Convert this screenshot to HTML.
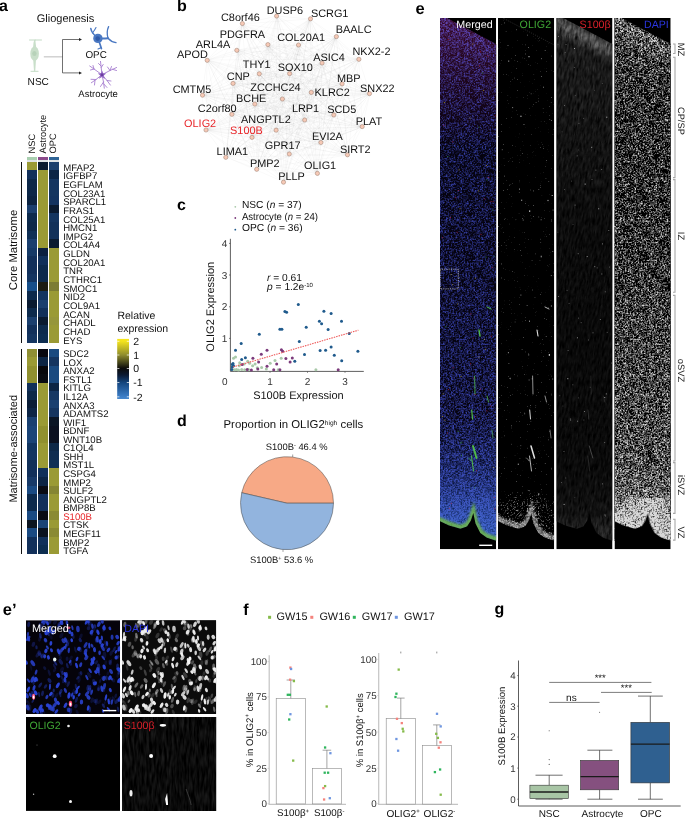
<!DOCTYPE html>
<html><head><meta charset="utf-8"><title>Figure</title>
<style>
html,body{margin:0;padding:0;background:#fff;}
body{width:685px;height:818px;overflow:hidden;}
svg{display:block;font-family:"Liberation Sans",Arial,sans-serif;text-rendering:geometricPrecision;}
</style></head><body>
<svg width="685" height="818" viewBox="0 0 685 818">
<rect width="685" height="818" fill="#fff"/>

<text x="-1" y="11.2" font-size="16" font-weight="bold" fill="#000">a</text>
<text x="177" y="10.6" font-size="16" font-weight="bold" fill="#000">b</text>
<text x="177" y="209.6" font-size="16" font-weight="bold" fill="#000">c</text>
<text x="177" y="425.5" font-size="16" font-weight="bold" fill="#000">d</text>
<text x="415.6" y="13.5" font-size="16.5" font-weight="bold" fill="#000">e</text>
<text x="2.8" y="614.5" font-size="16.5" font-weight="bold" fill="#000">e’</text>
<text x="243.3" y="614.6" font-size="16" font-weight="bold" fill="#000">f</text>
<text x="494.6" y="614.4" font-size="16" font-weight="bold" fill="#000">g</text>
<g id="schem">
<text x="36.80" y="22.34" font-size="11" text-anchor="start" fill="#111">Gliogenesis</text>
<g fill="none" stroke="#c3dbc5" stroke-width="1" stroke-linecap="round"><path d="M29.5 40 H41.5 M35 40 C33.5 43 34.6 45 34.6 47 M34.6 60 C34.6 64 34.6 68 34.6 71 M31 71.3 H38.1"/></g>
<ellipse cx="34.6" cy="53.7" rx="4.3" ry="7.2" fill="#c9dfca"/>
<ellipse cx="34.4" cy="53.5" rx="2.2" ry="2.6" fill="#b7d2b9"/>
<path d="M34.1 40 L33 47.5 L36.2 47.5 L35.3 40Z M33.2 59.5 L34 71 L35.2 71 L36 59.5Z" fill="#c9dfca"/>
<path d="M43.8 56.8 H62.5" stroke="#cfcfcf" stroke-width="1.4"/>
<path d="M80 39.5 H62.5 V72.9 H80" fill="none" stroke="#333" stroke-width="0.7"/>
<path d="M82 39.5 l-3 -1.5 v3z M82 72.9 l-3 -1.5 v3z" fill="#222"/>
<g stroke="#4a78c2" fill="none" stroke-linecap="round" stroke-linejoin="round"><path d="M97.9 38.4 C94 35 91.5 33 90.8 28.5" stroke-width="1.6"/><path d="M92.5 33 C94 31 95 29.5 96 27.5" stroke-width="1.1"/><path d="M97.9 38.4 C102 38.6 105 38.6 108 38.2" stroke-width="2"/><path d="M108 38.2 C106.8 34 107 30 108.6 26.6" stroke-width="1.3"/><path d="M108 38.2 C110.5 41 113 42.2 116 42.6" stroke-width="1.4"/><path d="M97.9 38.4 C99.5 43 100.5 45.5 101.4 48.6" stroke-width="1.7"/><path d="M101.2 47.5 C100 48.2 99 48.6 98 49" stroke-width="1.1"/></g>
<circle cx="97.9" cy="38.4" r="4.7" fill="#4a78c2"/>
<circle cx="97.7" cy="38.6" r="2.3" fill="#2f5aa8"/>
<text x="85.40" y="57.74" font-size="9.9" text-anchor="start" fill="#111">OPC</text>
<g stroke="#a77fd0" fill="none" stroke-linecap="round" stroke-width="0.9"><path d="M102 74.7 L100.5 61.4 M101 66 L98.5 63.5 M101.2 67.5 L103.2 64.5"/><path d="M102 74.7 L110 70.5 L116.6 67.5 M110 70.5 L111.5 66.5 M112.5 69.3 L116.5 70.5 M110 70.5 L107.5 67"/><path d="M102 74.7 L94 69 L89.7 66 M94 69 L93 65.5 M94 69 L90.5 70"/><path d="M102 74.7 L96 79.5 L91.3 82.8 M96 79.5 L91 79.3 M95 80.3 L94.5 85"/><path d="M102 74.7 L103.5 82 L104.3 88.2 M103.5 82 L100.5 86.5 M103.8 84 L107 87.5"/><path d="M102 74.7 L107 80.5 L110.4 85.1 M107 80.5 L111 81"/></g>
<path d="M102 70.5 L103.3 73.3 L106.2 73.6 L103.8 75.6 L105 79 L102 76.9 L98.8 78.8 L100.2 75.6 L97.8 73.4 L100.8 73.3Z" fill="#9a6fc9"/>
<circle cx="102" cy="74.8" r="1.5" fill="#6b3fa0"/>
<text x="78.30" y="97.44" font-size="9.6" text-anchor="start" fill="#111" textLength="39.6" lengthAdjust="spacingAndGlyphs">Astrocyte</text>
<text x="27.60" y="85.42" font-size="10.1" text-anchor="start" fill="#111">NSC</text>
</g>
<g id="heat" shape-rendering="crispEdges">
<rect x="26.9" y="157.1" width="10.2" height="2.9" fill="#a9cfb0"/>
<rect x="26.9" y="160" width="10.2" height="1.7" fill="#dfe3e6"/>
<rect x="37.9" y="157.1" width="10.1" height="2.9" fill="#8b4a8b"/>
<rect x="37.9" y="160" width="10.1" height="1.7" fill="#dfe3e6"/>
<rect x="48.8" y="157.1" width="10.2" height="2.9" fill="#2f6496"/>
<rect x="48.8" y="160" width="10.2" height="1.7" fill="#dfe3e6"/>
<rect x="26.9" y="161.70" width="10.2" height="8.66" fill="#9a9a35"/>
<rect x="37.9" y="161.70" width="10.1" height="8.66" fill="#0a1a30"/>
<rect x="48.8" y="161.70" width="10.2" height="8.66" fill="#1b3f6e"/>
<rect x="26.9" y="170.31" width="10.2" height="8.66" fill="#12305a"/>
<rect x="37.9" y="170.31" width="10.1" height="8.66" fill="#9a9a35"/>
<rect x="48.8" y="170.31" width="10.2" height="8.66" fill="#0c2545"/>
<rect x="26.9" y="178.93" width="10.2" height="8.66" fill="#0d2848"/>
<rect x="37.9" y="178.93" width="10.1" height="8.66" fill="#9a9a35"/>
<rect x="48.8" y="178.93" width="10.2" height="8.66" fill="#143560"/>
<rect x="26.9" y="187.54" width="10.2" height="8.66" fill="#0d2747"/>
<rect x="37.9" y="187.54" width="10.1" height="8.66" fill="#9a9a35"/>
<rect x="48.8" y="187.54" width="10.2" height="8.66" fill="#143560"/>
<rect x="26.9" y="196.16" width="10.2" height="8.66" fill="#0c2340"/>
<rect x="37.9" y="196.16" width="10.1" height="8.66" fill="#9a9a35"/>
<rect x="48.8" y="196.16" width="10.2" height="8.66" fill="#133360"/>
<rect x="26.9" y="204.77" width="10.2" height="8.66" fill="#1b3f6e"/>
<rect x="37.9" y="204.77" width="10.1" height="8.66" fill="#9a9a35"/>
<rect x="48.8" y="204.77" width="10.2" height="8.66" fill="#0a1a30"/>
<rect x="26.9" y="213.39" width="10.2" height="8.66" fill="#0d2a4c"/>
<rect x="37.9" y="213.39" width="10.1" height="8.66" fill="#9a9a35"/>
<rect x="48.8" y="213.39" width="10.2" height="8.66" fill="#143560"/>
<rect x="26.9" y="222.00" width="10.2" height="8.66" fill="#0d2848"/>
<rect x="37.9" y="222.00" width="10.1" height="8.66" fill="#9a9a35"/>
<rect x="48.8" y="222.00" width="10.2" height="8.66" fill="#12315a"/>
<rect x="26.9" y="230.61" width="10.2" height="8.66" fill="#103055"/>
<rect x="37.9" y="230.61" width="10.1" height="8.66" fill="#9a9a35"/>
<rect x="48.8" y="230.61" width="10.2" height="8.66" fill="#12315a"/>
<rect x="26.9" y="239.23" width="10.2" height="8.66" fill="#1b3f6e"/>
<rect x="37.9" y="239.23" width="10.1" height="8.66" fill="#9a9a35"/>
<rect x="48.8" y="239.23" width="10.2" height="8.66" fill="#0a1a30"/>
<rect x="26.9" y="247.84" width="10.2" height="8.66" fill="#163a66"/>
<rect x="37.9" y="247.84" width="10.1" height="8.66" fill="#0c2040"/>
<rect x="48.8" y="247.84" width="10.2" height="8.66" fill="#9a9a35"/>
<rect x="26.9" y="256.46" width="10.2" height="8.66" fill="#12305a"/>
<rect x="37.9" y="256.46" width="10.1" height="8.66" fill="#11305a"/>
<rect x="48.8" y="256.46" width="10.2" height="8.66" fill="#9a9a35"/>
<rect x="26.9" y="265.07" width="10.2" height="8.66" fill="#12305a"/>
<rect x="37.9" y="265.07" width="10.1" height="8.66" fill="#0d2a4c"/>
<rect x="48.8" y="265.07" width="10.2" height="8.66" fill="#9a9a35"/>
<rect x="26.9" y="273.69" width="10.2" height="8.66" fill="#143560"/>
<rect x="37.9" y="273.69" width="10.1" height="8.66" fill="#0d2a4c"/>
<rect x="48.8" y="273.69" width="10.2" height="8.66" fill="#9a9a35"/>
<rect x="26.9" y="282.30" width="10.2" height="8.66" fill="#174f8a"/>
<rect x="37.9" y="282.30" width="10.1" height="8.66" fill="#1c1c12"/>
<rect x="48.8" y="282.30" width="10.2" height="8.66" fill="#7c7c34"/>
<rect x="26.9" y="290.91" width="10.2" height="8.66" fill="#0d2a4c"/>
<rect x="37.9" y="290.91" width="10.1" height="8.66" fill="#143560"/>
<rect x="48.8" y="290.91" width="10.2" height="8.66" fill="#9a9a35"/>
<rect x="26.9" y="299.53" width="10.2" height="8.66" fill="#0a1a30"/>
<rect x="37.9" y="299.53" width="10.1" height="8.66" fill="#1b3f6e"/>
<rect x="48.8" y="299.53" width="10.2" height="8.66" fill="#9a9a35"/>
<rect x="26.9" y="308.14" width="10.2" height="8.66" fill="#0d2a4c"/>
<rect x="37.9" y="308.14" width="10.1" height="8.66" fill="#12305a"/>
<rect x="48.8" y="308.14" width="10.2" height="8.66" fill="#9a9a35"/>
<rect x="26.9" y="316.76" width="10.2" height="8.66" fill="#1b3f6e"/>
<rect x="37.9" y="316.76" width="10.1" height="8.66" fill="#0a1a30"/>
<rect x="48.8" y="316.76" width="10.2" height="8.66" fill="#96963a"/>
<rect x="26.9" y="325.37" width="10.2" height="8.66" fill="#12305a"/>
<rect x="37.9" y="325.37" width="10.1" height="8.66" fill="#0d2a4c"/>
<rect x="48.8" y="325.37" width="10.2" height="8.66" fill="#9a9a35"/>
<rect x="26.9" y="333.99" width="10.2" height="8.66" fill="#143560"/>
<rect x="37.9" y="333.99" width="10.1" height="8.66" fill="#0d2d50"/>
<rect x="48.8" y="333.99" width="10.2" height="8.66" fill="#9a9a35"/>
<rect x="26.9" y="348.50" width="10.2" height="8.61" fill="#8f8f34"/>
<rect x="37.9" y="348.50" width="10.1" height="8.61" fill="#080810"/>
<rect x="48.8" y="348.50" width="10.2" height="8.61" fill="#1a4a80"/>
<rect x="26.9" y="357.06" width="10.2" height="8.61" fill="#9a9a35"/>
<rect x="37.9" y="357.06" width="10.1" height="8.61" fill="#0c2545"/>
<rect x="48.8" y="357.06" width="10.2" height="8.61" fill="#153560"/>
<rect x="26.9" y="365.62" width="10.2" height="8.61" fill="#90902f"/>
<rect x="37.9" y="365.62" width="10.1" height="8.61" fill="#08080c"/>
<rect x="48.8" y="365.62" width="10.2" height="8.61" fill="#1a4a80"/>
<rect x="26.9" y="374.19" width="10.2" height="8.61" fill="#90902f"/>
<rect x="37.9" y="374.19" width="10.1" height="8.61" fill="#0a0c12"/>
<rect x="48.8" y="374.19" width="10.2" height="8.61" fill="#1a4a80"/>
<rect x="26.9" y="382.75" width="10.2" height="8.61" fill="#12305a"/>
<rect x="37.9" y="382.75" width="10.1" height="8.61" fill="#9a9a35"/>
<rect x="48.8" y="382.75" width="10.2" height="8.61" fill="#0c2545"/>
<rect x="26.9" y="391.31" width="10.2" height="8.61" fill="#0d2848"/>
<rect x="37.9" y="391.31" width="10.1" height="8.61" fill="#9a9a35"/>
<rect x="48.8" y="391.31" width="10.2" height="8.61" fill="#173863"/>
<rect x="26.9" y="399.88" width="10.2" height="8.61" fill="#0b1d36"/>
<rect x="37.9" y="399.88" width="10.1" height="8.61" fill="#9a9a35"/>
<rect x="48.8" y="399.88" width="10.2" height="8.61" fill="#1a4070"/>
<rect x="26.9" y="408.44" width="10.2" height="8.61" fill="#0d2545"/>
<rect x="37.9" y="408.44" width="10.1" height="8.61" fill="#9a9a35"/>
<rect x="48.8" y="408.44" width="10.2" height="8.61" fill="#153560"/>
<rect x="26.9" y="417.00" width="10.2" height="8.61" fill="#1a4070"/>
<rect x="37.9" y="417.00" width="10.1" height="8.61" fill="#9a9a35"/>
<rect x="48.8" y="417.00" width="10.2" height="8.61" fill="#0a1525"/>
<rect x="26.9" y="425.56" width="10.2" height="8.61" fill="#1b4477"/>
<rect x="37.9" y="425.56" width="10.1" height="8.61" fill="#90902f"/>
<rect x="48.8" y="425.56" width="10.2" height="8.61" fill="#0a1020"/>
<rect x="26.9" y="434.12" width="10.2" height="8.61" fill="#1b4477"/>
<rect x="37.9" y="434.12" width="10.1" height="8.61" fill="#90902f"/>
<rect x="48.8" y="434.12" width="10.2" height="8.61" fill="#0a1020"/>
<rect x="26.9" y="442.69" width="10.2" height="8.61" fill="#123560"/>
<rect x="37.9" y="442.69" width="10.1" height="8.61" fill="#9a9a35"/>
<rect x="48.8" y="442.69" width="10.2" height="8.61" fill="#0d2848"/>
<rect x="26.9" y="451.25" width="10.2" height="8.61" fill="#143560"/>
<rect x="37.9" y="451.25" width="10.1" height="8.61" fill="#9a9a35"/>
<rect x="48.8" y="451.25" width="10.2" height="8.61" fill="#0f2c50"/>
<rect x="26.9" y="459.81" width="10.2" height="8.61" fill="#123058"/>
<rect x="37.9" y="459.81" width="10.1" height="8.61" fill="#9a9a35"/>
<rect x="48.8" y="459.81" width="10.2" height="8.61" fill="#103055"/>
<rect x="26.9" y="468.38" width="10.2" height="8.61" fill="#12305a"/>
<rect x="37.9" y="468.38" width="10.1" height="8.61" fill="#10305a"/>
<rect x="48.8" y="468.38" width="10.2" height="8.61" fill="#9a9a35"/>
<rect x="26.9" y="476.94" width="10.2" height="8.61" fill="#183a68"/>
<rect x="37.9" y="476.94" width="10.1" height="8.61" fill="#0c2545"/>
<rect x="48.8" y="476.94" width="10.2" height="8.61" fill="#9a9a35"/>
<rect x="26.9" y="485.50" width="10.2" height="8.61" fill="#1a4a82"/>
<rect x="37.9" y="485.50" width="10.1" height="8.61" fill="#0a0c14"/>
<rect x="48.8" y="485.50" width="10.2" height="8.61" fill="#858533"/>
<rect x="26.9" y="494.06" width="10.2" height="8.61" fill="#0d2a4c"/>
<rect x="37.9" y="494.06" width="10.1" height="8.61" fill="#12305a"/>
<rect x="48.8" y="494.06" width="10.2" height="8.61" fill="#9a9a35"/>
<rect x="26.9" y="502.62" width="10.2" height="8.61" fill="#0d2a4c"/>
<rect x="37.9" y="502.62" width="10.1" height="8.61" fill="#12305a"/>
<rect x="48.8" y="502.62" width="10.2" height="8.61" fill="#9a9a35"/>
<rect x="26.9" y="511.19" width="10.2" height="8.61" fill="#1a4a82"/>
<rect x="37.9" y="511.19" width="10.1" height="8.61" fill="#0a0c14"/>
<rect x="48.8" y="511.19" width="10.2" height="8.61" fill="#8a8a33"/>
<rect x="26.9" y="519.75" width="10.2" height="8.61" fill="#0c1520"/>
<rect x="37.9" y="519.75" width="10.1" height="8.61" fill="#1b4477"/>
<rect x="48.8" y="519.75" width="10.2" height="8.61" fill="#9a9a35"/>
<rect x="26.9" y="528.31" width="10.2" height="8.61" fill="#1a4a82"/>
<rect x="37.9" y="528.31" width="10.1" height="8.61" fill="#0a1220"/>
<rect x="48.8" y="528.31" width="10.2" height="8.61" fill="#8a8a33"/>
<rect x="26.9" y="536.88" width="10.2" height="8.61" fill="#12305a"/>
<rect x="37.9" y="536.88" width="10.1" height="8.61" fill="#11305a"/>
<rect x="48.8" y="536.88" width="10.2" height="8.61" fill="#9a9a35"/>
<rect x="26.9" y="545.44" width="10.2" height="8.61" fill="#12305a"/>
<rect x="37.9" y="545.44" width="10.1" height="8.61" fill="#0d2d50"/>
<rect x="48.8" y="545.44" width="10.2" height="8.61" fill="#9a9a35"/>
<rect x="21.3" y="161.9" width="1" height="180.7" fill="#111"/>
<rect x="21.3" y="348.5" width="1" height="205.5" fill="#111"/>
</g>
<text x="63.20" y="170.64" font-size="9.6" text-anchor="start" fill="#111">MFAP2</text>
<text x="63.20" y="179.28" font-size="9.6" text-anchor="start" fill="#111">IGFBP7</text>
<text x="63.20" y="187.93" font-size="9.6" text-anchor="start" fill="#111">EGFLAM</text>
<text x="63.20" y="196.57" font-size="9.6" text-anchor="start" fill="#111">COL23A1</text>
<text x="63.20" y="205.22" font-size="9.6" text-anchor="start" fill="#111">SPARCL1</text>
<text x="63.20" y="213.86" font-size="9.6" text-anchor="start" fill="#111">FRAS1</text>
<text x="63.20" y="222.51" font-size="9.6" text-anchor="start" fill="#111">COL25A1</text>
<text x="63.20" y="231.15" font-size="9.6" text-anchor="start" fill="#111">HMCN1</text>
<text x="63.20" y="239.80" font-size="9.6" text-anchor="start" fill="#111">IMPG2</text>
<text x="63.20" y="248.44" font-size="9.6" text-anchor="start" fill="#111">COL4A4</text>
<text x="63.20" y="257.09" font-size="9.6" text-anchor="start" fill="#111">GLDN</text>
<text x="63.20" y="265.73" font-size="9.6" text-anchor="start" fill="#111">COL20A1</text>
<text x="63.20" y="274.38" font-size="9.6" text-anchor="start" fill="#111">TNR</text>
<text x="63.20" y="283.02" font-size="9.6" text-anchor="start" fill="#111">CTHRC1</text>
<text x="63.20" y="291.67" font-size="9.6" text-anchor="start" fill="#111">SMOC1</text>
<text x="63.20" y="300.31" font-size="9.6" text-anchor="start" fill="#111">NID2</text>
<text x="63.20" y="308.96" font-size="9.6" text-anchor="start" fill="#111">COL9A1</text>
<text x="63.20" y="317.60" font-size="9.6" text-anchor="start" fill="#111">ACAN</text>
<text x="63.20" y="326.25" font-size="9.6" text-anchor="start" fill="#111">CHADL</text>
<text x="63.20" y="334.89" font-size="9.6" text-anchor="start" fill="#111">CHAD</text>
<text x="63.20" y="343.54" font-size="9.6" text-anchor="start" fill="#111">EYS</text>
<text x="63.20" y="357.14" font-size="9.6" text-anchor="start" fill="#111">SDC2</text>
<text x="63.20" y="365.70" font-size="9.6" text-anchor="start" fill="#111">LOX</text>
<text x="63.20" y="374.27" font-size="9.6" text-anchor="start" fill="#111">ANXA2</text>
<text x="63.20" y="382.83" font-size="9.6" text-anchor="start" fill="#111">FSTL1</text>
<text x="63.20" y="391.40" font-size="9.6" text-anchor="start" fill="#111">KITLG</text>
<text x="63.20" y="399.96" font-size="9.6" text-anchor="start" fill="#111">IL12A</text>
<text x="63.20" y="408.53" font-size="9.6" text-anchor="start" fill="#111">ANXA3</text>
<text x="63.20" y="417.09" font-size="9.6" text-anchor="start" fill="#111">ADAMTS2</text>
<text x="63.20" y="425.66" font-size="9.6" text-anchor="start" fill="#111">WIF1</text>
<text x="63.20" y="434.22" font-size="9.6" text-anchor="start" fill="#111">BDNF</text>
<text x="63.20" y="442.79" font-size="9.6" text-anchor="start" fill="#111">WNT10B</text>
<text x="63.20" y="451.35" font-size="9.6" text-anchor="start" fill="#111">C1QL4</text>
<text x="63.20" y="459.92" font-size="9.6" text-anchor="start" fill="#111">SHH</text>
<text x="63.20" y="468.48" font-size="9.6" text-anchor="start" fill="#111">MST1L</text>
<text x="63.20" y="477.05" font-size="9.6" text-anchor="start" fill="#111">CSPG4</text>
<text x="63.20" y="485.62" font-size="9.6" text-anchor="start" fill="#111">MMP2</text>
<text x="63.20" y="494.18" font-size="9.6" text-anchor="start" fill="#111">SULF2</text>
<text x="63.20" y="502.75" font-size="9.6" text-anchor="start" fill="#111">ANGPTL2</text>
<text x="63.20" y="511.31" font-size="9.6" text-anchor="start" fill="#111">BMP8B</text>
<text x="63.20" y="519.88" font-size="9.6" text-anchor="start" fill="#e8262a">S100B</text>
<text x="63.20" y="528.44" font-size="9.6" text-anchor="start" fill="#111">CTSK</text>
<text x="63.20" y="537.01" font-size="9.6" text-anchor="start" fill="#111">MEGF11</text>
<text x="63.20" y="545.57" font-size="9.6" text-anchor="start" fill="#111">BMP2</text>
<text x="63.20" y="554.14" font-size="9.6" text-anchor="start" fill="#111">TGFA</text>
<text x="31.60" y="156.83" font-size="9.3" text-anchor="start" fill="#111" transform="rotate(-90 31.60 153.50)">NSC</text>
<text x="42.50" y="156.83" font-size="9.3" text-anchor="start" fill="#111" transform="rotate(-90 42.50 153.50)">Astrocyte</text>
<text x="52.30" y="156.83" font-size="9.3" text-anchor="start" fill="#111" transform="rotate(-90 52.30 153.50)">OPC</text>
<text x="13.20" y="254.05" font-size="11.3" text-anchor="middle" fill="#111" transform="rotate(-90 13.20 250.00)">Core Matrisome</text>
<text x="13.20" y="452.74" font-size="11" text-anchor="middle" fill="#111" transform="rotate(-90 13.20 448.80)">Matrisome-associated</text>
<defs><linearGradient id="cb" x1="0" y1="0" x2="0" y2="1"><stop offset="0" stop-color="#f7e71c"/><stop offset="0.04" stop-color="#f3e31e"/><stop offset="0.27" stop-color="#8d8b2d"/><stop offset="0.49" stop-color="#0c0c0a"/><stop offset="0.6" stop-color="#0b1a33"/><stop offset="0.73" stop-color="#14467f"/><stop offset="0.96" stop-color="#3c7dc6"/><stop offset="1" stop-color="#4787cc"/></linearGradient></defs>
<rect x="117.2" y="338.9" width="11.8" height="60.1" fill="url(#cb)"/>
<path d="M117.2 341.3 h2.2 M126.8 341.3 h2.2" stroke="#fff" stroke-width="0.7"/>
<text x="133.20" y="345.06" font-size="10.5" text-anchor="start" fill="#111">2</text>
<path d="M117.2 355.0 h2.2 M126.8 355.0 h2.2" stroke="#fff" stroke-width="0.7"/>
<text x="133.20" y="358.76" font-size="10.5" text-anchor="start" fill="#111">1</text>
<path d="M117.2 368.5 h2.2 M126.8 368.5 h2.2" stroke="#fff" stroke-width="0.7"/>
<text x="133.20" y="372.26" font-size="10.5" text-anchor="start" fill="#111">0</text>
<path d="M117.2 382.5 h2.2 M126.8 382.5 h2.2" stroke="#fff" stroke-width="0.7"/>
<text x="133.20" y="386.26" font-size="10.5" text-anchor="start" fill="#111">-1</text>
<path d="M117.2 396.8 h2.2 M126.8 396.8 h2.2" stroke="#fff" stroke-width="0.7"/>
<text x="133.20" y="400.56" font-size="10.5" text-anchor="start" fill="#111">-2</text>
<text x="117.40" y="319.46" font-size="10.5" text-anchor="start" fill="#111">Relative</text>
<text x="117.40" y="331.96" font-size="10.5" text-anchor="start" fill="#111">expression</text>
<g id="net">
<path d="M242 24L277 16M242 24L310 19M242 24L336 37M242 24L268 45M242 24L298 45M242 24L237 50M242 24L207 60M242 24L322 63M242 24L259 74M242 24L233 83M242 24L370 94M242 24L202 95M242 24L282 99M242 24L311 92M242 24L232 114M242 24L305 120M242 24L334 115M242 24L362 127M242 24L206 130M242 24L276 130M242 24L252 137M242 24L321 142M242 24L226 157M242 24L289 154M242 24L317 173M277 16L310 19M277 16L268 45M277 16L207 60M277 16L359 59M277 16L322 63M277 16L290 74M277 16L233 83M277 16L342 84M277 16L370 94M277 16L202 95M277 16L282 99M277 16L311 92M277 16L255 104M277 16L305 120M277 16L276 130M277 16L252 137M277 16L289 154M277 16L257 169M277 16L317 173M310 19L336 37M310 19L268 45M310 19L298 45M310 19L359 59M310 19L259 74M310 19L290 74M310 19L233 83M310 19L342 84M310 19L202 95M310 19L282 99M310 19L311 92M310 19L255 104M310 19L232 114M310 19L362 127M310 19L276 130M310 19L252 137M310 19L321 142M310 19L348 155M310 19L226 157M310 19L289 154M310 19L257 169M310 19L317 173M310 19L284 182M336 37L298 45M336 37L359 59M336 37L322 63M336 37L259 74M336 37L290 74M336 37L233 83M336 37L342 84M336 37L370 94M336 37L282 99M336 37L311 92M336 37L255 104M336 37L232 114M336 37L305 120M336 37L362 127M336 37L206 130M336 37L276 130M336 37L252 137M336 37L321 142M336 37L348 155M336 37L226 157M336 37L289 154M336 37L257 169M336 37L317 173M336 37L284 182M268 45L298 45M268 45L237 50M268 45L207 60M268 45L359 59M268 45L322 63M268 45L259 74M268 45L290 74M268 45L342 84M268 45L370 94M268 45L202 95M268 45L282 99M268 45L311 92M268 45L255 104M268 45L232 114M268 45L305 120M268 45L334 115M268 45L362 127M268 45L206 130M268 45L276 130M268 45L252 137M268 45L321 142M268 45L348 155M268 45L226 157M268 45L257 169M268 45L317 173M268 45L284 182M298 45L237 50M298 45L207 60M298 45L359 59M298 45L322 63M298 45L290 74M298 45L342 84M298 45L370 94M298 45L202 95M298 45L311 92M298 45L255 104M298 45L232 114M298 45L305 120M298 45L334 115M298 45L276 130M298 45L252 137M298 45L348 155M298 45L289 154M298 45L257 169M298 45L317 173M298 45L284 182M237 50L207 60M237 50L359 59M237 50L322 63M237 50L259 74M237 50L290 74M237 50L342 84M237 50L370 94M237 50L255 104M237 50L334 115M237 50L362 127M237 50L276 130M237 50L252 137M237 50L321 142M237 50L348 155M237 50L226 157M237 50L289 154M237 50L257 169M237 50L317 173M207 60L359 59M207 60L259 74M207 60L370 94M207 60L202 95M207 60L282 99M207 60L311 92M207 60L255 104M207 60L232 114M207 60L305 120M207 60L334 115M207 60L206 130M207 60L276 130M207 60L252 137M207 60L348 155M207 60L226 157M207 60L289 154M207 60L257 169M207 60L317 173M359 59L322 63M359 59L259 74M359 59L370 94M359 59L202 95M359 59L311 92M359 59L255 104M359 59L232 114M359 59L305 120M359 59L334 115M359 59L362 127M359 59L206 130M359 59L276 130M359 59L252 137M359 59L321 142M359 59L348 155M359 59L226 157M359 59L317 173M359 59L284 182M322 63L259 74M322 63L290 74M322 63L233 83M322 63L342 84M322 63L370 94M322 63L202 95M322 63L282 99M322 63L311 92M322 63L255 104M322 63L232 114M322 63L305 120M322 63L334 115M322 63L362 127M322 63L206 130M322 63L276 130M322 63L252 137M322 63L321 142M322 63L348 155M322 63L289 154M322 63L257 169M322 63L317 173M322 63L284 182M259 74L290 74M259 74L233 83M259 74L342 84M259 74L370 94M259 74L202 95M259 74L282 99M259 74L311 92M259 74L255 104M259 74L232 114M259 74L305 120M259 74L206 130M259 74L252 137M259 74L321 142M259 74L348 155M259 74L226 157M259 74L257 169M259 74L284 182M290 74L233 83M290 74L342 84M290 74L370 94M290 74L202 95M290 74L282 99M290 74L311 92M290 74L255 104M290 74L232 114M290 74L305 120M290 74L334 115M290 74L362 127M290 74L276 130M290 74L252 137M290 74L348 155M290 74L289 154M290 74L284 182M233 83L342 84M233 83L370 94M233 83L202 95M233 83L282 99M233 83L311 92M233 83L255 104M233 83L232 114M233 83L334 115M233 83L362 127M233 83L206 130M233 83L252 137M233 83L321 142M233 83L348 155M233 83L226 157M233 83L289 154M233 83L257 169M233 83L317 173M233 83L284 182M342 84L370 94M342 84L202 95M342 84L282 99M342 84L311 92M342 84L232 114M342 84L305 120M342 84L334 115M342 84L362 127M342 84L206 130M342 84L276 130M342 84L252 137M342 84L321 142M342 84L348 155M342 84L289 154M342 84L257 169M342 84L317 173M370 94L202 95M370 94L282 99M370 94L311 92M370 94L255 104M370 94L232 114M370 94L305 120M370 94L334 115M370 94L362 127M370 94L206 130M370 94L276 130M370 94L321 142M370 94L348 155M370 94L226 157M370 94L257 169M370 94L317 173M370 94L284 182M202 95L282 99M202 95L311 92M202 95L255 104M202 95L232 114M202 95L305 120M202 95L334 115M202 95L362 127M202 95L206 130M202 95L252 137M202 95L321 142M202 95L348 155M202 95L257 169M202 95L317 173M202 95L284 182M282 99L255 104M282 99L232 114M282 99L334 115M282 99L362 127M282 99L206 130M282 99L276 130M282 99L252 137M282 99L226 157M282 99L289 154M282 99L257 169M282 99L317 173M282 99L284 182M311 92L305 120M311 92L362 127M311 92L206 130M311 92L276 130M311 92L252 137M311 92L321 142M311 92L226 157M311 92L289 154M311 92L257 169M311 92L317 173M311 92L284 182M255 104L232 114M255 104L305 120M255 104L334 115M255 104L362 127M255 104L206 130M255 104L252 137M255 104L321 142M255 104L348 155M255 104L226 157M255 104L289 154M255 104L257 169M232 114L305 120M232 114L362 127M232 114L206 130M232 114L276 130M232 114L252 137M232 114L321 142M232 114L348 155M232 114L289 154M232 114L257 169M232 114L284 182M305 120L334 115M305 120L362 127M305 120L206 130M305 120L276 130M305 120L252 137M305 120L321 142M305 120L348 155M305 120L226 157M305 120L289 154M305 120L257 169M305 120L317 173M334 115L362 127M334 115L206 130M334 115L252 137M334 115L321 142M334 115L348 155M334 115L226 157M334 115L289 154M334 115L257 169M334 115L317 173M334 115L284 182M362 127L206 130M362 127L276 130M362 127L252 137M362 127L321 142M362 127L348 155M362 127L226 157M362 127L289 154M362 127L257 169M362 127L317 173M206 130L276 130M206 130L252 137M206 130L321 142M206 130L348 155M206 130L226 157M206 130L289 154M206 130L257 169M206 130L317 173M206 130L284 182M276 130L252 137M276 130L348 155M276 130L226 157M276 130L289 154M276 130L257 169M276 130L317 173M276 130L284 182M252 137L321 142M252 137L348 155M252 137L226 157M252 137L289 154M252 137L317 173M252 137L284 182M321 142L348 155M321 142L226 157M321 142L289 154M321 142L257 169M321 142L317 173M321 142L284 182M348 155L226 157M348 155L289 154M348 155L257 169M226 157L257 169M226 157L317 173M226 157L284 182M289 154L257 169M289 154L284 182M257 169L317 173M317 173L284 182" stroke="#000" stroke-opacity="0.07" stroke-width="0.35" fill="none"/>
<circle cx="242.4" cy="23.5" r="2.1" fill="#f6c9b6" stroke="#a08274" stroke-width="0.55"/>
<circle cx="276.6" cy="16" r="2.1" fill="#f6c9b6" stroke="#a08274" stroke-width="0.55"/>
<circle cx="310.5" cy="18.8" r="2.1" fill="#f6c9b6" stroke="#a08274" stroke-width="0.55"/>
<circle cx="336.4" cy="36.6" r="2.1" fill="#f6c9b6" stroke="#a08274" stroke-width="0.55"/>
<circle cx="267.9" cy="44.6" r="2.1" fill="#f6c9b6" stroke="#a08274" stroke-width="0.55"/>
<circle cx="298.5" cy="45" r="2.1" fill="#f6c9b6" stroke="#a08274" stroke-width="0.55"/>
<circle cx="236.8" cy="50.3" r="2.1" fill="#f6c9b6" stroke="#a08274" stroke-width="0.55"/>
<circle cx="207.2" cy="60.3" r="2.1" fill="#f6c9b6" stroke="#a08274" stroke-width="0.55"/>
<circle cx="358.9" cy="59.3" r="2.1" fill="#f6c9b6" stroke="#a08274" stroke-width="0.55"/>
<circle cx="322.1" cy="63" r="2.1" fill="#f6c9b6" stroke="#a08274" stroke-width="0.55"/>
<circle cx="259.3" cy="73.8" r="2.1" fill="#f6c9b6" stroke="#a08274" stroke-width="0.55"/>
<circle cx="289.6" cy="73.6" r="2.1" fill="#f6c9b6" stroke="#a08274" stroke-width="0.55"/>
<circle cx="233" cy="83.4" r="2.1" fill="#f6c9b6" stroke="#a08274" stroke-width="0.55"/>
<circle cx="342.1" cy="83.8" r="2.1" fill="#f6c9b6" stroke="#a08274" stroke-width="0.55"/>
<circle cx="369.5" cy="93.6" r="2.1" fill="#f6c9b6" stroke="#a08274" stroke-width="0.55"/>
<circle cx="202.5" cy="95.2" r="2.1" fill="#f6c9b6" stroke="#a08274" stroke-width="0.55"/>
<circle cx="282.4" cy="99" r="2.1" fill="#f6c9b6" stroke="#a08274" stroke-width="0.55"/>
<circle cx="311.3" cy="92.4" r="2.1" fill="#f6c9b6" stroke="#a08274" stroke-width="0.55"/>
<circle cx="254.8" cy="104.1" r="2.1" fill="#f6c9b6" stroke="#a08274" stroke-width="0.55"/>
<circle cx="231.9" cy="114.3" r="2.1" fill="#f6c9b6" stroke="#a08274" stroke-width="0.55"/>
<circle cx="304.7" cy="120" r="2.1" fill="#f6c9b6" stroke="#a08274" stroke-width="0.55"/>
<circle cx="333.8" cy="114.9" r="2.1" fill="#f6c9b6" stroke="#a08274" stroke-width="0.55"/>
<circle cx="362.2" cy="126.6" r="2.1" fill="#f6c9b6" stroke="#a08274" stroke-width="0.55"/>
<circle cx="206" cy="130" r="2.1" fill="#f6c9b6" stroke="#a08274" stroke-width="0.55"/>
<circle cx="276.1" cy="130.2" r="2.1" fill="#f6c9b6" stroke="#a08274" stroke-width="0.55"/>
<circle cx="252" cy="137.4" r="2.1" fill="#f6c9b6" stroke="#a08274" stroke-width="0.55"/>
<circle cx="320.9" cy="142.5" r="2.1" fill="#f6c9b6" stroke="#a08274" stroke-width="0.55"/>
<circle cx="347.5" cy="154.8" r="2.1" fill="#f6c9b6" stroke="#a08274" stroke-width="0.55"/>
<circle cx="225.8" cy="157.3" r="2.1" fill="#f6c9b6" stroke="#a08274" stroke-width="0.55"/>
<circle cx="289.3" cy="154" r="2.1" fill="#f6c9b6" stroke="#a08274" stroke-width="0.55"/>
<circle cx="256.7" cy="169.3" r="2.1" fill="#f6c9b6" stroke="#a08274" stroke-width="0.55"/>
<circle cx="317.4" cy="173.4" r="2.1" fill="#f6c9b6" stroke="#a08274" stroke-width="0.55"/>
<circle cx="283.5" cy="182.2" r="2.1" fill="#f6c9b6" stroke="#a08274" stroke-width="0.55"/>
<text x="221.00" y="21.30" font-size="10.9" text-anchor="start" fill="#111">C8orf46</text>
<text x="266.70" y="13.70" font-size="10.9" text-anchor="start" fill="#111">DUSP6</text>
<text x="310.90" y="17.20" font-size="10.9" text-anchor="start" fill="#111">SCRG1</text>
<text x="335.80" y="32.50" font-size="10.9" text-anchor="start" fill="#111">BAALC</text>
<text x="219.70" y="37.60" font-size="10.9" text-anchor="start" fill="#111">PDGFRA</text>
<text x="277.20" y="41.30" font-size="10.9" text-anchor="start" fill="#111">COL20A1</text>
<text x="195.80" y="47.90" font-size="10.9" text-anchor="start" fill="#111">ARL4A</text>
<text x="177.00" y="58.10" font-size="10.9" text-anchor="start" fill="#111">APOD</text>
<text x="352.40" y="55.00" font-size="10.9" text-anchor="start" fill="#111">NKX2-2</text>
<text x="313.30" y="61.10" font-size="10.9" text-anchor="start" fill="#111">ASIC4</text>
<text x="242.80" y="68.30" font-size="10.9" text-anchor="start" fill="#111">THY1</text>
<text x="277.80" y="71.30" font-size="10.9" text-anchor="start" fill="#111">SOX10</text>
<text x="226.80" y="79.90" font-size="10.9" text-anchor="start" fill="#111">CNP</text>
<text x="337.00" y="81.90" font-size="10.9" text-anchor="start" fill="#111">MBP</text>
<text x="360.00" y="91.80" font-size="10.9" text-anchor="start" fill="#111">SNX22</text>
<text x="172.70" y="93.20" font-size="10.9" text-anchor="start" fill="#111">CMTM5</text>
<text x="250.30" y="90.80" font-size="10.9" text-anchor="start" fill="#111">ZCCHC24</text>
<text x="314.60" y="96.30" font-size="10.9" text-anchor="start" fill="#111">KLRC2</text>
<text x="236.00" y="101.90" font-size="10.9" text-anchor="start" fill="#111">BCHE</text>
<text x="197.80" y="111.50" font-size="10.9" text-anchor="start" fill="#111">C2orf80</text>
<text x="291.90" y="112.30" font-size="10.9" text-anchor="start" fill="#111">LRP1</text>
<text x="327.20" y="112.70" font-size="10.9" text-anchor="start" fill="#111">SCD5</text>
<text x="355.80" y="124.60" font-size="10.9" text-anchor="start" fill="#111">PLAT</text>
<text x="184.10" y="127.40" font-size="10.9" text-anchor="start" fill="#e8262a">OLIG2</text>
<text x="241.10" y="122.70" font-size="10.9" text-anchor="start" fill="#111">ANGPTL2</text>
<text x="230.10" y="133.90" font-size="10.9" text-anchor="start" fill="#e8262a">S100B</text>
<text x="311.90" y="140.30" font-size="10.9" text-anchor="start" fill="#111">EVI2A</text>
<text x="339.90" y="152.60" font-size="10.9" text-anchor="start" fill="#111">SIRT2</text>
<text x="216.60" y="155.40" font-size="10.9" text-anchor="start" fill="#111">LIMA1</text>
<text x="264.80" y="148.90" font-size="10.9" text-anchor="start" fill="#111">GPR17</text>
<text x="249.90" y="167.30" font-size="10.9" text-anchor="start" fill="#111">PMP2</text>
<text x="304.10" y="168.90" font-size="10.9" text-anchor="start" fill="#111">OLIG1</text>
<text x="278.20" y="179.80" font-size="10.9" text-anchor="start" fill="#111">PLLP</text>
</g>
<g id="scatter">
<circle cx="235.3" cy="206.8" r="0.9" fill="#a9c9a9"/>
<text x="241.90" y="208.35" font-size="10.2" text-anchor="start" fill="#111" textLength="59.8" lengthAdjust="spacingAndGlyphs">NSC (<tspan font-style="italic">n</tspan> = 37)</text>
<circle cx="235.3" cy="218.0" r="0.9" fill="#7b3a7b"/>
<text x="241.90" y="219.85" font-size="10.2" text-anchor="start" fill="#111" textLength="76.1" lengthAdjust="spacingAndGlyphs">Astrocyte (<tspan font-style="italic">n</tspan> = 24)</text>
<circle cx="235.3" cy="229.7" r="0.9" fill="#1f5a8c"/>
<text x="241.90" y="231.05" font-size="10.2" text-anchor="start" fill="#111" textLength="60.8" lengthAdjust="spacingAndGlyphs">OPC (<tspan font-style="italic">n</tspan> = 36)</text>
<path d="M230.4 238.8 V371.4 H363.8" fill="none" stroke="#4d4d4d" stroke-width="0.9"/>
<path d="M229 243.4 h1.4" stroke="#4d4d4d" stroke-width="0.7"/>
<text x="227.30" y="246.98" font-size="10" text-anchor="end" fill="#333">4</text>
<path d="M229 275 h1.4" stroke="#4d4d4d" stroke-width="0.7"/>
<text x="227.30" y="278.58" font-size="10" text-anchor="end" fill="#333">3</text>
<path d="M229 306.8 h1.4" stroke="#4d4d4d" stroke-width="0.7"/>
<text x="227.30" y="310.38" font-size="10" text-anchor="end" fill="#333">2</text>
<path d="M229 338.4 h1.4" stroke="#4d4d4d" stroke-width="0.7"/>
<text x="227.30" y="341.98" font-size="10" text-anchor="end" fill="#333">1</text>
<path d="M270 371.4 v1.4" stroke="#4d4d4d" stroke-width="0.7"/>
<text x="270.00" y="385.08" font-size="10" text-anchor="middle" fill="#333">1</text>
<path d="M307.5 371.4 v1.4" stroke="#4d4d4d" stroke-width="0.7"/>
<text x="307.50" y="385.08" font-size="10" text-anchor="middle" fill="#333">2</text>
<path d="M345 371.4 v1.4" stroke="#4d4d4d" stroke-width="0.7"/>
<text x="345.00" y="385.08" font-size="10" text-anchor="middle" fill="#333">3</text>
<text x="224.70" y="385.08" font-size="10" text-anchor="middle" fill="#333">0</text>
<circle cx="233.5" cy="358.3" r="1.5" fill="#a9c9a9"/>
<circle cx="235.5" cy="357" r="1.5" fill="#a9c9a9"/>
<circle cx="247.7" cy="361.2" r="1.5" fill="#a9c9a9"/>
<circle cx="249.6" cy="363.2" r="1.5" fill="#a9c9a9"/>
<circle cx="244.2" cy="364" r="1.5" fill="#a9c9a9"/>
<circle cx="255.1" cy="364" r="1.5" fill="#a9c9a9"/>
<circle cx="275" cy="360.5" r="1.5" fill="#a9c9a9"/>
<circle cx="281.2" cy="358.3" r="1.5" fill="#a9c9a9"/>
<circle cx="270.2" cy="363.2" r="1.5" fill="#a9c9a9"/>
<circle cx="261.6" cy="367.4" r="1.5" fill="#a9c9a9"/>
<circle cx="257.3" cy="367.7" r="1.5" fill="#a9c9a9"/>
<circle cx="266.3" cy="368.9" r="1.5" fill="#a9c9a9"/>
<circle cx="278.2" cy="369.7" r="1.5" fill="#a9c9a9"/>
<circle cx="315.9" cy="369.7" r="1.5" fill="#a9c9a9"/>
<circle cx="236.5" cy="369.4" r="1.5" fill="#a9c9a9"/>
<circle cx="234.5" cy="369.8" r="1.5" fill="#a9c9a9"/>
<circle cx="241.7" cy="369.4" r="1.5" fill="#a9c9a9"/>
<circle cx="244.7" cy="369.7" r="1.5" fill="#a9c9a9"/>
<circle cx="239.2" cy="365.7" r="1.5" fill="#a9c9a9"/>
<circle cx="239.7" cy="362.7" r="1.5" fill="#a9c9a9"/>
<circle cx="252.6" cy="365.7" r="1.5" fill="#a9c9a9"/>
<circle cx="238.5" cy="369.9" r="1.5" fill="#a9c9a9"/>
<circle cx="248.5" cy="369.6" r="1.5" fill="#a9c9a9"/>
<circle cx="267" cy="350.3" r="1.5" fill="#7b3a7b"/>
<circle cx="261.3" cy="354.3" r="1.5" fill="#7b3a7b"/>
<circle cx="281.4" cy="349.8" r="1.5" fill="#7b3a7b"/>
<circle cx="282.7" cy="351.3" r="1.5" fill="#7b3a7b"/>
<circle cx="252.9" cy="358.3" r="1.5" fill="#7b3a7b"/>
<circle cx="258.6" cy="362" r="1.5" fill="#7b3a7b"/>
<circle cx="285.9" cy="358.5" r="1.5" fill="#7b3a7b"/>
<circle cx="292.3" cy="358" r="1.5" fill="#7b3a7b"/>
<circle cx="290.1" cy="362" r="1.5" fill="#7b3a7b"/>
<circle cx="276.7" cy="364" r="1.5" fill="#7b3a7b"/>
<circle cx="267" cy="366.2" r="1.5" fill="#7b3a7b"/>
<circle cx="273.7" cy="369.7" r="1.5" fill="#7b3a7b"/>
<circle cx="279.9" cy="369.7" r="1.5" fill="#7b3a7b"/>
<circle cx="257.8" cy="368.9" r="1.5" fill="#7b3a7b"/>
<circle cx="251.4" cy="369.9" r="1.5" fill="#7b3a7b"/>
<circle cx="247.2" cy="369.4" r="1.5" fill="#7b3a7b"/>
<circle cx="338.2" cy="369.7" r="1.5" fill="#7b3a7b"/>
<circle cx="242.2" cy="364.5" r="1.5" fill="#7b3a7b"/>
<circle cx="298.3" cy="304.6" r="1.5" fill="#1f5a8c"/>
<circle cx="284.9" cy="311.6" r="1.5" fill="#1f5a8c"/>
<circle cx="286.6" cy="312.3" r="1.5" fill="#1f5a8c"/>
<circle cx="323.9" cy="311.3" r="1.5" fill="#1f5a8c"/>
<circle cx="331.1" cy="313.6" r="1.5" fill="#1f5a8c"/>
<circle cx="319.4" cy="321.3" r="1.5" fill="#1f5a8c"/>
<circle cx="321.6" cy="323.8" r="1.5" fill="#1f5a8c"/>
<circle cx="341.5" cy="321.3" r="1.5" fill="#1f5a8c"/>
<circle cx="306.2" cy="327.2" r="1.5" fill="#1f5a8c"/>
<circle cx="328.1" cy="329.5" r="1.5" fill="#1f5a8c"/>
<circle cx="279.9" cy="329.2" r="1.5" fill="#1f5a8c"/>
<circle cx="281.9" cy="329.2" r="1.5" fill="#1f5a8c"/>
<circle cx="259.3" cy="334.2" r="1.5" fill="#1f5a8c"/>
<circle cx="349.2" cy="333.4" r="1.5" fill="#1f5a8c"/>
<circle cx="299.3" cy="341.6" r="1.5" fill="#1f5a8c"/>
<circle cx="241.2" cy="343.4" r="1.5" fill="#1f5a8c"/>
<circle cx="235.5" cy="350.3" r="1.5" fill="#1f5a8c"/>
<circle cx="320.1" cy="350.6" r="1.5" fill="#1f5a8c"/>
<circle cx="325.6" cy="350.3" r="1.5" fill="#1f5a8c"/>
<circle cx="331.1" cy="347.1" r="1.5" fill="#1f5a8c"/>
<circle cx="357.9" cy="351.3" r="1.5" fill="#1f5a8c"/>
<circle cx="334.3" cy="355.3" r="1.5" fill="#1f5a8c"/>
<circle cx="304.5" cy="354.5" r="1.5" fill="#1f5a8c"/>
<circle cx="341.7" cy="360.7" r="1.5" fill="#1f5a8c"/>
<circle cx="294.8" cy="361.2" r="1.5" fill="#1f5a8c"/>
<circle cx="241.7" cy="359.5" r="1.5" fill="#1f5a8c"/>
<circle cx="245.4" cy="357.8" r="1.5" fill="#1f5a8c"/>
<circle cx="232.3" cy="364.5" r="1.5" fill="#1f5a8c"/>
<circle cx="233.5" cy="365.7" r="1.5" fill="#1f5a8c"/>
<circle cx="231.8" cy="369.4" r="1.5" fill="#1f5a8c"/>
<circle cx="232.3" cy="367" r="1.5" fill="#1f5a8c"/>
<circle cx="233" cy="363.5" r="1.5" fill="#1f5a8c"/>
<path d="M233 367 L358.4 330.2" stroke="#ee5a5a" stroke-width="1.1" stroke-dasharray="1.5 1" fill="none"/>
<text x="267.10" y="280.55" font-size="10.2" text-anchor="start" fill="#111"><tspan font-style="italic">r</tspan> = 0.61</text>
<text x="267.10" y="289.85" font-size="10.2" text-anchor="start" fill="#111"><tspan font-style="italic">p</tspan> = 1.2e<tspan font-size="6" dy="-3.2">-10</tspan></text>
<text x="210.50" y="310.64" font-size="11" text-anchor="middle" fill="#111" transform="rotate(-90 210.50 306.70)">OLIG2 Expression</text>
<text x="298.40" y="398.54" font-size="11" text-anchor="middle" fill="#111">S100B Expression</text>
</g>
<g id="pie">
<text x="223.50" y="427.88" font-size="11.4" text-anchor="start" fill="#111">Proportion in OLIG2<tspan font-size="6.6" dy="-3.3">high</tspan><tspan dy="3.3"> cells</tspan></text>
<path d="M287 503.2 L333.5 503.2 A46.5 46.5 0 0 0 241.69 492.74Z" fill="#f7a986" stroke="#444" stroke-width="0.5"/>
<path d="M287 503.2 L241.69 492.74 A46.5 46.5 0 1 0 333.5 503.2Z" fill="#92b4de" stroke="#444" stroke-width="0.5"/>
<path d="M292.7 457 v-2.5 M283 549.7 v2.2" stroke="#444" stroke-width="0.5"/>
<text x="265.80" y="450.37" font-size="9.4" text-anchor="start" fill="#111">S100B<tspan font-size="5.5" dy="-3">-</tspan><tspan dy="3"> 46.4 %</tspan></text>
<text x="250.00" y="563.07" font-size="9.4" text-anchor="start" fill="#111">S100B<tspan font-size="5.5" dy="-3">+</tspan><tspan dy="3"> 53.6 %</tspan></text>
</g>
<defs>
<clipPath id="tis"><path d="M0 0 L7 0 L56.2 26 L56.2 522.8 L46.9 519.7 L40.3 515 L35.5 505.5 L33.3 495 L30.8 502.7 L27 508.4 L20.4 510.8 L9 507.4 L0 503.2Z"/></clipPath>
<clipPath id="pan"><rect x="0" y="0" width="56.2" height="531.3"/></clipPath>
<filter id="spk" filterUnits="userSpaceOnUse" x="0" y="0" width="56.2" height="531.3" color-interpolation-filters="sRGB"><feTurbulence type="fractalNoise" baseFrequency="0.62" numOctaves="2" seed="4"/><feColorMatrix type="matrix" values="1 0 0 0 0  1 0 0 0 0  1 0 0 0 0  0 0 0 0 1" result="n"/><feTurbulence type="fractalNoise" baseFrequency="0.2" numOctaves="2" seed="8"/><feColorMatrix type="matrix" values="1 0 0 0 0  1 0 0 0 0  1 0 0 0 0  0 0 0 0 1" result="l"/><feComposite in="n" in2="l" operator="arithmetic" k1="0" k2="1" k3="0.35" k4="-0.175" result="n1"/><feComposite in="n1" in2="SourceGraphic" operator="arithmetic" k1="0" k2="1" k3="1" k4="-0.5" result="t"/><feComponentTransfer><feFuncR type="linear" slope="2.2" intercept="-0.75"/><feFuncG type="linear" slope="2.2" intercept="-0.75"/><feFuncB type="linear" slope="2.2" intercept="-0.75"/></feComponentTransfer><feComponentTransfer><feFuncR type="linear" slope="0.85"/><feFuncG type="linear" slope="0.85"/><feFuncB type="linear" slope="0.85"/></feComponentTransfer></filter>
<filter id="spkB" filterUnits="userSpaceOnUse" x="0" y="0" width="56.2" height="531.3" color-interpolation-filters="sRGB"><feTurbulence type="fractalNoise" baseFrequency="0.62" numOctaves="2" seed="4"/><feColorMatrix type="matrix" values="1 0 0 0 0  1 0 0 0 0  1 0 0 0 0  0 0 0 0 1" result="n"/><feTurbulence type="fractalNoise" baseFrequency="0.2" numOctaves="2" seed="8"/><feColorMatrix type="matrix" values="1 0 0 0 0  1 0 0 0 0  1 0 0 0 0  0 0 0 0 1" result="l"/><feComposite in="n" in2="l" operator="arithmetic" k1="0" k2="1" k3="0.35" k4="-0.175" result="n1"/><feComposite in="n1" in2="SourceGraphic" operator="arithmetic" k1="0" k2="1" k3="1" k4="-0.5" result="t"/><feComponentTransfer><feFuncR type="linear" slope="2.2" intercept="-0.75"/><feFuncG type="linear" slope="2.2" intercept="-0.75"/><feFuncB type="linear" slope="2.2" intercept="-0.75"/></feComponentTransfer><feComponentTransfer><feFuncR type="linear" slope="0.85"/><feFuncG type="linear" slope="0.85"/><feFuncB type="linear" slope="0.85"/></feComponentTransfer>
 <feColorMatrix type="matrix" values="0.22 0 0 0 0.02  0.28 0 0 0 0.01  0.7 0 0 0 0.06  0 0 0 0 1"/>
</filter>
<filter id="haze" filterUnits="userSpaceOnUse" x="0" y="0" width="130" height="531.3" color-interpolation-filters="sRGB">
 <feTurbulence type="fractalNoise" baseFrequency="0.55 0.13" numOctaves="3" seed="9" result="n"/>
 <feColorMatrix in="n" type="matrix" values="1 0 0 0 0  1 0 0 0 0  1 0 0 0 0  0 0 0 0 1" result="n1"/>
 <feComposite in="n1" in2="SourceGraphic" operator="arithmetic" k1="2.4" k2="0" k3="0" k4="-0.045"/>
</filter>
<filter id="bl1" x="-50%" y="-50%" width="200%" height="200%"><feGaussianBlur stdDeviation="1.2"/></filter>
<filter id="bl3" x="-50%" y="-50%" width="200%" height="200%"><feGaussianBlur stdDeviation="3"/></filter>
<filter id="bl5" x="-50%" y="-50%" width="200%" height="200%"><feGaussianBlur stdDeviation="5"/></filter>
<linearGradient id="dDapi" gradientUnits="userSpaceOnUse" x1="0" y1="0" x2="0" y2="531.3">
 <stop offset="0" stop-color="#7c7c7c"/><stop offset="0.08" stop-color="#797979"/><stop offset="0.14" stop-color="#717171"/>
 <stop offset="0.3" stop-color="#717171"/><stop offset="0.45" stop-color="#747474"/><stop offset="0.55" stop-color="#787878"/>
 <stop offset="0.75" stop-color="#7d7d7d"/><stop offset="0.84" stop-color="#848484"/><stop offset="0.9" stop-color="#8e8e8e"/>
 <stop offset="0.95" stop-color="#989898"/><stop offset="1" stop-color="#989898"/></linearGradient>
<linearGradient id="dMer" gradientUnits="userSpaceOnUse" x1="0" y1="0" x2="0" y2="531.3">
 <stop offset="0" stop-color="#7e7e7e"/><stop offset="0.08" stop-color="#7b7b7b"/><stop offset="0.14" stop-color="#737373"/>
 <stop offset="0.3" stop-color="#737373"/><stop offset="0.45" stop-color="#757575"/><stop offset="0.55" stop-color="#797979"/>
 <stop offset="0.75" stop-color="#808080"/><stop offset="0.84" stop-color="#8e8e8e"/><stop offset="0.9" stop-color="#a0a0a0"/>
 <stop offset="0.95" stop-color="#b0b0b0"/><stop offset="1" stop-color="#b0b0b0"/></linearGradient>
<linearGradient id="bluebot" gradientUnits="userSpaceOnUse" x1="0" y1="400" x2="0" y2="525">
 <stop offset="0" stop-color="#1848c0" stop-opacity="0"/><stop offset="0.5" stop-color="#1a50c8" stop-opacity="0.22"/><stop offset="1" stop-color="#2064d0" stop-opacity="0.6"/></linearGradient>
<linearGradient id="dS100" gradientUnits="userSpaceOnUse" x1="0" y1="0" x2="0" y2="531.3">
 <stop offset="0" stop-color="#262626"/><stop offset="0.1" stop-color="#1e1e1e"/><stop offset="0.25" stop-color="#181818"/>
 <stop offset="0.4" stop-color="#131313"/><stop offset="0.6" stop-color="#111111"/><stop offset="0.85" stop-color="#121212"/><stop offset="0.93" stop-color="#181818"/>
 <stop offset="0.965" stop-color="#242424"/><stop offset="1" stop-color="#202020"/></linearGradient>
<linearGradient id="redtop" gradientUnits="userSpaceOnUse" x1="0" y1="0" x2="0" y2="130">
 <stop offset="0" stop-color="#801040" stop-opacity="0.42"/><stop offset="0.35" stop-color="#701040" stop-opacity="0.28"/><stop offset="1" stop-color="#600030" stop-opacity="0"/></linearGradient>
</defs>
<g transform="translate(440 18)" clip-path="url(#pan)">
<rect width="56.2" height="531.3" fill="#000"/>
<g clip-path="url(#tis)">
<g filter="url(#spkB)"><rect width="56.2" height="531.3" fill="url(#dMer)"/>
<path d="M-3 -5 L7 0 L56.2 26 L60 28" transform="translate(-4 8)" stroke="#8c8c8c" stroke-width="16" fill="none" filter="url(#bl3)" opacity="0.8"/>
<ellipse cx="25.5" cy="173.1" rx="4.8" ry="2.4" fill="#585858" filter="url(#bl1)"/><ellipse cx="28.4" cy="179.2" rx="2.6" ry="2.5" fill="#585858" filter="url(#bl1)"/><ellipse cx="34.8" cy="224.5" rx="2.3" ry="2.1" fill="#585858" filter="url(#bl1)"/><ellipse cx="6.7" cy="228.1" rx="4.1" ry="1.6" fill="#585858" filter="url(#bl1)"/><ellipse cx="53.1" cy="262.2" rx="4.0" ry="2.7" fill="#585858" filter="url(#bl1)"/><ellipse cx="10.2" cy="53.3" rx="3.6" ry="1.6" fill="#585858" filter="url(#bl1)"/><ellipse cx="11.9" cy="103.2" rx="2.1" ry="2.4" fill="#585858" filter="url(#bl1)"/><ellipse cx="24.9" cy="235.3" rx="3.6" ry="2.8" fill="#585858" filter="url(#bl1)"/><ellipse cx="28.0" cy="195.7" rx="3.4" ry="2.1" fill="#585858" filter="url(#bl1)"/><ellipse cx="53.9" cy="269.1" rx="4.5" ry="2.9" fill="#585858" filter="url(#bl1)"/><ellipse cx="18.4" cy="100.5" rx="2.9" ry="1.6" fill="#585858" filter="url(#bl1)"/><ellipse cx="41.8" cy="138.1" rx="4.5" ry="2.3" fill="#585858" filter="url(#bl1)"/><ellipse cx="51.8" cy="236.4" rx="2.0" ry="1.9" fill="#585858" filter="url(#bl1)"/><ellipse cx="49.3" cy="153.4" rx="4.9" ry="2.3" fill="#585858" filter="url(#bl1)"/><ellipse cx="5.8" cy="188.5" rx="4.3" ry="2.0" fill="#585858" filter="url(#bl1)"/><ellipse cx="6.5" cy="123.2" rx="4.9" ry="3.0" fill="#585858" filter="url(#bl1)"/><ellipse cx="8.1" cy="104.2" rx="2.3" ry="1.6" fill="#585858" filter="url(#bl1)"/><ellipse cx="43.4" cy="89.1" rx="3.7" ry="2.4" fill="#585858" filter="url(#bl1)"/><ellipse cx="11.9" cy="211.0" rx="2.4" ry="2.8" fill="#585858" filter="url(#bl1)"/><ellipse cx="8.1" cy="142.6" rx="2.6" ry="2.0" fill="#585858" filter="url(#bl1)"/><ellipse cx="52.5" cy="226.8" rx="2.9" ry="3.3" fill="#585858" filter="url(#bl1)"/><ellipse cx="13.0" cy="136.7" rx="4.6" ry="2.8" fill="#585858" filter="url(#bl1)"/><ellipse cx="7.2" cy="267.6" rx="2.6" ry="2.0" fill="#585858" filter="url(#bl1)"/><ellipse cx="42.2" cy="122.4" rx="2.9" ry="1.6" fill="#585858" filter="url(#bl1)"/><ellipse cx="6.7" cy="178.2" rx="2.7" ry="2.7" fill="#585858" filter="url(#bl1)"/><ellipse cx="21.3" cy="149.7" rx="4.9" ry="2.5" fill="#585858" filter="url(#bl1)"/><ellipse cx="31.9" cy="240.6" rx="2.5" ry="1.8" fill="#585858" filter="url(#bl1)"/><ellipse cx="49.2" cy="229.9" rx="2.7" ry="1.9" fill="#585858" filter="url(#bl1)"/><ellipse cx="40.5" cy="256.9" rx="2.6" ry="3.4" fill="#585858" filter="url(#bl1)"/><ellipse cx="47.9" cy="182.8" rx="3.3" ry="1.7" fill="#585858" filter="url(#bl1)"/><ellipse cx="4.0" cy="261.8" rx="2.7" ry="2.9" fill="#585858" filter="url(#bl1)"/><ellipse cx="15.4" cy="231.2" rx="3.8" ry="2.1" fill="#585858" filter="url(#bl1)"/><ellipse cx="11.1" cy="208.5" rx="2.2" ry="2.0" fill="#585858" filter="url(#bl1)"/><ellipse cx="31.1" cy="237.5" rx="3.8" ry="2.1" fill="#585858" filter="url(#bl1)"/><ellipse cx="49.7" cy="94.9" rx="2.0" ry="2.0" fill="#585858" filter="url(#bl1)"/><ellipse cx="25.2" cy="63.3" rx="2.5" ry="2.2" fill="#585858" filter="url(#bl1)"/><ellipse cx="31.8" cy="78.9" rx="3.1" ry="3.3" fill="#585858" filter="url(#bl1)"/><ellipse cx="53.0" cy="194.5" rx="4.1" ry="2.7" fill="#585858" filter="url(#bl1)"/>
<path d="M-2 502.5 L9 507.4 L20.4 510.8 L27 508.4 L30.8 502.7 L33.3 495 L35.5 505.5 L40.3 515 L46.9 519.7 L58 523.2" fill="none" stroke="#b0b0b0" stroke-width="40" filter="url(#bl5)" opacity="0.9"/>
</g>
<rect width="56.2" height="130" fill="url(#redtop)" style="mix-blend-mode:screen"/>
<rect y="400" width="56.2" height="131" fill="url(#bluebot)" style="mix-blend-mode:screen"/>
<path d="M-2 502.5 L9 507.4 L20.4 510.8 L27 508.4 L30.8 502.7 L33.3 495 L35.5 505.5 L40.3 515 L46.9 519.7 L58 523.2" transform="translate(0 -1.5)" fill="none" stroke="#74c040" stroke-width="5" stroke-opacity="0.8" filter="url(#bl1)"/>
<path d="M34.6 358 L35 376" stroke="#58cc48" stroke-opacity="0.9" stroke-width="0.8" stroke-linecap="round"/>
<path d="M31.7 392 L32.5 401" stroke="#58cc48" stroke-opacity="0.9" stroke-width="1.2" stroke-linecap="round"/>
<path d="M33 428 L36.5 440" stroke="#58cc48" stroke-opacity="0.9" stroke-width="1.9" stroke-linecap="round"/>
<path d="M31.5 438 L33.5 453" stroke="#58cc48" stroke-opacity="0.9" stroke-width="1.0" stroke-linecap="round"/>
<path d="M47 378 L48.5 384" stroke="#58cc48" stroke-opacity="0.9" stroke-width="0.8" stroke-linecap="round"/>
<path d="M47 289 L51 291" stroke="#58cc48" stroke-opacity="0.9" stroke-width="1.0" stroke-linecap="round"/>
<path d="M39 312 L40 318" stroke="#58cc48" stroke-opacity="0.9" stroke-width="1.4" stroke-linecap="round"/>
<path d="M28.5 440 L31.5 443" stroke="#58cc48" stroke-opacity="0.9" stroke-width="0.7" stroke-linecap="round"/>
<path d="M52 412 L53 420" stroke="#58cc48" stroke-opacity="0.9" stroke-width="0.6" stroke-linecap="round"/>
<rect x="34.6" y="376.1" width="0.9" height="0.9" fill="#d02030" opacity="0.8"/>
<rect x="46.4" y="392.5" width="0.9" height="0.9" fill="#d02030" opacity="0.8"/>
<rect x="36.0" y="452.4" width="0.9" height="0.9" fill="#d02030" opacity="0.8"/>
<rect x="21.1" y="436.9" width="0.9" height="0.9" fill="#40b040" opacity="0.8"/>
<rect x="30.4" y="295.5" width="0.9" height="0.9" fill="#d02030" opacity="0.8"/>
<rect x="40.5" y="215.9" width="0.9" height="0.9" fill="#d02030" opacity="0.8"/>
<rect x="50.5" y="387.5" width="0.9" height="0.9" fill="#d02030" opacity="0.8"/>
<rect x="42.1" y="54.5" width="0.9" height="0.9" fill="#40b040" opacity="0.8"/>
<rect x="7.8" y="20.9" width="0.9" height="0.9" fill="#d02030" opacity="0.8"/>
<rect x="12.3" y="123.4" width="0.9" height="0.9" fill="#d02030" opacity="0.8"/>
<rect x="48.1" y="158.9" width="0.9" height="0.9" fill="#d02030" opacity="0.8"/>
<rect x="30.1" y="345.4" width="0.9" height="0.9" fill="#d02030" opacity="0.8"/>
<rect x="10.8" y="484.9" width="0.9" height="0.9" fill="#d02030" opacity="0.8"/>
<rect x="53.2" y="449.0" width="0.9" height="0.9" fill="#c8b020" opacity="0.8"/>
<rect x="2.2" y="219.2" width="0.9" height="0.9" fill="#d02030" opacity="0.8"/>
<rect x="15.2" y="179.3" width="0.9" height="0.9" fill="#d02030" opacity="0.8"/>
<rect x="33.2" y="359.7" width="0.9" height="0.9" fill="#d02030" opacity="0.8"/>
<rect x="17.7" y="412.9" width="0.9" height="0.9" fill="#40b040" opacity="0.8"/>
<rect x="38.6" y="108.7" width="0.9" height="0.9" fill="#40b040" opacity="0.8"/>
<rect x="39.1" y="47.4" width="0.9" height="0.9" fill="#d02030" opacity="0.8"/>
<rect x="52.3" y="191.7" width="0.9" height="0.9" fill="#40b040" opacity="0.8"/>
<rect x="2.0" y="398.1" width="0.9" height="0.9" fill="#c8b020" opacity="0.8"/>
<rect x="21.3" y="423.8" width="0.9" height="0.9" fill="#40b040" opacity="0.8"/>
<rect x="3.5" y="106.8" width="0.9" height="0.9" fill="#d02030" opacity="0.8"/>
<rect x="7.4" y="138.1" width="0.9" height="0.9" fill="#40b040" opacity="0.8"/>
<rect x="19.6" y="190.3" width="0.9" height="0.9" fill="#c8b020" opacity="0.8"/>
<rect x="42.9" y="71.9" width="0.9" height="0.9" fill="#c8b020" opacity="0.8"/>
<rect x="47.4" y="37.6" width="0.9" height="0.9" fill="#d02030" opacity="0.8"/>
<rect x="12.3" y="266.2" width="0.9" height="0.9" fill="#c8b020" opacity="0.8"/>
<rect x="50.6" y="183.2" width="0.9" height="0.9" fill="#d02030" opacity="0.8"/>
<rect x="17.9" y="172.1" width="0.9" height="0.9" fill="#d02030" opacity="0.8"/>
<rect x="44.1" y="320.9" width="0.9" height="0.9" fill="#c8b020" opacity="0.8"/>
<rect x="54.8" y="97.5" width="0.9" height="0.9" fill="#d02030" opacity="0.8"/>
<rect x="5.4" y="308.3" width="0.9" height="0.9" fill="#40b040" opacity="0.8"/>
<rect x="2.7" y="375.5" width="0.9" height="0.9" fill="#c8b020" opacity="0.8"/>
<rect x="45.6" y="238.7" width="0.9" height="0.9" fill="#40b040" opacity="0.8"/>
<rect x="8.9" y="489.9" width="0.9" height="0.9" fill="#d02030" opacity="0.8"/>
<rect x="44.3" y="180.4" width="0.9" height="0.9" fill="#d02030" opacity="0.8"/>
<rect x="8.1" y="371.2" width="0.9" height="0.9" fill="#d02030" opacity="0.8"/>
<rect x="35.0" y="398.2" width="0.9" height="0.9" fill="#d02030" opacity="0.8"/>
<rect x="10.1" y="199.0" width="0.9" height="0.9" fill="#d02030" opacity="0.8"/>
<rect x="46.6" y="161.5" width="0.9" height="0.9" fill="#40b040" opacity="0.8"/>
<rect x="50.8" y="317.8" width="0.9" height="0.9" fill="#d02030" opacity="0.8"/>
<rect x="53.7" y="237.7" width="0.9" height="0.9" fill="#40b040" opacity="0.8"/>
<rect x="38.2" y="172.5" width="0.9" height="0.9" fill="#c8b020" opacity="0.8"/>
<rect x="16.7" y="213.8" width="0.9" height="0.9" fill="#d02030" opacity="0.8"/>
<rect x="7.1" y="414.6" width="0.9" height="0.9" fill="#d02030" opacity="0.8"/>
<rect x="34.9" y="259.7" width="0.9" height="0.9" fill="#c8b020" opacity="0.8"/>
<rect x="10.7" y="256.1" width="0.9" height="0.9" fill="#c8b020" opacity="0.8"/>
<rect x="4.4" y="401.7" width="0.9" height="0.9" fill="#c8b020" opacity="0.8"/>
<rect x="38.5" y="338.7" width="0.9" height="0.9" fill="#c8b020" opacity="0.8"/>
<rect x="20.6" y="358.1" width="0.9" height="0.9" fill="#c8b020" opacity="0.8"/>
<rect x="46.1" y="147.1" width="0.9" height="0.9" fill="#c8b020" opacity="0.8"/>
<rect x="52.7" y="183.2" width="0.9" height="0.9" fill="#d02030" opacity="0.8"/>
<rect x="32.4" y="25.6" width="0.9" height="0.9" fill="#c8b020" opacity="0.8"/>
<rect x="18.6" y="151.4" width="0.9" height="0.9" fill="#c8b020" opacity="0.8"/>
<rect x="45.1" y="330.8" width="0.9" height="0.9" fill="#c8b020" opacity="0.8"/>
<rect x="19.8" y="329.2" width="0.9" height="0.9" fill="#40b040" opacity="0.8"/>
<rect x="19.9" y="424.6" width="0.9" height="0.9" fill="#40b040" opacity="0.8"/>
<rect x="53.7" y="479.1" width="0.9" height="0.9" fill="#d02030" opacity="0.8"/>
<rect x="29.6" y="99.8" width="0.9" height="0.9" fill="#c8b020" opacity="0.8"/>
<rect x="51.6" y="249.1" width="0.9" height="0.9" fill="#d02030" opacity="0.8"/>
<rect x="39.9" y="370.6" width="0.9" height="0.9" fill="#d02030" opacity="0.8"/>
<rect x="34.3" y="469.4" width="0.9" height="0.9" fill="#40b040" opacity="0.8"/>
<rect x="17.3" y="285.5" width="0.9" height="0.9" fill="#c8b020" opacity="0.8"/>
<rect x="39.9" y="33.3" width="0.9" height="0.9" fill="#d02030" opacity="0.8"/>
<rect x="32.7" y="319.6" width="0.9" height="0.9" fill="#d02030" opacity="0.8"/>
<rect x="12.8" y="349.3" width="0.9" height="0.9" fill="#d02030" opacity="0.8"/>
<rect x="54.3" y="490.3" width="0.9" height="0.9" fill="#d02030" opacity="0.8"/>
<rect x="3.9" y="84.1" width="0.9" height="0.9" fill="#c8b020" opacity="0.8"/>
</g>
<rect x="0.3" y="251.2" width="18" height="19.7" fill="none" stroke="#fff" stroke-opacity="0.85" stroke-width="0.7" stroke-dasharray="1 0.8"/>
<rect x="39.2" y="526.6" width="13" height="1.4" fill="#fff"/>
<text x="52.60" y="9.83" font-size="10.7" text-anchor="end" fill="#fff">Merged</text>
</g>
<g transform="translate(498 18)" clip-path="url(#pan)">
<rect width="56.2" height="531.3" fill="#000"/>
<g clip-path="url(#tis)">
<g filter="url(#spk)"><rect width="56.2" height="531.3" fill="#1c1c1c"/><rect y="478" width="56.2" height="80" fill="#545454" opacity="0.9" filter="url(#bl5)"/><path d="M-2 502.5 L9 507.4 L20.4 510.8 L27 508.4 L30.8 502.7 L33.3 495 L35.5 505.5 L40.3 515 L46.9 519.7 L58 523.2" transform="translate(0 -2)" fill="none" stroke="#8c8c8c" stroke-width="7" filter="url(#bl1)"/></g><path d="M-2 502.5 L9 507.4 L20.4 510.8 L27 508.4 L30.8 502.7 L33.3 495 L35.5 505.5 L40.3 515 L46.9 519.7 L58 523.2" transform="translate(0 -2.5)" fill="none" stroke="#9a9a9a" stroke-opacity="0.6" stroke-width="5" filter="url(#bl1)"/>
<path d="M34.6 358 L35 376" stroke="#e0e0e0" stroke-width="0.64" stroke-linecap="round"/>
<path d="M31.7 392 L32.5 401" stroke="#e0e0e0" stroke-width="0.96" stroke-linecap="round"/>
<path d="M33 428 L36.5 440" stroke="#e0e0e0" stroke-width="1.52" stroke-linecap="round"/>
<path d="M31.5 438 L33.5 453" stroke="#e0e0e0" stroke-width="0.80" stroke-linecap="round"/>
<path d="M47 378 L48.5 384" stroke="#e0e0e0" stroke-width="0.64" stroke-linecap="round"/>
<path d="M47 289 L51 291" stroke="#e0e0e0" stroke-width="0.80" stroke-linecap="round"/>
<path d="M39 312 L40 318" stroke="#e0e0e0" stroke-width="1.12" stroke-linecap="round"/>
<path d="M28.5 440 L31.5 443" stroke="#e0e0e0" stroke-width="0.56" stroke-linecap="round"/>
<path d="M52 412 L53 420" stroke="#e0e0e0" stroke-width="0.48" stroke-linecap="round"/>
<rect x="9.9" y="334.2" width="1.0" height="1.0" fill="#fff" opacity="0.64"/>
<rect x="54.4" y="233.1" width="0.8" height="0.8" fill="#fff" opacity="0.65"/>
<rect x="43.6" y="16.6" width="1.1" height="1.1" fill="#fff" opacity="0.39"/>
<rect x="50.8" y="336.1" width="1.1" height="1.6500000000000001" fill="#fff" opacity="0.95"/>
<rect x="42.6" y="201.2" width="1.1" height="1.1" fill="#fff" opacity="0.37"/>
<rect x="30.2" y="336.1" width="1.0" height="1.5" fill="#fff" opacity="0.36"/>
<rect x="45.1" y="68.7" width="0.7" height="1.0499999999999998" fill="#fff" opacity="0.62"/>
<rect x="40.3" y="198.6" width="0.8" height="0.8" fill="#fff" opacity="0.46"/>
<rect x="26.4" y="395.5" width="0.7" height="0.7" fill="#fff" opacity="0.82"/>
<rect x="37.4" y="387.4" width="0.7" height="0.7" fill="#fff" opacity="0.42"/>
<rect x="31.2" y="192.4" width="1.0" height="1.5" fill="#fff" opacity="0.90"/>
<rect x="23.1" y="181.7" width="1.1" height="1.1" fill="#fff" opacity="0.65"/>
<rect x="54.7" y="191.7" width="0.7" height="0.7" fill="#fff" opacity="0.85"/>
<rect x="39.8" y="476.6" width="1.1" height="1.1" fill="#fff" opacity="0.35"/>
<rect x="30.7" y="361.6" width="0.8" height="0.8" fill="#fff" opacity="0.69"/>
<rect x="31.1" y="302.6" width="0.8" height="1.2000000000000002" fill="#fff" opacity="0.75"/>
<rect x="19.8" y="445.7" width="1.0" height="1.0" fill="#fff" opacity="0.81"/>
<rect x="14.3" y="89.3" width="0.8" height="0.8" fill="#fff" opacity="0.82"/>
<rect x="9.6" y="27.2" width="0.8" height="0.8" fill="#fff" opacity="0.59"/>
<rect x="52.9" y="287.5" width="1.0" height="1.0" fill="#fff" opacity="0.64"/>
<rect x="37.0" y="450.1" width="0.8" height="0.8" fill="#fff" opacity="0.45"/>
<rect x="24.7" y="201.5" width="1.1" height="1.1" fill="#fff" opacity="0.38"/>
<rect x="3.8" y="131.2" width="1.0" height="1.0" fill="#fff" opacity="0.37"/>
<rect x="10.2" y="42.6" width="1.0" height="1.0" fill="#fff" opacity="0.74"/>
<rect x="54.1" y="360.5" width="1.1" height="1.1" fill="#fff" opacity="0.38"/>
<rect x="52.8" y="257.0" width="1.1" height="1.1" fill="#fff" opacity="0.37"/>
<rect x="49.6" y="181.9" width="0.8" height="1.2000000000000002" fill="#fff" opacity="0.88"/>
<rect x="42.7" y="237.7" width="1.1" height="1.6500000000000001" fill="#fff" opacity="0.53"/>
<rect x="32.8" y="75.5" width="0.7" height="0.7" fill="#fff" opacity="0.58"/>
<rect x="52.5" y="21.0" width="1.0" height="1.5" fill="#fff" opacity="0.74"/>
<rect x="23.7" y="331.1" width="0.8" height="0.8" fill="#fff" opacity="0.43"/>
<rect x="22.4" y="97.7" width="1.1" height="1.1" fill="#fff" opacity="0.82"/>
<rect x="47.8" y="318.0" width="0.8" height="0.8" fill="#fff" opacity="0.53"/>
<rect x="22.4" y="427.3" width="0.8" height="0.8" fill="#fff" opacity="0.46"/>
<rect x="11.9" y="359.8" width="0.7" height="1.0499999999999998" fill="#fff" opacity="0.71"/>
<rect x="48.2" y="373.9" width="0.7" height="0.7" fill="#fff" opacity="0.58"/>
<rect x="22.5" y="276.5" width="0.8" height="1.2000000000000002" fill="#fff" opacity="0.50"/>
<rect x="33.7" y="360.5" width="0.8" height="0.8" fill="#fff" opacity="0.58"/>
<rect x="40.2" y="475.5" width="1.1" height="1.1" fill="#fff" opacity="0.92"/>
<rect x="30.5" y="38.2" width="1.0" height="1.0" fill="#fff" opacity="0.93"/>
<rect x="16.7" y="303.6" width="0.8" height="0.8" fill="#fff" opacity="0.39"/>
<rect x="53.7" y="177.0" width="1.0" height="1.0" fill="#fff" opacity="0.74"/>
</g>
<path d="M6 0.6 L56.2 27" stroke="#666" stroke-width="0.5" stroke-dasharray="0.8 1.4"/>
<text x="53.10" y="9.83" font-size="10.7" text-anchor="end" fill="#3fa535">OLIG2</text>
</g>
<g transform="translate(556.3 18)" clip-path="url(#pan)">
<rect width="56.2" height="531.3" fill="#000"/>
<g clip-path="url(#tis)">
<g transform="skewX(-7)"><g filter="url(#haze)"><rect width="130" height="531.3" fill="url(#dS100)"/><path d="M-3 -6 L64 28" transform="translate(-3 6)" stroke="#484848" stroke-width="13" fill="none" filter="url(#bl3)"/></g></g>
<rect x="31.8" y="321.6" width="0.8" height="0.8" fill="#fff" opacity="0.47"/>
<rect x="48.5" y="273.3" width="1.0" height="1.0" fill="#fff" opacity="0.33"/>
<rect x="36.2" y="314.3" width="1.0" height="1.0" fill="#fff" opacity="0.39"/>
<rect x="38.1" y="248.3" width="0.8" height="0.8" fill="#fff" opacity="0.67"/>
<rect x="35.3" y="161.1" width="0.8" height="0.8" fill="#fff" opacity="0.48"/>
<rect x="49.5" y="375.4" width="1.0" height="1.0" fill="#fff" opacity="0.55"/>
<rect x="45.0" y="151.0" width="0.8" height="0.8" fill="#fff" opacity="0.50"/>
<rect x="37.8" y="71.9" width="0.7" height="0.7" fill="#fff" opacity="0.39"/>
<rect x="48.9" y="497.7" width="0.7" height="0.7" fill="#fff" opacity="0.59"/>
<rect x="7.7" y="171.0" width="0.7" height="0.7" fill="#fff" opacity="0.48"/>
<rect x="18.3" y="186.6" width="1.0" height="1.0" fill="#fff" opacity="0.39"/>
<rect x="22.3" y="104.9" width="0.7" height="0.7" fill="#fff" opacity="0.65"/>
<rect x="20.7" y="319.3" width="1.0" height="1.0" fill="#fff" opacity="0.50"/>
<rect x="7.7" y="87.2" width="0.7" height="0.7" fill="#fff" opacity="0.61"/>
<rect x="1.2" y="213.8" width="0.8" height="0.8" fill="#fff" opacity="0.34"/>
<rect x="11.4" y="332.1" width="0.8" height="0.8" fill="#fff" opacity="0.52"/>
<rect x="43.6" y="301.0" width="0.8" height="0.8" fill="#fff" opacity="0.60"/>
<rect x="17.6" y="49.1" width="0.8" height="0.8" fill="#fff" opacity="0.42"/>
<rect x="41.9" y="190.3" width="1.0" height="1.0" fill="#fff" opacity="0.64"/>
<rect x="1.8" y="278.0" width="0.8" height="0.8" fill="#fff" opacity="0.58"/>
<rect x="48.1" y="424.2" width="0.7" height="0.7" fill="#fff" opacity="0.66"/>
<rect x="40.4" y="249.4" width="1.0" height="1.0" fill="#fff" opacity="0.29"/>
<rect x="33.5" y="368.8" width="0.8" height="0.8" fill="#fff" opacity="0.38"/>
<rect x="52.1" y="212.1" width="0.8" height="0.8" fill="#fff" opacity="0.64"/>
<rect x="52.9" y="248.7" width="0.7" height="0.7" fill="#fff" opacity="0.59"/>
<rect x="18.2" y="479.2" width="0.7" height="0.7" fill="#fff" opacity="0.30"/>
<rect x="11.0" y="360.2" width="1.0" height="1.0" fill="#fff" opacity="0.68"/>
<rect x="50.0" y="98.7" width="1.0" height="1.0" fill="#fff" opacity="0.68"/>
<rect x="45.9" y="225.5" width="0.8" height="0.8" fill="#fff" opacity="0.67"/>
<rect x="47.9" y="379.0" width="1.0" height="1.0" fill="#fff" opacity="0.55"/>
<rect x="2.9" y="377.2" width="1.0" height="1.0" fill="#fff" opacity="0.26"/>
<rect x="27.0" y="401.5" width="1.0" height="1.0" fill="#fff" opacity="0.29"/>
<rect x="7.3" y="433.2" width="0.7" height="0.7" fill="#fff" opacity="0.68"/>
<rect x="4.9" y="464.3" width="0.7" height="0.7" fill="#fff" opacity="0.51"/>
<rect x="54.8" y="344.7" width="0.7" height="0.7" fill="#fff" opacity="0.64"/>
<rect x="9.4" y="26.2" width="0.7" height="0.7" fill="#fff" opacity="0.62"/>
<rect x="8.5" y="34.2" width="0.7" height="0.7" fill="#fff" opacity="0.51"/>
<rect x="12.3" y="284.9" width="1.0" height="1.0" fill="#fff" opacity="0.30"/>
<rect x="20.8" y="402.7" width="1.0" height="1.0" fill="#fff" opacity="0.47"/>
<rect x="17.7" y="30.0" width="1.0" height="1.0" fill="#fff" opacity="0.63"/>
<rect x="1.9" y="18.1" width="0.8" height="0.8" fill="#fff" opacity="0.53"/>
<rect x="18.6" y="77.2" width="0.8" height="0.8" fill="#fff" opacity="0.29"/>
<rect x="21.9" y="379.5" width="0.8" height="0.8" fill="#fff" opacity="0.34"/>
<rect x="5.4" y="113.5" width="0.7" height="0.7" fill="#fff" opacity="0.37"/>
<rect x="10.4" y="271.9" width="0.7" height="0.7" fill="#fff" opacity="0.61"/>
<rect x="30.4" y="238.1" width="1.0" height="1.0" fill="#fff" opacity="0.58"/>
<rect x="1.4" y="26.4" width="0.7" height="0.7" fill="#fff" opacity="0.40"/>
<rect x="20.5" y="137.5" width="0.8" height="0.8" fill="#fff" opacity="0.53"/>
<rect x="45.0" y="255.5" width="1.0" height="1.0" fill="#fff" opacity="0.42"/>
<rect x="16.2" y="366.5" width="0.7" height="0.7" fill="#fff" opacity="0.59"/>
<rect x="16.4" y="206.0" width="0.7" height="0.7" fill="#fff" opacity="0.41"/>
<rect x="7.3" y="485.9" width="1.0" height="1.0" fill="#fff" opacity="0.68"/>
<rect x="21.7" y="131.6" width="0.8" height="0.8" fill="#fff" opacity="0.27"/>
<rect x="13.8" y="400.4" width="1.0" height="1.0" fill="#fff" opacity="0.32"/>
<rect x="50.5" y="313.9" width="0.7" height="0.7" fill="#fff" opacity="0.63"/>
<rect x="27.9" y="393.0" width="0.8" height="0.8" fill="#fff" opacity="0.64"/>
<rect x="39.2" y="151.7" width="0.8" height="0.8" fill="#fff" opacity="0.66"/>
<rect x="34.9" y="128.8" width="1.0" height="1.0" fill="#fff" opacity="0.57"/>
<rect x="21.4" y="235.2" width="1.0" height="1.0" fill="#fff" opacity="0.43"/>
<rect x="6.3" y="387.7" width="0.7" height="0.7" fill="#fff" opacity="0.38"/>
<rect x="45.6" y="65.2" width="0.7" height="0.7" fill="#fff" opacity="0.42"/>
<rect x="26.7" y="100.0" width="0.8" height="0.8" fill="#fff" opacity="0.31"/>
<rect x="13.8" y="401.6" width="1.0" height="1.0" fill="#fff" opacity="0.44"/>
<rect x="8.9" y="459.5" width="1.0" height="1.0" fill="#fff" opacity="0.29"/>
<rect x="48.2" y="496.5" width="1.0" height="1.0" fill="#fff" opacity="0.49"/>
<rect x="21.7" y="299.7" width="0.8" height="0.8" fill="#fff" opacity="0.47"/>
<rect x="28.4" y="165.6" width="1.0" height="1.0" fill="#fff" opacity="0.69"/>
<rect x="24.4" y="304.2" width="1.0" height="1.0" fill="#fff" opacity="0.36"/>
<rect x="14.7" y="162.7" width="0.8" height="0.8" fill="#fff" opacity="0.39"/>
<rect x="45.7" y="465.5" width="0.8" height="0.8" fill="#fff" opacity="0.61"/>
<path d="M34.6 358 L35 376" stroke="#aaa" stroke-opacity="0.4" stroke-width="0.40" stroke-linecap="round"/>
<path d="M31.7 392 L32.5 401" stroke="#aaa" stroke-opacity="0.4" stroke-width="0.60" stroke-linecap="round"/>
<path d="M33 428 L36.5 440" stroke="#aaa" stroke-opacity="0.4" stroke-width="0.95" stroke-linecap="round"/>
<path d="M31.5 438 L33.5 453" stroke="#aaa" stroke-opacity="0.4" stroke-width="0.50" stroke-linecap="round"/>
<path d="M47 378 L48.5 384" stroke="#aaa" stroke-opacity="0.4" stroke-width="0.40" stroke-linecap="round"/>
</g>
<text x="54.40" y="9.83" font-size="10.7" text-anchor="end" fill="#d8202a">S100β</text>
</g>
<g transform="translate(614.5 18)" clip-path="url(#pan)">
<rect width="56.2" height="531.3" fill="#000"/>
<g clip-path="url(#tis)">
<g filter="url(#spk)"><rect width="56.2" height="531.3" fill="url(#dDapi)"/>
<path d="M-3 -5 L7 0 L56.2 26 L60 28" transform="translate(-4 8)" stroke="#929292" stroke-width="16" fill="none" filter="url(#bl3)" opacity="0.8"/>
<ellipse cx="25.5" cy="173.1" rx="4.8" ry="2.4" fill="#545454" filter="url(#bl1)"/><ellipse cx="28.4" cy="179.2" rx="2.6" ry="2.5" fill="#545454" filter="url(#bl1)"/><ellipse cx="34.8" cy="224.5" rx="2.3" ry="2.1" fill="#545454" filter="url(#bl1)"/><ellipse cx="6.7" cy="228.1" rx="4.1" ry="1.6" fill="#545454" filter="url(#bl1)"/><ellipse cx="53.1" cy="262.2" rx="4.0" ry="2.7" fill="#545454" filter="url(#bl1)"/><ellipse cx="10.2" cy="53.3" rx="3.6" ry="1.6" fill="#545454" filter="url(#bl1)"/><ellipse cx="11.9" cy="103.2" rx="2.1" ry="2.4" fill="#545454" filter="url(#bl1)"/><ellipse cx="24.9" cy="235.3" rx="3.6" ry="2.8" fill="#545454" filter="url(#bl1)"/><ellipse cx="28.0" cy="195.7" rx="3.4" ry="2.1" fill="#545454" filter="url(#bl1)"/><ellipse cx="53.9" cy="269.1" rx="4.5" ry="2.9" fill="#545454" filter="url(#bl1)"/><ellipse cx="18.4" cy="100.5" rx="2.9" ry="1.6" fill="#545454" filter="url(#bl1)"/><ellipse cx="41.8" cy="138.1" rx="4.5" ry="2.3" fill="#545454" filter="url(#bl1)"/><ellipse cx="51.8" cy="236.4" rx="2.0" ry="1.9" fill="#545454" filter="url(#bl1)"/><ellipse cx="49.3" cy="153.4" rx="4.9" ry="2.3" fill="#545454" filter="url(#bl1)"/><ellipse cx="5.8" cy="188.5" rx="4.3" ry="2.0" fill="#545454" filter="url(#bl1)"/><ellipse cx="6.5" cy="123.2" rx="4.9" ry="3.0" fill="#545454" filter="url(#bl1)"/><ellipse cx="8.1" cy="104.2" rx="2.3" ry="1.6" fill="#545454" filter="url(#bl1)"/><ellipse cx="43.4" cy="89.1" rx="3.7" ry="2.4" fill="#545454" filter="url(#bl1)"/><ellipse cx="11.9" cy="211.0" rx="2.4" ry="2.8" fill="#545454" filter="url(#bl1)"/><ellipse cx="8.1" cy="142.6" rx="2.6" ry="2.0" fill="#545454" filter="url(#bl1)"/><ellipse cx="52.5" cy="226.8" rx="2.9" ry="3.3" fill="#545454" filter="url(#bl1)"/><ellipse cx="13.0" cy="136.7" rx="4.6" ry="2.8" fill="#545454" filter="url(#bl1)"/><ellipse cx="7.2" cy="267.6" rx="2.6" ry="2.0" fill="#545454" filter="url(#bl1)"/><ellipse cx="42.2" cy="122.4" rx="2.9" ry="1.6" fill="#545454" filter="url(#bl1)"/><ellipse cx="6.7" cy="178.2" rx="2.7" ry="2.7" fill="#545454" filter="url(#bl1)"/><ellipse cx="21.3" cy="149.7" rx="4.9" ry="2.5" fill="#545454" filter="url(#bl1)"/><ellipse cx="31.9" cy="240.6" rx="2.5" ry="1.8" fill="#545454" filter="url(#bl1)"/><ellipse cx="49.2" cy="229.9" rx="2.7" ry="1.9" fill="#545454" filter="url(#bl1)"/><ellipse cx="40.5" cy="256.9" rx="2.6" ry="3.4" fill="#545454" filter="url(#bl1)"/><ellipse cx="47.9" cy="182.8" rx="3.3" ry="1.7" fill="#545454" filter="url(#bl1)"/><ellipse cx="4.0" cy="261.8" rx="2.7" ry="2.9" fill="#545454" filter="url(#bl1)"/><ellipse cx="15.4" cy="231.2" rx="3.8" ry="2.1" fill="#545454" filter="url(#bl1)"/><ellipse cx="11.1" cy="208.5" rx="2.2" ry="2.0" fill="#545454" filter="url(#bl1)"/><ellipse cx="31.1" cy="237.5" rx="3.8" ry="2.1" fill="#545454" filter="url(#bl1)"/><ellipse cx="49.7" cy="94.9" rx="2.0" ry="2.0" fill="#545454" filter="url(#bl1)"/><ellipse cx="25.2" cy="63.3" rx="2.5" ry="2.2" fill="#545454" filter="url(#bl1)"/><ellipse cx="31.8" cy="78.9" rx="3.1" ry="3.3" fill="#545454" filter="url(#bl1)"/><ellipse cx="53.0" cy="194.5" rx="4.1" ry="2.7" fill="#545454" filter="url(#bl1)"/>
<path d="M-2 502.5 L9 507.4 L20.4 510.8 L27 508.4 L30.8 502.7 L33.3 495 L35.5 505.5 L40.3 515 L46.9 519.7 L58 523.2" fill="none" stroke="#b8b8b8" stroke-width="44" filter="url(#bl5)" opacity="0.9"/><path d="M-2 502.5 L9 507.4 L20.4 510.8 L27 508.4 L30.8 502.7 L33.3 495 L35.5 505.5 L40.3 515 L46.9 519.7 L58 523.2" fill="none" stroke="#c8c8c8" stroke-width="22" filter="url(#bl3)" opacity="0.8"/>
<path d="M33 428 L36.5 440 L32 452" stroke="#444" stroke-width="2" fill="none" filter="url(#bl1)"/>
</g>
</g>
<text x="54.30" y="9.79" font-size="10.6" text-anchor="end" fill="#2a35e0">DAPI</text>
</g>
<g fill="none" stroke="#a8a8a8" stroke-width="1.1">
<path d="M673 44 H675 V53.5 H673"/>
<path d="M673 57.3 H675 V177.6 H673"/>
<path d="M673 179.6 H675 V292.3 H673"/>
<path d="M673 295.4 H675 V461 H673"/>
<path d="M673 462.6 H675 V513.4 H673"/>
<path d="M673 519.3 H675 V540.1 H673"/>
</g>
<text x="681.20" y="52.93" font-size="9.3" text-anchor="middle" fill="#222" transform="rotate(90 681.20 49.60)">MZ</text>
<text x="681.20" y="124.23" font-size="9.3" text-anchor="middle" fill="#222" transform="rotate(90 681.20 120.90)">CP/SP</text>
<text x="681.20" y="239.33" font-size="9.3" text-anchor="middle" fill="#222" transform="rotate(90 681.20 236.00)">IZ</text>
<text x="681.20" y="373.83" font-size="9.3" text-anchor="middle" fill="#222" transform="rotate(90 681.20 370.50)">oSVZ</text>
<text x="681.20" y="488.33" font-size="9.3" text-anchor="middle" fill="#222" transform="rotate(90 681.20 485.00)">iSVZ</text>
<text x="681.20" y="535.83" font-size="9.3" text-anchor="middle" fill="#222" transform="rotate(90 681.20 532.50)">VZ</text>
<defs><clipPath id="ep"><rect x="0" y="0" width="94.1" height="93.9"/></clipPath><filter id="bl05" x="-50%" y="-50%" width="200%" height="200%"><feGaussianBlur stdDeviation="0.5"/></filter><filter id="hz2" filterUnits="userSpaceOnUse" x="0" y="0" width="94.1" height="93.9" color-interpolation-filters="sRGB"><feTurbulence type="fractalNoise" baseFrequency="0.4 0.08" numOctaves="2" seed="2"/><feColorMatrix type="matrix" values="0.2 0 0 0 -0.06  0.2 0 0 0 -0.06  0.2 0 0 0 -0.06  0 0 0 0 1"/></filter></defs>
<g transform="translate(26 620.2)" clip-path="url(#ep)"><rect width="94.1" height="93.9" fill="#05030a"/>
<g filter="url(#bl05)"><ellipse cx="60.1" cy="2.4" rx="1.2" ry="2.2" transform="rotate(19 60.1 2.4)" fill="#2a44d6" opacity="0.92"/><ellipse cx="83.9" cy="8.2" rx="1.3" ry="1.9" transform="rotate(-23 83.9 8.2)" fill="#2a44d6" opacity="0.88"/><ellipse cx="2.5" cy="18.7" rx="1.5" ry="2.7" transform="rotate(-22 2.5 18.7)" fill="#2a44d6" opacity="0.90"/><ellipse cx="76.1" cy="0.6" rx="1.6" ry="2.9" transform="rotate(-13 76.1 0.6)" fill="#2a44d6" opacity="0.79"/><ellipse cx="90.0" cy="31.6" rx="1.1" ry="2.0" transform="rotate(28 90.0 31.6)" fill="#2a44d6" opacity="0.90"/><ellipse cx="75.9" cy="68.6" rx="1.4" ry="3.3" transform="rotate(-10 75.9 68.6)" fill="#2a44d6" opacity="0.89"/><ellipse cx="78.0" cy="58.1" rx="1.7" ry="2.7" transform="rotate(16 78.0 58.1)" fill="#2a44d6" opacity="0.76"/><ellipse cx="21.4" cy="27.2" rx="1.1" ry="2.2" transform="rotate(-32 21.4 27.2)" fill="#2a44d6" opacity="0.82"/><ellipse cx="59.8" cy="34.3" rx="1.3" ry="2.2" transform="rotate(-19 59.8 34.3)" fill="#2a44d6" opacity="0.98"/><ellipse cx="60.9" cy="57.3" rx="1.1" ry="2.9" transform="rotate(-27 60.9 57.3)" fill="#2a44d6" opacity="0.84"/><ellipse cx="93.0" cy="60.2" rx="1.4" ry="2.9" transform="rotate(27 93.0 60.2)" fill="#2a44d6" opacity="0.94"/><ellipse cx="21.5" cy="3.0" rx="1.3" ry="2.3" transform="rotate(-23 21.5 3.0)" fill="#2a44d6" opacity="0.99"/><ellipse cx="82.4" cy="29.6" rx="1.5" ry="2.5" transform="rotate(33 82.4 29.6)" fill="#2a44d6" opacity="0.86"/><ellipse cx="24.9" cy="23.2" rx="1.4" ry="2.3" transform="rotate(7 24.9 23.2)" fill="#2a44d6" opacity="0.97"/><ellipse cx="37.5" cy="20.6" rx="1.8" ry="2.6" transform="rotate(-33 37.5 20.6)" fill="#2a44d6" opacity="0.76"/><ellipse cx="10.3" cy="59.0" rx="1.6" ry="2.5" transform="rotate(-35 10.3 59.0)" fill="#2a44d6" opacity="0.85"/><ellipse cx="93.6" cy="49.7" rx="1.8" ry="3.1" transform="rotate(-39 93.6 49.7)" fill="#2a44d6" opacity="0.93"/><ellipse cx="64.1" cy="50.5" rx="1.2" ry="2.8" transform="rotate(-31 64.1 50.5)" fill="#2a44d6" opacity="0.86"/><ellipse cx="42.7" cy="89.7" rx="1.7" ry="2.3" transform="rotate(0 42.7 89.7)" fill="#2a44d6" opacity="0.79"/><ellipse cx="85.8" cy="81.8" rx="1.2" ry="2.8" transform="rotate(9 85.8 81.8)" fill="#2a44d6" opacity="0.79"/><ellipse cx="71.7" cy="50.7" rx="1.6" ry="2.6" transform="rotate(-40 71.7 50.7)" fill="#2a44d6" opacity="0.83"/><ellipse cx="1.8" cy="87.3" rx="1.7" ry="3.1" transform="rotate(-15 1.8 87.3)" fill="#2a44d6" opacity="0.76"/><ellipse cx="82.5" cy="89.0" rx="1.1" ry="2.6" transform="rotate(-34 82.5 89.0)" fill="#2a44d6" opacity="0.94"/><ellipse cx="72.0" cy="12.1" rx="1.4" ry="2.7" transform="rotate(-19 72.0 12.1)" fill="#2a44d6" opacity="0.97"/><ellipse cx="39.8" cy="19.9" rx="1.4" ry="2.9" transform="rotate(-24 39.8 19.9)" fill="#2a44d6" opacity="0.83"/><ellipse cx="93.5" cy="61.1" rx="1.4" ry="2.6" transform="rotate(-30 93.5 61.1)" fill="#2a44d6" opacity="0.81"/><ellipse cx="31.8" cy="55.3" rx="1.2" ry="2.2" transform="rotate(-34 31.8 55.3)" fill="#2a44d6" opacity="0.91"/><ellipse cx="21.5" cy="85.1" rx="1.7" ry="2.0" transform="rotate(-21 21.5 85.1)" fill="#2a44d6" opacity="0.92"/><ellipse cx="20.1" cy="12.4" rx="1.7" ry="2.7" transform="rotate(-2 20.1 12.4)" fill="#2a44d6" opacity="0.95"/><ellipse cx="75.9" cy="17.9" rx="1.1" ry="2.5" transform="rotate(-6 75.9 17.9)" fill="#2a44d6" opacity="0.87"/><ellipse cx="68.5" cy="63.3" rx="1.8" ry="2.0" transform="rotate(-8 68.5 63.3)" fill="#2a44d6" opacity="0.83"/><ellipse cx="81.0" cy="23.4" rx="1.2" ry="2.5" transform="rotate(-6 81.0 23.4)" fill="#2a44d6" opacity="0.82"/><ellipse cx="23.5" cy="86.8" rx="1.4" ry="3.1" transform="rotate(4 23.5 86.8)" fill="#2a44d6" opacity="0.76"/><ellipse cx="93.9" cy="78.6" rx="1.8" ry="3.2" transform="rotate(28 93.9 78.6)" fill="#2a44d6" opacity="0.79"/><ellipse cx="45.7" cy="20.1" rx="1.3" ry="2.0" transform="rotate(-10 45.7 20.1)" fill="#2a44d6" opacity="1.00"/><ellipse cx="24.9" cy="73.7" rx="1.4" ry="2.5" transform="rotate(37 24.9 73.7)" fill="#2a44d6" opacity="1.00"/><ellipse cx="52.2" cy="67.5" rx="1.1" ry="2.3" transform="rotate(37 52.2 67.5)" fill="#2a44d6" opacity="0.89"/><ellipse cx="51.0" cy="70.3" rx="1.0" ry="2.7" transform="rotate(0 51.0 70.3)" fill="#2a44d6" opacity="0.96"/><ellipse cx="14.8" cy="90.3" rx="1.1" ry="2.2" transform="rotate(8 14.8 90.3)" fill="#2a44d6" opacity="0.92"/><ellipse cx="22.1" cy="11.3" rx="1.7" ry="2.2" transform="rotate(8 22.1 11.3)" fill="#2a44d6" opacity="0.90"/><ellipse cx="39.4" cy="54.9" rx="1.4" ry="3.2" transform="rotate(-24 39.4 54.9)" fill="#2a44d6" opacity="0.93"/><ellipse cx="22.4" cy="37.2" rx="1.5" ry="2.3" transform="rotate(-15 22.4 37.2)" fill="#2a44d6" opacity="0.94"/><ellipse cx="6.8" cy="43.1" rx="1.8" ry="3.3" transform="rotate(-34 6.8 43.1)" fill="#2a44d6" opacity="0.80"/><ellipse cx="24.9" cy="87.7" rx="1.7" ry="3.1" transform="rotate(-10 24.9 87.7)" fill="#2a44d6" opacity="0.79"/><ellipse cx="78.4" cy="66.1" rx="1.5" ry="3.3" transform="rotate(12 78.4 66.1)" fill="#2a44d6" opacity="0.75"/><ellipse cx="76.8" cy="28.1" rx="1.5" ry="3.2" transform="rotate(-29 76.8 28.1)" fill="#2a44d6" opacity="0.78"/><ellipse cx="10.1" cy="52.0" rx="1.2" ry="2.7" transform="rotate(17 10.1 52.0)" fill="#2a44d6" opacity="0.80"/><ellipse cx="59.6" cy="24.8" rx="1.4" ry="3.2" transform="rotate(28 59.6 24.8)" fill="#2a44d6" opacity="0.77"/><ellipse cx="39.8" cy="26.0" rx="1.0" ry="3.0" transform="rotate(11 39.8 26.0)" fill="#2a44d6" opacity="0.82"/><ellipse cx="69.7" cy="51.9" rx="1.3" ry="1.9" transform="rotate(-34 69.7 51.9)" fill="#2a44d6" opacity="0.97"/><ellipse cx="85.0" cy="51.3" rx="1.7" ry="2.7" transform="rotate(-28 85.0 51.3)" fill="#2a44d6" opacity="0.78"/><ellipse cx="29.0" cy="84.5" rx="1.6" ry="3.1" transform="rotate(32 29.0 84.5)" fill="#2a44d6" opacity="0.80"/><ellipse cx="23.5" cy="9.7" rx="1.6" ry="3.1" transform="rotate(-7 23.5 9.7)" fill="#2a44d6" opacity="0.91"/><ellipse cx="14.5" cy="87.4" rx="1.7" ry="3.3" transform="rotate(25 14.5 87.4)" fill="#2a44d6" opacity="0.97"/><ellipse cx="2.3" cy="69.2" rx="1.3" ry="3.2" transform="rotate(24 2.3 69.2)" fill="#2a44d6" opacity="0.97"/><ellipse cx="76.2" cy="25.1" rx="1.6" ry="2.1" transform="rotate(30 76.2 25.1)" fill="#2a44d6" opacity="0.96"/><ellipse cx="20.9" cy="76.8" rx="1.4" ry="2.3" transform="rotate(24 20.9 76.8)" fill="#2a44d6" opacity="0.81"/><ellipse cx="2.2" cy="18.2" rx="1.3" ry="3.1" transform="rotate(37 2.2 18.2)" fill="#2a44d6" opacity="0.82"/><ellipse cx="60.3" cy="37.6" rx="1.8" ry="2.7" transform="rotate(35 60.3 37.6)" fill="#2a44d6" opacity="0.78"/><ellipse cx="91.2" cy="16.8" rx="1.8" ry="2.3" transform="rotate(-31 91.2 16.8)" fill="#2a44d6" opacity="0.86"/><ellipse cx="68.5" cy="29.5" rx="1.5" ry="2.6" transform="rotate(-9 68.5 29.5)" fill="#2a44d6" opacity="0.89"/><ellipse cx="23.9" cy="66.6" rx="1.0" ry="3.2" transform="rotate(3 23.9 66.6)" fill="#2a44d6" opacity="0.93"/><ellipse cx="69.7" cy="63.0" rx="1.3" ry="2.0" transform="rotate(13 69.7 63.0)" fill="#2a44d6" opacity="0.83"/><ellipse cx="29.5" cy="79.7" rx="1.6" ry="2.3" transform="rotate(-15 29.5 79.7)" fill="#2a44d6" opacity="0.85"/><ellipse cx="37.8" cy="27.8" rx="1.1" ry="2.5" transform="rotate(35 37.8 27.8)" fill="#2a44d6" opacity="0.92"/><ellipse cx="84.9" cy="57.9" rx="1.2" ry="2.7" transform="rotate(-40 84.9 57.9)" fill="#2a44d6" opacity="0.82"/><ellipse cx="40.4" cy="54.5" rx="1.5" ry="2.6" transform="rotate(-5 40.4 54.5)" fill="#2a44d6" opacity="0.80"/><ellipse cx="44.5" cy="84.7" rx="1.6" ry="2.1" transform="rotate(-33 44.5 84.7)" fill="#2a44d6" opacity="0.88"/><ellipse cx="59.5" cy="31.5" rx="1.7" ry="3.0" transform="rotate(14 59.5 31.5)" fill="#2a44d6" opacity="0.81"/><ellipse cx="18.7" cy="2.3" rx="1.2" ry="2.6" transform="rotate(28 18.7 2.3)" fill="#2a44d6" opacity="0.77"/><ellipse cx="39.0" cy="59.2" rx="1.2" ry="2.9" transform="rotate(-0 39.0 59.2)" fill="#2a44d6" opacity="0.81"/><ellipse cx="61.7" cy="0.5" rx="1.6" ry="3.0" transform="rotate(-31 61.7 0.5)" fill="#2a44d6" opacity="0.86"/><ellipse cx="16.5" cy="90.0" rx="1.4" ry="2.0" transform="rotate(-20 16.5 90.0)" fill="#2a44d6" opacity="0.96"/><ellipse cx="42.9" cy="75.3" rx="1.5" ry="3.3" transform="rotate(8 42.9 75.3)" fill="#2a44d6" opacity="0.99"/><ellipse cx="83.8" cy="57.6" rx="1.6" ry="2.6" transform="rotate(26 83.8 57.6)" fill="#2a44d6" opacity="0.89"/><ellipse cx="84.3" cy="69.9" rx="1.4" ry="2.3" transform="rotate(-20 84.3 69.9)" fill="#2a44d6" opacity="0.91"/><ellipse cx="72.0" cy="49.0" rx="1.5" ry="2.3" transform="rotate(-34 72.0 49.0)" fill="#2a44d6" opacity="0.82"/><ellipse cx="25.5" cy="30.1" rx="1.4" ry="2.1" transform="rotate(-21 25.5 30.1)" fill="#2a44d6" opacity="0.92"/><ellipse cx="66.4" cy="6.0" rx="1.3" ry="2.7" transform="rotate(-7 66.4 6.0)" fill="#2a44d6" opacity="0.80"/><ellipse cx="39.5" cy="85.1" rx="1.5" ry="2.9" transform="rotate(29 39.5 85.1)" fill="#2a44d6" opacity="0.94"/><ellipse cx="35.8" cy="0.6" rx="1.3" ry="3.0" transform="rotate(28 35.8 0.6)" fill="#2a44d6" opacity="0.99"/><ellipse cx="39.4" cy="70.3" rx="1.4" ry="2.7" transform="rotate(-22 39.4 70.3)" fill="#2a44d6" opacity="0.80"/><ellipse cx="41.0" cy="2.7" rx="1.3" ry="2.9" transform="rotate(-8 41.0 2.7)" fill="#2a44d6" opacity="0.79"/><ellipse cx="43.9" cy="12.0" rx="1.5" ry="1.9" transform="rotate(-8 43.9 12.0)" fill="#2a44d6" opacity="0.89"/><ellipse cx="2.5" cy="60.4" rx="1.1" ry="2.5" transform="rotate(-36 2.5 60.4)" fill="#2a44d6" opacity="0.84"/><ellipse cx="19.9" cy="30.7" rx="1.6" ry="2.4" transform="rotate(20 19.9 30.7)" fill="#2a44d6" opacity="0.96"/><ellipse cx="23.7" cy="7.7" rx="1.0" ry="2.7" transform="rotate(40 23.7 7.7)" fill="#2a44d6" opacity="0.84"/><ellipse cx="61.1" cy="73.4" rx="1.5" ry="3.0" transform="rotate(36 61.1 73.4)" fill="#2a44d6" opacity="0.80"/><ellipse cx="1.9" cy="14.3" rx="1.1" ry="2.8" transform="rotate(5 1.9 14.3)" fill="#2a44d6" opacity="0.80"/><ellipse cx="65.7" cy="72.1" rx="1.1" ry="2.8" transform="rotate(20 65.7 72.1)" fill="#2a44d6" opacity="0.78"/><ellipse cx="77.0" cy="90.7" rx="1.1" ry="1.9" transform="rotate(-15 77.0 90.7)" fill="#2a44d6" opacity="0.92"/><ellipse cx="90.1" cy="37.3" rx="1.6" ry="2.0" transform="rotate(15 90.1 37.3)" fill="#2a44d6" opacity="0.91"/><ellipse cx="9.6" cy="72.6" rx="1.7" ry="2.7" transform="rotate(-30 9.6 72.6)" fill="#2a44d6" opacity="1.00"/><ellipse cx="73.6" cy="32.6" rx="1.3" ry="2.4" transform="rotate(0 73.6 32.6)" fill="#2a44d6" opacity="0.84"/><ellipse cx="79.9" cy="77.3" rx="1.1" ry="3.2" transform="rotate(11 79.9 77.3)" fill="#2a44d6" opacity="0.96"/><ellipse cx="66.5" cy="40.9" rx="1.6" ry="3.3" transform="rotate(-18 66.5 40.9)" fill="#2a44d6" opacity="0.95"/><ellipse cx="50.6" cy="45.4" rx="1.3" ry="2.9" transform="rotate(-19 50.6 45.4)" fill="#2a44d6" opacity="0.96"/><ellipse cx="78.1" cy="8.1" rx="1.7" ry="2.2" transform="rotate(-3 78.1 8.1)" fill="#2a44d6" opacity="0.90"/><ellipse cx="35.6" cy="2.7" rx="1.7" ry="2.2" transform="rotate(-23 35.6 2.7)" fill="#2a44d6" opacity="0.95"/><ellipse cx="32.0" cy="82.8" rx="1.6" ry="2.3" transform="rotate(-39 32.0 82.8)" fill="#2a44d6" opacity="0.99"/><ellipse cx="8.0" cy="67.7" rx="1.4" ry="3.0" transform="rotate(15 8.0 67.7)" fill="#2a44d6" opacity="0.91"/><ellipse cx="46.1" cy="74.5" rx="1.1" ry="2.2" transform="rotate(15 46.1 74.5)" fill="#2a44d6" opacity="0.83"/><ellipse cx="54.7" cy="44.5" rx="1.4" ry="2.5" transform="rotate(20 54.7 44.5)" fill="#2a44d6" opacity="0.83"/><ellipse cx="66.1" cy="25.5" rx="1.2" ry="2.1" transform="rotate(-25 66.1 25.5)" fill="#2a44d6" opacity="0.78"/><ellipse cx="50.4" cy="71.6" rx="1.1" ry="2.2" transform="rotate(-1 50.4 71.6)" fill="#2a44d6" opacity="0.93"/><ellipse cx="91.8" cy="49.3" rx="1.2" ry="2.0" transform="rotate(-24 91.8 49.3)" fill="#2a44d6" opacity="0.81"/><ellipse cx="16.9" cy="1.3" rx="1.4" ry="2.3" transform="rotate(38 16.9 1.3)" fill="#2a44d6" opacity="0.89"/><ellipse cx="65.6" cy="11.9" rx="1.7" ry="2.6" transform="rotate(30 65.6 11.9)" fill="#2a44d6" opacity="0.89"/><ellipse cx="44.1" cy="41.4" rx="1.1" ry="2.0" transform="rotate(35 44.1 41.4)" fill="#2a44d6" opacity="0.87"/><ellipse cx="77.3" cy="37.7" rx="1.1" ry="2.8" transform="rotate(-36 77.3 37.7)" fill="#2a44d6" opacity="0.79"/><ellipse cx="52.9" cy="28.6" rx="1.8" ry="2.1" transform="rotate(21 52.9 28.6)" fill="#2a44d6" opacity="0.90"/><ellipse cx="74.3" cy="21.2" rx="1.4" ry="2.5" transform="rotate(-5 74.3 21.2)" fill="#2a44d6" opacity="0.97"/><ellipse cx="93.1" cy="28.7" rx="1.5" ry="2.8" transform="rotate(19 93.1 28.7)" fill="#2a44d6" opacity="0.99"/><ellipse cx="19.5" cy="19.8" rx="1.5" ry="2.1" transform="rotate(-26 19.5 19.8)" fill="#2a44d6" opacity="0.77"/><ellipse cx="0.3" cy="42.3" rx="1.5" ry="2.3" transform="rotate(-21 0.3 42.3)" fill="#2a44d6" opacity="0.93"/><ellipse cx="66.1" cy="42.7" rx="1.5" ry="3.2" transform="rotate(23 66.1 42.7)" fill="#2a44d6" opacity="0.91"/><ellipse cx="62.2" cy="87.8" rx="1.3" ry="2.7" transform="rotate(12 62.2 87.8)" fill="#2a44d6" opacity="0.98"/><ellipse cx="77.7" cy="6.7" rx="1.1" ry="2.3" transform="rotate(20 77.7 6.7)" fill="#2a44d6" opacity="0.89"/><ellipse cx="27.1" cy="11.7" rx="1.6" ry="2.9" transform="rotate(35 27.1 11.7)" fill="#2a44d6" opacity="0.88"/><ellipse cx="46.4" cy="7.6" rx="1.0" ry="2.5" transform="rotate(-14 46.4 7.6)" fill="#2a44d6" opacity="0.81"/><ellipse cx="8.6" cy="90.4" rx="1.7" ry="2.7" transform="rotate(36 8.6 90.4)" fill="#2a44d6" opacity="1.00"/><ellipse cx="63.2" cy="25.3" rx="1.0" ry="3.0" transform="rotate(-2 63.2 25.3)" fill="#2a44d6" opacity="0.91"/><ellipse cx="86.1" cy="17.1" rx="1.5" ry="2.8" transform="rotate(-1 86.1 17.1)" fill="#2a44d6" opacity="0.77"/><ellipse cx="32.7" cy="31.3" rx="1.5" ry="3.1" transform="rotate(-14 32.7 31.3)" fill="#2a44d6" opacity="0.92"/><ellipse cx="27.1" cy="88.8" rx="1.7" ry="2.7" transform="rotate(-4 27.1 88.8)" fill="#2a44d6" opacity="0.83"/><ellipse cx="30.4" cy="91.2" rx="1.3" ry="2.6" transform="rotate(39 30.4 91.2)" fill="#2a44d6" opacity="0.91"/><ellipse cx="51.0" cy="38.8" rx="1.2" ry="2.4" transform="rotate(21 51.0 38.8)" fill="#2a44d6" opacity="0.91"/><ellipse cx="71.4" cy="19.1" rx="1.4" ry="3.2" transform="rotate(-5 71.4 19.1)" fill="#2a44d6" opacity="0.92"/><ellipse cx="11.4" cy="91.5" rx="1.5" ry="2.2" transform="rotate(-27 11.4 91.5)" fill="#2a44d6" opacity="0.89"/><ellipse cx="51.9" cy="8.8" rx="1.8" ry="3.2" transform="rotate(-3 51.9 8.8)" fill="#2a44d6" opacity="0.78"/><ellipse cx="78.2" cy="46.8" rx="1.6" ry="2.6" transform="rotate(-18 78.2 46.8)" fill="#2a44d6" opacity="0.96"/><ellipse cx="92.1" cy="22.9" rx="1.4" ry="2.4" transform="rotate(34 92.1 22.9)" fill="#2a44d6" opacity="0.88"/><ellipse cx="82.7" cy="81.2" rx="1.2" ry="3.0" transform="rotate(-7 82.7 81.2)" fill="#2a44d6" opacity="0.98"/><ellipse cx="47.7" cy="77.1" rx="1.2" ry="2.3" transform="rotate(7 47.7 77.1)" fill="#2a44d6" opacity="1.00"/><ellipse cx="46.0" cy="14.0" rx="1.4" ry="2.4" transform="rotate(4 46.0 14.0)" fill="#2a44d6" opacity="0.89"/><ellipse cx="42.8" cy="30.2" rx="1.2" ry="2.9" transform="rotate(6 42.8 30.2)" fill="#2a44d6" opacity="0.81"/><ellipse cx="72.9" cy="4.1" rx="1.6" ry="2.9" transform="rotate(25 72.9 4.1)" fill="#2a44d6" opacity="0.85"/><ellipse cx="62.4" cy="77.2" rx="1.8" ry="2.6" transform="rotate(-37 62.4 77.2)" fill="#2a44d6" opacity="0.88"/><ellipse cx="55.5" cy="81.8" rx="1.7" ry="2.5" transform="rotate(2 55.5 81.8)" fill="#2a44d6" opacity="0.86"/><ellipse cx="67.9" cy="38.5" rx="1.5" ry="2.1" transform="rotate(-2 67.9 38.5)" fill="#2a44d6" opacity="0.99"/><ellipse cx="31.8" cy="65.1" rx="1.5" ry="3.1" transform="rotate(28 31.8 65.1)" fill="#2a44d6" opacity="0.96"/><ellipse cx="35.7" cy="29.8" rx="1.6" ry="3.0" transform="rotate(30 35.7 29.8)" fill="#2a44d6" opacity="0.76"/><ellipse cx="6.4" cy="59.3" rx="1.7" ry="3.3" transform="rotate(20 6.4 59.3)" fill="#2a44d6" opacity="0.86"/><ellipse cx="9.3" cy="59.6" rx="1.7" ry="2.5" transform="rotate(16 9.3 59.6)" fill="#2a44d6" opacity="0.98"/><ellipse cx="4.3" cy="74.8" rx="1.2" ry="2.4" transform="rotate(-28 4.3 74.8)" fill="#2a44d6" opacity="0.88"/><ellipse cx="53.2" cy="74.5" rx="1.1" ry="2.0" transform="rotate(30 53.2 74.5)" fill="#2a44d6" opacity="0.90"/><ellipse cx="22.6" cy="85.8" rx="1.1" ry="2.5" transform="rotate(-20 22.6 85.8)" fill="#2a44d6" opacity="0.81"/><ellipse cx="0.9" cy="75.6" rx="1.7" ry="2.8" transform="rotate(-27 0.9 75.6)" fill="#2a44d6" opacity="0.86"/><ellipse cx="32.5" cy="55.2" rx="1.5" ry="2.5" transform="rotate(-20 32.5 55.2)" fill="#2a44d6" opacity="0.96"/><ellipse cx="18.7" cy="36.2" rx="1.4" ry="2.2" transform="rotate(6 18.7 36.2)" fill="#2a44d6" opacity="0.89"/><ellipse cx="93.3" cy="27.8" rx="1.8" ry="2.8" transform="rotate(-18 93.3 27.8)" fill="#2a44d6" opacity="0.31"/><ellipse cx="64.5" cy="70.0" rx="1.0" ry="2.7" transform="rotate(-0 64.5 70.0)" fill="#2a44d6" opacity="0.42"/><ellipse cx="26.9" cy="75.1" rx="1.5" ry="2.4" transform="rotate(11 26.9 75.1)" fill="#2a44d6" opacity="0.32"/><ellipse cx="63.7" cy="67.8" rx="1.5" ry="3.1" transform="rotate(10 63.7 67.8)" fill="#2a44d6" opacity="0.42"/><ellipse cx="60.8" cy="29.0" rx="1.4" ry="2.7" transform="rotate(19 60.8 29.0)" fill="#2a44d6" opacity="0.15"/><ellipse cx="27.7" cy="70.3" rx="1.1" ry="2.1" transform="rotate(3 27.7 70.3)" fill="#2a44d6" opacity="0.44"/><ellipse cx="49.9" cy="85.9" rx="1.7" ry="2.3" transform="rotate(26 49.9 85.9)" fill="#2a44d6" opacity="0.28"/><ellipse cx="75.8" cy="70.2" rx="1.3" ry="2.1" transform="rotate(37 75.8 70.2)" fill="#2a44d6" opacity="0.17"/><ellipse cx="90.9" cy="80.9" rx="1.6" ry="3.3" transform="rotate(37 90.9 80.9)" fill="#2a44d6" opacity="0.39"/><ellipse cx="34.4" cy="74.3" rx="1.0" ry="2.7" transform="rotate(-4 34.4 74.3)" fill="#2a44d6" opacity="0.34"/><ellipse cx="63.2" cy="54.9" rx="1.7" ry="3.2" transform="rotate(-31 63.2 54.9)" fill="#2a44d6" opacity="0.20"/><ellipse cx="2.4" cy="83.1" rx="1.4" ry="3.2" transform="rotate(-22 2.4 83.1)" fill="#2a44d6" opacity="0.14"/><ellipse cx="77.4" cy="85.5" rx="1.2" ry="2.5" transform="rotate(-29 77.4 85.5)" fill="#2a44d6" opacity="0.43"/><ellipse cx="28.6" cy="46.3" rx="1.1" ry="3.1" transform="rotate(-29 28.6 46.3)" fill="#2a44d6" opacity="0.27"/><ellipse cx="63.0" cy="69.9" rx="1.8" ry="2.5" transform="rotate(19 63.0 69.9)" fill="#2a44d6" opacity="0.17"/><ellipse cx="39.0" cy="9.3" rx="1.4" ry="2.5" transform="rotate(36 39.0 9.3)" fill="#2a44d6" opacity="0.13"/><ellipse cx="34.8" cy="41.7" rx="1.8" ry="3.1" transform="rotate(-32 34.8 41.7)" fill="#2a44d6" opacity="0.35"/><ellipse cx="51.2" cy="91.9" rx="1.3" ry="2.5" transform="rotate(-25 51.2 91.9)" fill="#2a44d6" opacity="0.16"/><ellipse cx="79.7" cy="42.7" rx="1.5" ry="2.8" transform="rotate(8 79.7 42.7)" fill="#2a44d6" opacity="0.13"/><ellipse cx="74.0" cy="22.9" rx="1.1" ry="2.7" transform="rotate(-35 74.0 22.9)" fill="#2a44d6" opacity="0.37"/><ellipse cx="19.5" cy="20.3" rx="1.7" ry="2.4" transform="rotate(-28 19.5 20.3)" fill="#2a44d6" opacity="0.42"/><ellipse cx="0.3" cy="80.7" rx="1.1" ry="2.1" transform="rotate(-20 0.3 80.7)" fill="#2a44d6" opacity="0.18"/><ellipse cx="62.1" cy="2.4" rx="1.0" ry="3.0" transform="rotate(-21 62.1 2.4)" fill="#2a44d6" opacity="0.23"/><ellipse cx="16.4" cy="4.9" rx="1.6" ry="2.6" transform="rotate(20 16.4 4.9)" fill="#2a44d6" opacity="0.28"/><ellipse cx="73.1" cy="48.2" rx="1.1" ry="2.6" transform="rotate(36 73.1 48.2)" fill="#2a44d6" opacity="0.13"/><ellipse cx="73.6" cy="81.5" rx="1.4" ry="2.5" transform="rotate(37 73.6 81.5)" fill="#2a44d6" opacity="0.14"/><ellipse cx="45.0" cy="37.8" rx="1.5" ry="2.6" transform="rotate(33 45.0 37.8)" fill="#2a44d6" opacity="0.14"/><ellipse cx="7.6" cy="57.2" rx="1.1" ry="2.3" transform="rotate(11 7.6 57.2)" fill="#2a44d6" opacity="0.30"/><ellipse cx="30.6" cy="93.5" rx="1.4" ry="2.5" transform="rotate(8 30.6 93.5)" fill="#2a44d6" opacity="0.15"/><ellipse cx="66.0" cy="80.2" rx="1.5" ry="3.0" transform="rotate(18 66.0 80.2)" fill="#2a44d6" opacity="0.19"/><ellipse cx="42.4" cy="21.5" rx="1.3" ry="2.5" transform="rotate(-7 42.4 21.5)" fill="#2a44d6" opacity="0.15"/><ellipse cx="40.1" cy="62.5" rx="1.3" ry="2.1" transform="rotate(34 40.1 62.5)" fill="#2a44d6" opacity="0.14"/><ellipse cx="78.2" cy="8.8" rx="1.1" ry="2.9" transform="rotate(25 78.2 8.8)" fill="#2a44d6" opacity="0.30"/><ellipse cx="55.1" cy="52.8" rx="1.3" ry="2.1" transform="rotate(-12 55.1 52.8)" fill="#2a44d6" opacity="0.34"/><ellipse cx="70.5" cy="81.6" rx="1.6" ry="3.3" transform="rotate(8 70.5 81.6)" fill="#2a44d6" opacity="0.24"/><ellipse cx="54.3" cy="20.0" rx="1.5" ry="2.2" transform="rotate(-31 54.3 20.0)" fill="#2a44d6" opacity="0.40"/><ellipse cx="34.6" cy="71.7" rx="1.5" ry="3.0" transform="rotate(28 34.6 71.7)" fill="#2a44d6" opacity="0.44"/><ellipse cx="76.9" cy="57.7" rx="1.5" ry="1.9" transform="rotate(34 76.9 57.7)" fill="#2a44d6" opacity="0.39"/><ellipse cx="25.1" cy="17.0" rx="1.6" ry="2.3" transform="rotate(-13 25.1 17.0)" fill="#2a44d6" opacity="0.12"/><ellipse cx="81.8" cy="53.2" rx="1.3" ry="2.1" transform="rotate(11 81.8 53.2)" fill="#2a44d6" opacity="0.13"/><ellipse cx="70.1" cy="20.2" rx="1.3" ry="2.4" transform="rotate(-10 70.1 20.2)" fill="#2a44d6" opacity="0.36"/><ellipse cx="73.0" cy="53.4" rx="1.1" ry="2.0" transform="rotate(-27 73.0 53.4)" fill="#2a44d6" opacity="0.32"/><ellipse cx="63.4" cy="25.6" rx="1.5" ry="2.6" transform="rotate(-5 63.4 25.6)" fill="#2a44d6" opacity="0.21"/><ellipse cx="71.0" cy="10.7" rx="1.3" ry="2.3" transform="rotate(14 71.0 10.7)" fill="#2a44d6" opacity="0.28"/><ellipse cx="62.7" cy="4.3" rx="1.3" ry="2.7" transform="rotate(-39 62.7 4.3)" fill="#2a44d6" opacity="0.22"/><ellipse cx="19.9" cy="12.9" rx="1.2" ry="2.4" transform="rotate(-39 19.9 12.9)" fill="#2a44d6" opacity="0.37"/><ellipse cx="16.5" cy="35.7" rx="1.6" ry="2.6" transform="rotate(27 16.5 35.7)" fill="#2a44d6" opacity="0.39"/><ellipse cx="6.8" cy="81.0" rx="1.0" ry="1.9" transform="rotate(34 6.8 81.0)" fill="#2a44d6" opacity="0.40"/><ellipse cx="54.1" cy="53.9" rx="1.6" ry="2.5" transform="rotate(-31 54.1 53.9)" fill="#2a44d6" opacity="0.13"/><ellipse cx="30.5" cy="75.3" rx="1.5" ry="3.1" transform="rotate(34 30.5 75.3)" fill="#2a44d6" opacity="0.15"/><ellipse cx="79.4" cy="22.9" rx="1.5" ry="2.6" transform="rotate(-8 79.4 22.9)" fill="#2a44d6" opacity="0.22"/><ellipse cx="31.9" cy="31.3" rx="1.1" ry="2.6" transform="rotate(-31 31.9 31.3)" fill="#2a44d6" opacity="0.29"/><ellipse cx="85.2" cy="32.8" rx="1.6" ry="3.0" transform="rotate(25 85.2 32.8)" fill="#2a44d6" opacity="0.20"/><ellipse cx="13.8" cy="18.5" rx="1.5" ry="3.0" transform="rotate(12 13.8 18.5)" fill="#2a44d6" opacity="0.18"/><ellipse cx="72.6" cy="46.4" rx="1.6" ry="3.0" transform="rotate(-4 72.6 46.4)" fill="#2a44d6" opacity="0.42"/><ellipse cx="53.1" cy="59.7" rx="1.5" ry="3.1" transform="rotate(10 53.1 59.7)" fill="#2a44d6" opacity="0.17"/><ellipse cx="6.4" cy="41.6" rx="1.2" ry="2.3" transform="rotate(-36 6.4 41.6)" fill="#2a44d6" opacity="0.29"/><ellipse cx="29.2" cy="42.5" rx="1.0" ry="3.1" transform="rotate(-34 29.2 42.5)" fill="#2a44d6" opacity="0.41"/><ellipse cx="80.4" cy="57.8" rx="1.4" ry="2.5" transform="rotate(4 80.4 57.8)" fill="#2a44d6" opacity="0.38"/><ellipse cx="84.2" cy="42.3" rx="1.6" ry="2.8" transform="rotate(-14 84.2 42.3)" fill="#2a44d6" opacity="0.28"/><ellipse cx="14.2" cy="5.8" rx="1.1" ry="3.2" transform="rotate(-13 14.2 5.8)" fill="#2a44d6" opacity="0.36"/><ellipse cx="47.4" cy="16.2" rx="1.2" ry="2.5" transform="rotate(-5 47.4 16.2)" fill="#2a44d6" opacity="0.29"/><ellipse cx="14.9" cy="35.0" rx="1.2" ry="2.5" transform="rotate(-13 14.9 35.0)" fill="#2a44d6" opacity="0.32"/><ellipse cx="74.2" cy="60.8" rx="1.1" ry="2.0" transform="rotate(14 74.2 60.8)" fill="#2a44d6" opacity="0.21"/><ellipse cx="68.0" cy="61.7" rx="1.7" ry="3.1" transform="rotate(-13 68.0 61.7)" fill="#2a44d6" opacity="0.31"/><ellipse cx="13.3" cy="32.9" rx="1.8" ry="2.9" transform="rotate(-9 13.3 32.9)" fill="#2a44d6" opacity="0.32"/><ellipse cx="88.2" cy="29.1" rx="1.3" ry="3.0" transform="rotate(25 88.2 29.1)" fill="#2a44d6" opacity="0.34"/><ellipse cx="77.9" cy="69.4" rx="1.5" ry="2.6" transform="rotate(12 77.9 69.4)" fill="#2a44d6" opacity="0.26"/><ellipse cx="34.0" cy="34.1" rx="1.1" ry="2.2" transform="rotate(36 34.0 34.1)" fill="#2a44d6" opacity="0.28"/><ellipse cx="21.3" cy="12.9" rx="1.1" ry="3.1" transform="rotate(-32 21.3 12.9)" fill="#2a44d6" opacity="0.37"/><ellipse cx="78.5" cy="83.1" rx="1.0" ry="2.4" transform="rotate(21 78.5 83.1)" fill="#2a44d6" opacity="0.16"/><ellipse cx="35.4" cy="15.3" rx="1.7" ry="3.0" transform="rotate(25 35.4 15.3)" fill="#2a44d6" opacity="0.17"/><ellipse cx="41.1" cy="38.6" rx="1.5" ry="2.2" transform="rotate(-4 41.1 38.6)" fill="#2a44d6" opacity="0.21"/><ellipse cx="70.4" cy="42.2" rx="1.4" ry="2.3" transform="rotate(25 70.4 42.2)" fill="#2a44d6" opacity="0.27"/><ellipse cx="78.5" cy="34.6" rx="1.8" ry="3.3" transform="rotate(-3 78.5 34.6)" fill="#2a44d6" opacity="0.21"/><ellipse cx="35.9" cy="49.6" rx="1.8" ry="3.0" transform="rotate(24 35.9 49.6)" fill="#2a44d6" opacity="0.17"/><ellipse cx="23.5" cy="60.3" rx="1.7" ry="2.7" transform="rotate(-32 23.5 60.3)" fill="#2a44d6" opacity="0.40"/><ellipse cx="80.0" cy="26.8" rx="1.6" ry="2.3" transform="rotate(32 80.0 26.8)" fill="#2a44d6" opacity="0.17"/><ellipse cx="41.1" cy="89.0" rx="1.2" ry="2.5" transform="rotate(-12 41.1 89.0)" fill="#2a44d6" opacity="0.13"/><ellipse cx="5.0" cy="47.2" rx="1.2" ry="3.3" transform="rotate(-10 5.0 47.2)" fill="#2a44d6" opacity="0.13"/><ellipse cx="87.5" cy="78.9" rx="1.5" ry="3.0" transform="rotate(-29 87.5 78.9)" fill="#2a44d6" opacity="0.21"/><ellipse cx="78.0" cy="65.4" rx="1.1" ry="2.9" transform="rotate(-4 78.0 65.4)" fill="#2a44d6" opacity="0.12"/><ellipse cx="7.4" cy="24.1" rx="1.7" ry="2.7" transform="rotate(18 7.4 24.1)" fill="#2a44d6" opacity="0.29"/><ellipse cx="10.5" cy="27.1" rx="1.2" ry="2.0" transform="rotate(-6 10.5 27.1)" fill="#2a44d6" opacity="0.38"/><ellipse cx="43.0" cy="10.4" rx="1.7" ry="2.7" transform="rotate(-39 43.0 10.4)" fill="#2a44d6" opacity="0.29"/><ellipse cx="22.7" cy="13.5" rx="1.3" ry="2.8" transform="rotate(-21 22.7 13.5)" fill="#2a44d6" opacity="0.26"/><ellipse cx="62.5" cy="8.0" rx="1.8" ry="2.0" transform="rotate(2 62.5 8.0)" fill="#2a44d6" opacity="0.29"/><ellipse cx="92.9" cy="52.1" rx="1.3" ry="2.6" transform="rotate(11 92.9 52.1)" fill="#2a44d6" opacity="0.44"/><ellipse cx="23.8" cy="1.5" rx="1.6" ry="2.4" transform="rotate(19 23.8 1.5)" fill="#2a44d6" opacity="0.33"/><ellipse cx="72.5" cy="69.1" rx="1.3" ry="2.0" transform="rotate(4 72.5 69.1)" fill="#2a44d6" opacity="0.39"/><ellipse cx="16.5" cy="73.2" rx="1.4" ry="2.9" transform="rotate(11 16.5 73.2)" fill="#2a44d6" opacity="0.39"/><ellipse cx="5.9" cy="73.0" rx="1.4" ry="2.3" transform="rotate(-36 5.9 73.0)" fill="#2a44d6" opacity="0.19"/><ellipse cx="3.9" cy="87.7" rx="1.4" ry="3.3" transform="rotate(3 3.9 87.7)" fill="#2a44d6" opacity="0.20"/><ellipse cx="70.8" cy="18.0" rx="1.3" ry="3.0" transform="rotate(29 70.8 18.0)" fill="#2a44d6" opacity="0.23"/><ellipse cx="11.7" cy="34.6" rx="1.7" ry="2.9" transform="rotate(32 11.7 34.6)" fill="#2a44d6" opacity="0.25"/><ellipse cx="91.5" cy="46.6" rx="1.4" ry="3.2" transform="rotate(2 91.5 46.6)" fill="#2a44d6" opacity="0.38"/><ellipse cx="68.3" cy="7.4" rx="1.5" ry="3.1" transform="rotate(4 68.3 7.4)" fill="#2a44d6" opacity="0.23"/><ellipse cx="7.5" cy="62.1" rx="1.2" ry="2.7" transform="rotate(-6 7.5 62.1)" fill="#2a44d6" opacity="0.35"/><ellipse cx="33.0" cy="4.0" rx="1.7" ry="2.4" transform="rotate(40 33.0 4.0)" fill="#2a44d6" opacity="0.21"/><ellipse cx="92.1" cy="89.1" rx="1.1" ry="2.8" transform="rotate(-11 92.1 89.1)" fill="#2a44d6" opacity="0.38"/><ellipse cx="63.9" cy="89.6" rx="1.1" ry="2.8" transform="rotate(23 63.9 89.6)" fill="#2a44d6" opacity="0.13"/><ellipse cx="6.3" cy="73.2" rx="1.3" ry="2.4" transform="rotate(5 6.3 73.2)" fill="#2a44d6" opacity="0.32"/><ellipse cx="63.8" cy="89.2" rx="1.3" ry="3.0" transform="rotate(6 63.8 89.2)" fill="#2a44d6" opacity="0.29"/><ellipse cx="37.4" cy="61.1" rx="1.2" ry="2.1" transform="rotate(19 37.4 61.1)" fill="#2a44d6" opacity="0.28"/><ellipse cx="36.4" cy="52.8" rx="1.2" ry="2.3" transform="rotate(-4 36.4 52.8)" fill="#2a44d6" opacity="0.45"/><ellipse cx="26.8" cy="86.1" rx="1.4" ry="2.1" transform="rotate(28 26.8 86.1)" fill="#2a44d6" opacity="0.27"/><ellipse cx="84.5" cy="41.8" rx="1.1" ry="2.9" transform="rotate(28 84.5 41.8)" fill="#2a44d6" opacity="0.23"/><ellipse cx="32.7" cy="6.1" rx="1.4" ry="3.1" transform="rotate(28 32.7 6.1)" fill="#2a44d6" opacity="0.35"/><ellipse cx="87.2" cy="59.9" rx="1.6" ry="2.6" transform="rotate(-30 87.2 59.9)" fill="#2a44d6" opacity="0.19"/><ellipse cx="13.1" cy="74.3" rx="1.0" ry="2.7" transform="rotate(-10 13.1 74.3)" fill="#2a44d6" opacity="0.39"/><ellipse cx="51.9" cy="57.5" rx="1.1" ry="2.3" transform="rotate(40 51.9 57.5)" fill="#2a44d6" opacity="0.36"/><ellipse cx="49.4" cy="72.3" rx="1.7" ry="2.0" transform="rotate(38 49.4 72.3)" fill="#2a44d6" opacity="0.33"/><ellipse cx="42.3" cy="63.9" rx="1.3" ry="3.1" transform="rotate(22 42.3 63.9)" fill="#2a44d6" opacity="0.33"/><ellipse cx="17.1" cy="90.8" rx="1.3" ry="3.2" transform="rotate(-36 17.1 90.8)" fill="#2a44d6" opacity="0.16"/><ellipse cx="14.4" cy="15.5" rx="1.3" ry="2.9" transform="rotate(-12 14.4 15.5)" fill="#2a44d6" opacity="0.43"/><ellipse cx="84.1" cy="79.5" rx="1.2" ry="2.8" transform="rotate(4 84.1 79.5)" fill="#2a44d6" opacity="0.16"/><ellipse cx="28.5" cy="50.1" rx="1.4" ry="2.1" transform="rotate(35 28.5 50.1)" fill="#2a44d6" opacity="0.17"/><ellipse cx="61.9" cy="67.7" rx="1.5" ry="3.1" transform="rotate(5 61.9 67.7)" fill="#2a44d6" opacity="0.39"/><ellipse cx="2.7" cy="4.3" rx="1.5" ry="2.7" transform="rotate(12 2.7 4.3)" fill="#2a44d6" opacity="0.37"/><ellipse cx="39.2" cy="60.1" rx="1.4" ry="2.8" transform="rotate(-17 39.2 60.1)" fill="#2a44d6" opacity="0.44"/><ellipse cx="45.4" cy="75.6" rx="1.5" ry="2.3" transform="rotate(-34 45.4 75.6)" fill="#2a44d6" opacity="0.14"/><ellipse cx="41.3" cy="45.5" rx="1.2" ry="2.7" transform="rotate(-15 41.3 45.5)" fill="#2a44d6" opacity="0.36"/><ellipse cx="69.0" cy="80.9" rx="1.8" ry="2.1" transform="rotate(-10 69.0 80.9)" fill="#2a44d6" opacity="0.31"/><ellipse cx="30.0" cy="43.8" rx="1.2" ry="2.2" transform="rotate(-32 30.0 43.8)" fill="#2a44d6" opacity="0.22"/><ellipse cx="36.1" cy="57.8" rx="1.2" ry="3.1" transform="rotate(-27 36.1 57.8)" fill="#2a44d6" opacity="0.23"/><ellipse cx="54.3" cy="29.4" rx="1.6" ry="2.6" transform="rotate(1 54.3 29.4)" fill="#2a44d6" opacity="0.28"/><ellipse cx="29.0" cy="2.2" rx="1.8" ry="2.6" transform="rotate(37 29.0 2.2)" fill="#2a44d6" opacity="0.19"/><ellipse cx="33.2" cy="4.8" rx="1.4" ry="3.1" transform="rotate(12 33.2 4.8)" fill="#2a44d6" opacity="0.28"/><ellipse cx="50.4" cy="79.6" rx="1.3" ry="3.1" transform="rotate(18 50.4 79.6)" fill="#2a44d6" opacity="0.37"/><ellipse cx="34.4" cy="37.7" rx="1.5" ry="2.2" transform="rotate(4 34.4 37.7)" fill="#2a44d6" opacity="0.14"/><ellipse cx="47.4" cy="71.9" rx="1.2" ry="3.3" transform="rotate(14 47.4 71.9)" fill="#2a44d6" opacity="0.16"/><ellipse cx="91.7" cy="37.0" rx="1.6" ry="2.4" transform="rotate(35 91.7 37.0)" fill="#2a44d6" opacity="0.37"/><ellipse cx="18.7" cy="47.9" rx="1.4" ry="2.0" transform="rotate(-29 18.7 47.9)" fill="#2a44d6" opacity="0.23"/><ellipse cx="44.5" cy="43.0" rx="1.5" ry="2.6" transform="rotate(-14 44.5 43.0)" fill="#2a44d6" opacity="0.32"/><ellipse cx="15.3" cy="93.1" rx="1.6" ry="2.3" transform="rotate(-13 15.3 93.1)" fill="#2a44d6" opacity="0.39"/><ellipse cx="50.0" cy="66.6" rx="1.2" ry="3.0" transform="rotate(-11 50.0 66.6)" fill="#2a44d6" opacity="0.34"/><ellipse cx="92.1" cy="54.9" rx="1.6" ry="2.9" transform="rotate(15 92.1 54.9)" fill="#2a44d6" opacity="0.13"/><ellipse cx="44.6" cy="90.9" rx="1.6" ry="3.0" transform="rotate(6 44.6 90.9)" fill="#2a44d6" opacity="0.36"/><ellipse cx="54.9" cy="16.0" rx="1.5" ry="2.8" transform="rotate(27 54.9 16.0)" fill="#2a44d6" opacity="0.17"/><ellipse cx="64.0" cy="3.0" rx="1.8" ry="2.1" transform="rotate(-38 64.0 3.0)" fill="#2a44d6" opacity="0.22"/><ellipse cx="14.2" cy="64.9" rx="1.3" ry="3.0" transform="rotate(34 14.2 64.9)" fill="#2a44d6" opacity="0.41"/><ellipse cx="69.2" cy="5.9" rx="1.1" ry="2.2" transform="rotate(-14 69.2 5.9)" fill="#2a44d6" opacity="0.34"/><ellipse cx="49.4" cy="29.5" rx="1.1" ry="3.2" transform="rotate(-13 49.4 29.5)" fill="#2a44d6" opacity="0.24"/><ellipse cx="72.6" cy="67.8" rx="1.5" ry="2.9" transform="rotate(9 72.6 67.8)" fill="#2a44d6" opacity="0.18"/><ellipse cx="23.2" cy="52.5" rx="1.2" ry="3.3" transform="rotate(-16 23.2 52.5)" fill="#2a44d6" opacity="0.22"/><ellipse cx="19.5" cy="66.3" rx="1.3" ry="2.4" transform="rotate(35 19.5 66.3)" fill="#2a44d6" opacity="0.38"/><ellipse cx="25.7" cy="11.5" rx="1.5" ry="2.4" transform="rotate(38 25.7 11.5)" fill="#2a44d6" opacity="0.39"/><ellipse cx="89.7" cy="75.6" rx="1.2" ry="2.3" transform="rotate(17 89.7 75.6)" fill="#2a44d6" opacity="0.23"/><ellipse cx="41.6" cy="24.1" rx="1.4" ry="2.2" transform="rotate(3 41.6 24.1)" fill="#2a44d6" opacity="0.43"/><ellipse cx="65.4" cy="12.9" rx="1.5" ry="2.7" transform="rotate(-21 65.4 12.9)" fill="#2a44d6" opacity="0.34"/></g>
<g filter="url(#bl05)"><ellipse cx="28.7" cy="39.3" rx="1.7" ry="1.9" fill="#e8f4f0"/><ellipse cx="7.6" cy="76.6" rx="1.5" ry="3" fill="#ff5a8a"/><ellipse cx="7.6" cy="77" rx="0.8" ry="1.6" fill="#fff"/><ellipse cx="44.5" cy="83.5" rx="1.7" ry="3" fill="#ff4a70"/><ellipse cx="44.5" cy="84" rx="0.9" ry="1.7" fill="#fff"/><ellipse cx="42.5" cy="7.5" rx="2" ry="1.2" fill="#ff5a8a" opacity="0.8"/></g>
<rect x="77.1" y="89.7" width="13.2" height="1.4" fill="#fff"/>
<text x="5.90" y="12.30" font-size="10.9" text-anchor="start" fill="#fff">Merged</text>
</g>
<g transform="translate(122.1 620.2)" clip-path="url(#ep)"><rect width="94.1" height="93.9" fill="#000"/>
<rect width="94.1" height="93.9" fill="#0b0b0b"/>
<g filter="url(#bl05)"><ellipse cx="60.1" cy="2.4" rx="1.2" ry="2.2" transform="rotate(19 60.1 2.4)" fill="#f4f4f4" opacity="0.92"/><ellipse cx="83.9" cy="8.2" rx="1.3" ry="1.9" transform="rotate(-23 83.9 8.2)" fill="#f4f4f4" opacity="0.88"/><ellipse cx="2.5" cy="18.7" rx="1.5" ry="2.7" transform="rotate(-22 2.5 18.7)" fill="#f4f4f4" opacity="0.90"/><ellipse cx="76.1" cy="0.6" rx="1.6" ry="2.9" transform="rotate(-13 76.1 0.6)" fill="#f4f4f4" opacity="0.79"/><ellipse cx="90.0" cy="31.6" rx="1.1" ry="2.0" transform="rotate(28 90.0 31.6)" fill="#f4f4f4" opacity="0.90"/><ellipse cx="75.9" cy="68.6" rx="1.4" ry="3.3" transform="rotate(-10 75.9 68.6)" fill="#f4f4f4" opacity="0.89"/><ellipse cx="78.0" cy="58.1" rx="1.7" ry="2.7" transform="rotate(16 78.0 58.1)" fill="#f4f4f4" opacity="0.76"/><ellipse cx="21.4" cy="27.2" rx="1.1" ry="2.2" transform="rotate(-32 21.4 27.2)" fill="#f4f4f4" opacity="0.82"/><ellipse cx="59.8" cy="34.3" rx="1.3" ry="2.2" transform="rotate(-19 59.8 34.3)" fill="#f4f4f4" opacity="0.98"/><ellipse cx="60.9" cy="57.3" rx="1.1" ry="2.9" transform="rotate(-27 60.9 57.3)" fill="#f4f4f4" opacity="0.84"/><ellipse cx="93.0" cy="60.2" rx="1.4" ry="2.9" transform="rotate(27 93.0 60.2)" fill="#f4f4f4" opacity="0.94"/><ellipse cx="21.5" cy="3.0" rx="1.3" ry="2.3" transform="rotate(-23 21.5 3.0)" fill="#f4f4f4" opacity="0.99"/><ellipse cx="82.4" cy="29.6" rx="1.5" ry="2.5" transform="rotate(33 82.4 29.6)" fill="#f4f4f4" opacity="0.86"/><ellipse cx="24.9" cy="23.2" rx="1.4" ry="2.3" transform="rotate(7 24.9 23.2)" fill="#f4f4f4" opacity="0.97"/><ellipse cx="37.5" cy="20.6" rx="1.8" ry="2.6" transform="rotate(-33 37.5 20.6)" fill="#f4f4f4" opacity="0.76"/><ellipse cx="10.3" cy="59.0" rx="1.6" ry="2.5" transform="rotate(-35 10.3 59.0)" fill="#f4f4f4" opacity="0.85"/><ellipse cx="93.6" cy="49.7" rx="1.8" ry="3.1" transform="rotate(-39 93.6 49.7)" fill="#f4f4f4" opacity="0.93"/><ellipse cx="64.1" cy="50.5" rx="1.2" ry="2.8" transform="rotate(-31 64.1 50.5)" fill="#f4f4f4" opacity="0.86"/><ellipse cx="42.7" cy="89.7" rx="1.7" ry="2.3" transform="rotate(0 42.7 89.7)" fill="#f4f4f4" opacity="0.79"/><ellipse cx="85.8" cy="81.8" rx="1.2" ry="2.8" transform="rotate(9 85.8 81.8)" fill="#f4f4f4" opacity="0.79"/><ellipse cx="71.7" cy="50.7" rx="1.6" ry="2.6" transform="rotate(-40 71.7 50.7)" fill="#f4f4f4" opacity="0.83"/><ellipse cx="1.8" cy="87.3" rx="1.7" ry="3.1" transform="rotate(-15 1.8 87.3)" fill="#f4f4f4" opacity="0.76"/><ellipse cx="82.5" cy="89.0" rx="1.1" ry="2.6" transform="rotate(-34 82.5 89.0)" fill="#f4f4f4" opacity="0.94"/><ellipse cx="72.0" cy="12.1" rx="1.4" ry="2.7" transform="rotate(-19 72.0 12.1)" fill="#f4f4f4" opacity="0.97"/><ellipse cx="39.8" cy="19.9" rx="1.4" ry="2.9" transform="rotate(-24 39.8 19.9)" fill="#f4f4f4" opacity="0.83"/><ellipse cx="93.5" cy="61.1" rx="1.4" ry="2.6" transform="rotate(-30 93.5 61.1)" fill="#f4f4f4" opacity="0.81"/><ellipse cx="31.8" cy="55.3" rx="1.2" ry="2.2" transform="rotate(-34 31.8 55.3)" fill="#f4f4f4" opacity="0.91"/><ellipse cx="21.5" cy="85.1" rx="1.7" ry="2.0" transform="rotate(-21 21.5 85.1)" fill="#f4f4f4" opacity="0.92"/><ellipse cx="20.1" cy="12.4" rx="1.7" ry="2.7" transform="rotate(-2 20.1 12.4)" fill="#f4f4f4" opacity="0.95"/><ellipse cx="75.9" cy="17.9" rx="1.1" ry="2.5" transform="rotate(-6 75.9 17.9)" fill="#f4f4f4" opacity="0.87"/><ellipse cx="68.5" cy="63.3" rx="1.8" ry="2.0" transform="rotate(-8 68.5 63.3)" fill="#f4f4f4" opacity="0.83"/><ellipse cx="81.0" cy="23.4" rx="1.2" ry="2.5" transform="rotate(-6 81.0 23.4)" fill="#f4f4f4" opacity="0.82"/><ellipse cx="23.5" cy="86.8" rx="1.4" ry="3.1" transform="rotate(4 23.5 86.8)" fill="#f4f4f4" opacity="0.76"/><ellipse cx="93.9" cy="78.6" rx="1.8" ry="3.2" transform="rotate(28 93.9 78.6)" fill="#f4f4f4" opacity="0.79"/><ellipse cx="45.7" cy="20.1" rx="1.3" ry="2.0" transform="rotate(-10 45.7 20.1)" fill="#f4f4f4" opacity="1.00"/><ellipse cx="24.9" cy="73.7" rx="1.4" ry="2.5" transform="rotate(37 24.9 73.7)" fill="#f4f4f4" opacity="1.00"/><ellipse cx="52.2" cy="67.5" rx="1.1" ry="2.3" transform="rotate(37 52.2 67.5)" fill="#f4f4f4" opacity="0.89"/><ellipse cx="51.0" cy="70.3" rx="1.0" ry="2.7" transform="rotate(0 51.0 70.3)" fill="#f4f4f4" opacity="0.96"/><ellipse cx="14.8" cy="90.3" rx="1.1" ry="2.2" transform="rotate(8 14.8 90.3)" fill="#f4f4f4" opacity="0.92"/><ellipse cx="22.1" cy="11.3" rx="1.7" ry="2.2" transform="rotate(8 22.1 11.3)" fill="#f4f4f4" opacity="0.90"/><ellipse cx="39.4" cy="54.9" rx="1.4" ry="3.2" transform="rotate(-24 39.4 54.9)" fill="#f4f4f4" opacity="0.93"/><ellipse cx="22.4" cy="37.2" rx="1.5" ry="2.3" transform="rotate(-15 22.4 37.2)" fill="#f4f4f4" opacity="0.94"/><ellipse cx="6.8" cy="43.1" rx="1.8" ry="3.3" transform="rotate(-34 6.8 43.1)" fill="#f4f4f4" opacity="0.80"/><ellipse cx="24.9" cy="87.7" rx="1.7" ry="3.1" transform="rotate(-10 24.9 87.7)" fill="#f4f4f4" opacity="0.79"/><ellipse cx="78.4" cy="66.1" rx="1.5" ry="3.3" transform="rotate(12 78.4 66.1)" fill="#f4f4f4" opacity="0.75"/><ellipse cx="76.8" cy="28.1" rx="1.5" ry="3.2" transform="rotate(-29 76.8 28.1)" fill="#f4f4f4" opacity="0.78"/><ellipse cx="10.1" cy="52.0" rx="1.2" ry="2.7" transform="rotate(17 10.1 52.0)" fill="#f4f4f4" opacity="0.80"/><ellipse cx="59.6" cy="24.8" rx="1.4" ry="3.2" transform="rotate(28 59.6 24.8)" fill="#f4f4f4" opacity="0.77"/><ellipse cx="39.8" cy="26.0" rx="1.0" ry="3.0" transform="rotate(11 39.8 26.0)" fill="#f4f4f4" opacity="0.82"/><ellipse cx="69.7" cy="51.9" rx="1.3" ry="1.9" transform="rotate(-34 69.7 51.9)" fill="#f4f4f4" opacity="0.97"/><ellipse cx="85.0" cy="51.3" rx="1.7" ry="2.7" transform="rotate(-28 85.0 51.3)" fill="#f4f4f4" opacity="0.78"/><ellipse cx="29.0" cy="84.5" rx="1.6" ry="3.1" transform="rotate(32 29.0 84.5)" fill="#f4f4f4" opacity="0.80"/><ellipse cx="23.5" cy="9.7" rx="1.6" ry="3.1" transform="rotate(-7 23.5 9.7)" fill="#f4f4f4" opacity="0.91"/><ellipse cx="14.5" cy="87.4" rx="1.7" ry="3.3" transform="rotate(25 14.5 87.4)" fill="#f4f4f4" opacity="0.97"/><ellipse cx="2.3" cy="69.2" rx="1.3" ry="3.2" transform="rotate(24 2.3 69.2)" fill="#f4f4f4" opacity="0.97"/><ellipse cx="76.2" cy="25.1" rx="1.6" ry="2.1" transform="rotate(30 76.2 25.1)" fill="#f4f4f4" opacity="0.96"/><ellipse cx="20.9" cy="76.8" rx="1.4" ry="2.3" transform="rotate(24 20.9 76.8)" fill="#f4f4f4" opacity="0.81"/><ellipse cx="2.2" cy="18.2" rx="1.3" ry="3.1" transform="rotate(37 2.2 18.2)" fill="#f4f4f4" opacity="0.82"/><ellipse cx="60.3" cy="37.6" rx="1.8" ry="2.7" transform="rotate(35 60.3 37.6)" fill="#f4f4f4" opacity="0.78"/><ellipse cx="91.2" cy="16.8" rx="1.8" ry="2.3" transform="rotate(-31 91.2 16.8)" fill="#f4f4f4" opacity="0.86"/><ellipse cx="68.5" cy="29.5" rx="1.5" ry="2.6" transform="rotate(-9 68.5 29.5)" fill="#f4f4f4" opacity="0.89"/><ellipse cx="23.9" cy="66.6" rx="1.0" ry="3.2" transform="rotate(3 23.9 66.6)" fill="#f4f4f4" opacity="0.93"/><ellipse cx="69.7" cy="63.0" rx="1.3" ry="2.0" transform="rotate(13 69.7 63.0)" fill="#f4f4f4" opacity="0.83"/><ellipse cx="29.5" cy="79.7" rx="1.6" ry="2.3" transform="rotate(-15 29.5 79.7)" fill="#f4f4f4" opacity="0.85"/><ellipse cx="37.8" cy="27.8" rx="1.1" ry="2.5" transform="rotate(35 37.8 27.8)" fill="#f4f4f4" opacity="0.92"/><ellipse cx="84.9" cy="57.9" rx="1.2" ry="2.7" transform="rotate(-40 84.9 57.9)" fill="#f4f4f4" opacity="0.82"/><ellipse cx="40.4" cy="54.5" rx="1.5" ry="2.6" transform="rotate(-5 40.4 54.5)" fill="#f4f4f4" opacity="0.80"/><ellipse cx="44.5" cy="84.7" rx="1.6" ry="2.1" transform="rotate(-33 44.5 84.7)" fill="#f4f4f4" opacity="0.88"/><ellipse cx="59.5" cy="31.5" rx="1.7" ry="3.0" transform="rotate(14 59.5 31.5)" fill="#f4f4f4" opacity="0.81"/><ellipse cx="18.7" cy="2.3" rx="1.2" ry="2.6" transform="rotate(28 18.7 2.3)" fill="#f4f4f4" opacity="0.77"/><ellipse cx="39.0" cy="59.2" rx="1.2" ry="2.9" transform="rotate(-0 39.0 59.2)" fill="#f4f4f4" opacity="0.81"/><ellipse cx="61.7" cy="0.5" rx="1.6" ry="3.0" transform="rotate(-31 61.7 0.5)" fill="#f4f4f4" opacity="0.86"/><ellipse cx="16.5" cy="90.0" rx="1.4" ry="2.0" transform="rotate(-20 16.5 90.0)" fill="#f4f4f4" opacity="0.96"/><ellipse cx="42.9" cy="75.3" rx="1.5" ry="3.3" transform="rotate(8 42.9 75.3)" fill="#f4f4f4" opacity="0.99"/><ellipse cx="83.8" cy="57.6" rx="1.6" ry="2.6" transform="rotate(26 83.8 57.6)" fill="#f4f4f4" opacity="0.89"/><ellipse cx="84.3" cy="69.9" rx="1.4" ry="2.3" transform="rotate(-20 84.3 69.9)" fill="#f4f4f4" opacity="0.91"/><ellipse cx="72.0" cy="49.0" rx="1.5" ry="2.3" transform="rotate(-34 72.0 49.0)" fill="#f4f4f4" opacity="0.82"/><ellipse cx="25.5" cy="30.1" rx="1.4" ry="2.1" transform="rotate(-21 25.5 30.1)" fill="#f4f4f4" opacity="0.92"/><ellipse cx="66.4" cy="6.0" rx="1.3" ry="2.7" transform="rotate(-7 66.4 6.0)" fill="#f4f4f4" opacity="0.80"/><ellipse cx="39.5" cy="85.1" rx="1.5" ry="2.9" transform="rotate(29 39.5 85.1)" fill="#f4f4f4" opacity="0.94"/><ellipse cx="35.8" cy="0.6" rx="1.3" ry="3.0" transform="rotate(28 35.8 0.6)" fill="#f4f4f4" opacity="0.99"/><ellipse cx="39.4" cy="70.3" rx="1.4" ry="2.7" transform="rotate(-22 39.4 70.3)" fill="#f4f4f4" opacity="0.80"/><ellipse cx="41.0" cy="2.7" rx="1.3" ry="2.9" transform="rotate(-8 41.0 2.7)" fill="#f4f4f4" opacity="0.79"/><ellipse cx="43.9" cy="12.0" rx="1.5" ry="1.9" transform="rotate(-8 43.9 12.0)" fill="#f4f4f4" opacity="0.89"/><ellipse cx="2.5" cy="60.4" rx="1.1" ry="2.5" transform="rotate(-36 2.5 60.4)" fill="#f4f4f4" opacity="0.84"/><ellipse cx="19.9" cy="30.7" rx="1.6" ry="2.4" transform="rotate(20 19.9 30.7)" fill="#f4f4f4" opacity="0.96"/><ellipse cx="23.7" cy="7.7" rx="1.0" ry="2.7" transform="rotate(40 23.7 7.7)" fill="#f4f4f4" opacity="0.84"/><ellipse cx="61.1" cy="73.4" rx="1.5" ry="3.0" transform="rotate(36 61.1 73.4)" fill="#f4f4f4" opacity="0.80"/><ellipse cx="1.9" cy="14.3" rx="1.1" ry="2.8" transform="rotate(5 1.9 14.3)" fill="#f4f4f4" opacity="0.80"/><ellipse cx="65.7" cy="72.1" rx="1.1" ry="2.8" transform="rotate(20 65.7 72.1)" fill="#f4f4f4" opacity="0.78"/><ellipse cx="77.0" cy="90.7" rx="1.1" ry="1.9" transform="rotate(-15 77.0 90.7)" fill="#f4f4f4" opacity="0.92"/><ellipse cx="90.1" cy="37.3" rx="1.6" ry="2.0" transform="rotate(15 90.1 37.3)" fill="#f4f4f4" opacity="0.91"/><ellipse cx="9.6" cy="72.6" rx="1.7" ry="2.7" transform="rotate(-30 9.6 72.6)" fill="#f4f4f4" opacity="1.00"/><ellipse cx="73.6" cy="32.6" rx="1.3" ry="2.4" transform="rotate(0 73.6 32.6)" fill="#f4f4f4" opacity="0.84"/><ellipse cx="79.9" cy="77.3" rx="1.1" ry="3.2" transform="rotate(11 79.9 77.3)" fill="#f4f4f4" opacity="0.96"/><ellipse cx="66.5" cy="40.9" rx="1.6" ry="3.3" transform="rotate(-18 66.5 40.9)" fill="#f4f4f4" opacity="0.95"/><ellipse cx="50.6" cy="45.4" rx="1.3" ry="2.9" transform="rotate(-19 50.6 45.4)" fill="#f4f4f4" opacity="0.96"/><ellipse cx="78.1" cy="8.1" rx="1.7" ry="2.2" transform="rotate(-3 78.1 8.1)" fill="#f4f4f4" opacity="0.90"/><ellipse cx="35.6" cy="2.7" rx="1.7" ry="2.2" transform="rotate(-23 35.6 2.7)" fill="#f4f4f4" opacity="0.95"/><ellipse cx="32.0" cy="82.8" rx="1.6" ry="2.3" transform="rotate(-39 32.0 82.8)" fill="#f4f4f4" opacity="0.99"/><ellipse cx="8.0" cy="67.7" rx="1.4" ry="3.0" transform="rotate(15 8.0 67.7)" fill="#f4f4f4" opacity="0.91"/><ellipse cx="46.1" cy="74.5" rx="1.1" ry="2.2" transform="rotate(15 46.1 74.5)" fill="#f4f4f4" opacity="0.83"/><ellipse cx="54.7" cy="44.5" rx="1.4" ry="2.5" transform="rotate(20 54.7 44.5)" fill="#f4f4f4" opacity="0.83"/><ellipse cx="66.1" cy="25.5" rx="1.2" ry="2.1" transform="rotate(-25 66.1 25.5)" fill="#f4f4f4" opacity="0.78"/><ellipse cx="50.4" cy="71.6" rx="1.1" ry="2.2" transform="rotate(-1 50.4 71.6)" fill="#f4f4f4" opacity="0.93"/><ellipse cx="91.8" cy="49.3" rx="1.2" ry="2.0" transform="rotate(-24 91.8 49.3)" fill="#f4f4f4" opacity="0.81"/><ellipse cx="16.9" cy="1.3" rx="1.4" ry="2.3" transform="rotate(38 16.9 1.3)" fill="#f4f4f4" opacity="0.89"/><ellipse cx="65.6" cy="11.9" rx="1.7" ry="2.6" transform="rotate(30 65.6 11.9)" fill="#f4f4f4" opacity="0.89"/><ellipse cx="44.1" cy="41.4" rx="1.1" ry="2.0" transform="rotate(35 44.1 41.4)" fill="#f4f4f4" opacity="0.87"/><ellipse cx="77.3" cy="37.7" rx="1.1" ry="2.8" transform="rotate(-36 77.3 37.7)" fill="#f4f4f4" opacity="0.79"/><ellipse cx="52.9" cy="28.6" rx="1.8" ry="2.1" transform="rotate(21 52.9 28.6)" fill="#f4f4f4" opacity="0.90"/><ellipse cx="74.3" cy="21.2" rx="1.4" ry="2.5" transform="rotate(-5 74.3 21.2)" fill="#f4f4f4" opacity="0.97"/><ellipse cx="93.1" cy="28.7" rx="1.5" ry="2.8" transform="rotate(19 93.1 28.7)" fill="#f4f4f4" opacity="0.99"/><ellipse cx="19.5" cy="19.8" rx="1.5" ry="2.1" transform="rotate(-26 19.5 19.8)" fill="#f4f4f4" opacity="0.77"/><ellipse cx="0.3" cy="42.3" rx="1.5" ry="2.3" transform="rotate(-21 0.3 42.3)" fill="#f4f4f4" opacity="0.93"/><ellipse cx="66.1" cy="42.7" rx="1.5" ry="3.2" transform="rotate(23 66.1 42.7)" fill="#f4f4f4" opacity="0.91"/><ellipse cx="62.2" cy="87.8" rx="1.3" ry="2.7" transform="rotate(12 62.2 87.8)" fill="#f4f4f4" opacity="0.98"/><ellipse cx="77.7" cy="6.7" rx="1.1" ry="2.3" transform="rotate(20 77.7 6.7)" fill="#f4f4f4" opacity="0.89"/><ellipse cx="27.1" cy="11.7" rx="1.6" ry="2.9" transform="rotate(35 27.1 11.7)" fill="#f4f4f4" opacity="0.88"/><ellipse cx="46.4" cy="7.6" rx="1.0" ry="2.5" transform="rotate(-14 46.4 7.6)" fill="#f4f4f4" opacity="0.81"/><ellipse cx="8.6" cy="90.4" rx="1.7" ry="2.7" transform="rotate(36 8.6 90.4)" fill="#f4f4f4" opacity="1.00"/><ellipse cx="63.2" cy="25.3" rx="1.0" ry="3.0" transform="rotate(-2 63.2 25.3)" fill="#f4f4f4" opacity="0.91"/><ellipse cx="86.1" cy="17.1" rx="1.5" ry="2.8" transform="rotate(-1 86.1 17.1)" fill="#f4f4f4" opacity="0.77"/><ellipse cx="32.7" cy="31.3" rx="1.5" ry="3.1" transform="rotate(-14 32.7 31.3)" fill="#f4f4f4" opacity="0.92"/><ellipse cx="27.1" cy="88.8" rx="1.7" ry="2.7" transform="rotate(-4 27.1 88.8)" fill="#f4f4f4" opacity="0.83"/><ellipse cx="30.4" cy="91.2" rx="1.3" ry="2.6" transform="rotate(39 30.4 91.2)" fill="#f4f4f4" opacity="0.91"/><ellipse cx="51.0" cy="38.8" rx="1.2" ry="2.4" transform="rotate(21 51.0 38.8)" fill="#f4f4f4" opacity="0.91"/><ellipse cx="71.4" cy="19.1" rx="1.4" ry="3.2" transform="rotate(-5 71.4 19.1)" fill="#f4f4f4" opacity="0.92"/><ellipse cx="11.4" cy="91.5" rx="1.5" ry="2.2" transform="rotate(-27 11.4 91.5)" fill="#f4f4f4" opacity="0.89"/><ellipse cx="51.9" cy="8.8" rx="1.8" ry="3.2" transform="rotate(-3 51.9 8.8)" fill="#f4f4f4" opacity="0.78"/><ellipse cx="78.2" cy="46.8" rx="1.6" ry="2.6" transform="rotate(-18 78.2 46.8)" fill="#f4f4f4" opacity="0.96"/><ellipse cx="92.1" cy="22.9" rx="1.4" ry="2.4" transform="rotate(34 92.1 22.9)" fill="#f4f4f4" opacity="0.88"/><ellipse cx="82.7" cy="81.2" rx="1.2" ry="3.0" transform="rotate(-7 82.7 81.2)" fill="#f4f4f4" opacity="0.98"/><ellipse cx="47.7" cy="77.1" rx="1.2" ry="2.3" transform="rotate(7 47.7 77.1)" fill="#f4f4f4" opacity="1.00"/><ellipse cx="46.0" cy="14.0" rx="1.4" ry="2.4" transform="rotate(4 46.0 14.0)" fill="#f4f4f4" opacity="0.89"/><ellipse cx="42.8" cy="30.2" rx="1.2" ry="2.9" transform="rotate(6 42.8 30.2)" fill="#f4f4f4" opacity="0.81"/><ellipse cx="72.9" cy="4.1" rx="1.6" ry="2.9" transform="rotate(25 72.9 4.1)" fill="#f4f4f4" opacity="0.85"/><ellipse cx="62.4" cy="77.2" rx="1.8" ry="2.6" transform="rotate(-37 62.4 77.2)" fill="#f4f4f4" opacity="0.88"/><ellipse cx="55.5" cy="81.8" rx="1.7" ry="2.5" transform="rotate(2 55.5 81.8)" fill="#f4f4f4" opacity="0.86"/><ellipse cx="67.9" cy="38.5" rx="1.5" ry="2.1" transform="rotate(-2 67.9 38.5)" fill="#f4f4f4" opacity="0.99"/><ellipse cx="31.8" cy="65.1" rx="1.5" ry="3.1" transform="rotate(28 31.8 65.1)" fill="#f4f4f4" opacity="0.96"/><ellipse cx="35.7" cy="29.8" rx="1.6" ry="3.0" transform="rotate(30 35.7 29.8)" fill="#f4f4f4" opacity="0.76"/><ellipse cx="6.4" cy="59.3" rx="1.7" ry="3.3" transform="rotate(20 6.4 59.3)" fill="#f4f4f4" opacity="0.86"/><ellipse cx="9.3" cy="59.6" rx="1.7" ry="2.5" transform="rotate(16 9.3 59.6)" fill="#f4f4f4" opacity="0.98"/><ellipse cx="4.3" cy="74.8" rx="1.2" ry="2.4" transform="rotate(-28 4.3 74.8)" fill="#f4f4f4" opacity="0.88"/><ellipse cx="53.2" cy="74.5" rx="1.1" ry="2.0" transform="rotate(30 53.2 74.5)" fill="#f4f4f4" opacity="0.90"/><ellipse cx="22.6" cy="85.8" rx="1.1" ry="2.5" transform="rotate(-20 22.6 85.8)" fill="#f4f4f4" opacity="0.81"/><ellipse cx="0.9" cy="75.6" rx="1.7" ry="2.8" transform="rotate(-27 0.9 75.6)" fill="#f4f4f4" opacity="0.86"/><ellipse cx="32.5" cy="55.2" rx="1.5" ry="2.5" transform="rotate(-20 32.5 55.2)" fill="#f4f4f4" opacity="0.96"/><ellipse cx="18.7" cy="36.2" rx="1.4" ry="2.2" transform="rotate(6 18.7 36.2)" fill="#f4f4f4" opacity="0.89"/><ellipse cx="93.3" cy="27.8" rx="1.8" ry="2.8" transform="rotate(-18 93.3 27.8)" fill="#f4f4f4" opacity="0.31"/><ellipse cx="64.5" cy="70.0" rx="1.0" ry="2.7" transform="rotate(-0 64.5 70.0)" fill="#f4f4f4" opacity="0.42"/><ellipse cx="26.9" cy="75.1" rx="1.5" ry="2.4" transform="rotate(11 26.9 75.1)" fill="#f4f4f4" opacity="0.32"/><ellipse cx="63.7" cy="67.8" rx="1.5" ry="3.1" transform="rotate(10 63.7 67.8)" fill="#f4f4f4" opacity="0.42"/><ellipse cx="60.8" cy="29.0" rx="1.4" ry="2.7" transform="rotate(19 60.8 29.0)" fill="#f4f4f4" opacity="0.15"/><ellipse cx="27.7" cy="70.3" rx="1.1" ry="2.1" transform="rotate(3 27.7 70.3)" fill="#f4f4f4" opacity="0.44"/><ellipse cx="49.9" cy="85.9" rx="1.7" ry="2.3" transform="rotate(26 49.9 85.9)" fill="#f4f4f4" opacity="0.28"/><ellipse cx="75.8" cy="70.2" rx="1.3" ry="2.1" transform="rotate(37 75.8 70.2)" fill="#f4f4f4" opacity="0.17"/><ellipse cx="90.9" cy="80.9" rx="1.6" ry="3.3" transform="rotate(37 90.9 80.9)" fill="#f4f4f4" opacity="0.39"/><ellipse cx="34.4" cy="74.3" rx="1.0" ry="2.7" transform="rotate(-4 34.4 74.3)" fill="#f4f4f4" opacity="0.34"/><ellipse cx="63.2" cy="54.9" rx="1.7" ry="3.2" transform="rotate(-31 63.2 54.9)" fill="#f4f4f4" opacity="0.20"/><ellipse cx="2.4" cy="83.1" rx="1.4" ry="3.2" transform="rotate(-22 2.4 83.1)" fill="#f4f4f4" opacity="0.14"/><ellipse cx="77.4" cy="85.5" rx="1.2" ry="2.5" transform="rotate(-29 77.4 85.5)" fill="#f4f4f4" opacity="0.43"/><ellipse cx="28.6" cy="46.3" rx="1.1" ry="3.1" transform="rotate(-29 28.6 46.3)" fill="#f4f4f4" opacity="0.27"/><ellipse cx="63.0" cy="69.9" rx="1.8" ry="2.5" transform="rotate(19 63.0 69.9)" fill="#f4f4f4" opacity="0.17"/><ellipse cx="39.0" cy="9.3" rx="1.4" ry="2.5" transform="rotate(36 39.0 9.3)" fill="#f4f4f4" opacity="0.13"/><ellipse cx="34.8" cy="41.7" rx="1.8" ry="3.1" transform="rotate(-32 34.8 41.7)" fill="#f4f4f4" opacity="0.35"/><ellipse cx="51.2" cy="91.9" rx="1.3" ry="2.5" transform="rotate(-25 51.2 91.9)" fill="#f4f4f4" opacity="0.16"/><ellipse cx="79.7" cy="42.7" rx="1.5" ry="2.8" transform="rotate(8 79.7 42.7)" fill="#f4f4f4" opacity="0.13"/><ellipse cx="74.0" cy="22.9" rx="1.1" ry="2.7" transform="rotate(-35 74.0 22.9)" fill="#f4f4f4" opacity="0.37"/><ellipse cx="19.5" cy="20.3" rx="1.7" ry="2.4" transform="rotate(-28 19.5 20.3)" fill="#f4f4f4" opacity="0.42"/><ellipse cx="0.3" cy="80.7" rx="1.1" ry="2.1" transform="rotate(-20 0.3 80.7)" fill="#f4f4f4" opacity="0.18"/><ellipse cx="62.1" cy="2.4" rx="1.0" ry="3.0" transform="rotate(-21 62.1 2.4)" fill="#f4f4f4" opacity="0.23"/><ellipse cx="16.4" cy="4.9" rx="1.6" ry="2.6" transform="rotate(20 16.4 4.9)" fill="#f4f4f4" opacity="0.28"/><ellipse cx="73.1" cy="48.2" rx="1.1" ry="2.6" transform="rotate(36 73.1 48.2)" fill="#f4f4f4" opacity="0.13"/><ellipse cx="73.6" cy="81.5" rx="1.4" ry="2.5" transform="rotate(37 73.6 81.5)" fill="#f4f4f4" opacity="0.14"/><ellipse cx="45.0" cy="37.8" rx="1.5" ry="2.6" transform="rotate(33 45.0 37.8)" fill="#f4f4f4" opacity="0.14"/><ellipse cx="7.6" cy="57.2" rx="1.1" ry="2.3" transform="rotate(11 7.6 57.2)" fill="#f4f4f4" opacity="0.30"/><ellipse cx="30.6" cy="93.5" rx="1.4" ry="2.5" transform="rotate(8 30.6 93.5)" fill="#f4f4f4" opacity="0.15"/><ellipse cx="66.0" cy="80.2" rx="1.5" ry="3.0" transform="rotate(18 66.0 80.2)" fill="#f4f4f4" opacity="0.19"/><ellipse cx="42.4" cy="21.5" rx="1.3" ry="2.5" transform="rotate(-7 42.4 21.5)" fill="#f4f4f4" opacity="0.15"/><ellipse cx="40.1" cy="62.5" rx="1.3" ry="2.1" transform="rotate(34 40.1 62.5)" fill="#f4f4f4" opacity="0.14"/><ellipse cx="78.2" cy="8.8" rx="1.1" ry="2.9" transform="rotate(25 78.2 8.8)" fill="#f4f4f4" opacity="0.30"/><ellipse cx="55.1" cy="52.8" rx="1.3" ry="2.1" transform="rotate(-12 55.1 52.8)" fill="#f4f4f4" opacity="0.34"/><ellipse cx="70.5" cy="81.6" rx="1.6" ry="3.3" transform="rotate(8 70.5 81.6)" fill="#f4f4f4" opacity="0.24"/><ellipse cx="54.3" cy="20.0" rx="1.5" ry="2.2" transform="rotate(-31 54.3 20.0)" fill="#f4f4f4" opacity="0.40"/><ellipse cx="34.6" cy="71.7" rx="1.5" ry="3.0" transform="rotate(28 34.6 71.7)" fill="#f4f4f4" opacity="0.44"/><ellipse cx="76.9" cy="57.7" rx="1.5" ry="1.9" transform="rotate(34 76.9 57.7)" fill="#f4f4f4" opacity="0.39"/><ellipse cx="25.1" cy="17.0" rx="1.6" ry="2.3" transform="rotate(-13 25.1 17.0)" fill="#f4f4f4" opacity="0.12"/><ellipse cx="81.8" cy="53.2" rx="1.3" ry="2.1" transform="rotate(11 81.8 53.2)" fill="#f4f4f4" opacity="0.13"/><ellipse cx="70.1" cy="20.2" rx="1.3" ry="2.4" transform="rotate(-10 70.1 20.2)" fill="#f4f4f4" opacity="0.36"/><ellipse cx="73.0" cy="53.4" rx="1.1" ry="2.0" transform="rotate(-27 73.0 53.4)" fill="#f4f4f4" opacity="0.32"/><ellipse cx="63.4" cy="25.6" rx="1.5" ry="2.6" transform="rotate(-5 63.4 25.6)" fill="#f4f4f4" opacity="0.21"/><ellipse cx="71.0" cy="10.7" rx="1.3" ry="2.3" transform="rotate(14 71.0 10.7)" fill="#f4f4f4" opacity="0.28"/><ellipse cx="62.7" cy="4.3" rx="1.3" ry="2.7" transform="rotate(-39 62.7 4.3)" fill="#f4f4f4" opacity="0.22"/><ellipse cx="19.9" cy="12.9" rx="1.2" ry="2.4" transform="rotate(-39 19.9 12.9)" fill="#f4f4f4" opacity="0.37"/><ellipse cx="16.5" cy="35.7" rx="1.6" ry="2.6" transform="rotate(27 16.5 35.7)" fill="#f4f4f4" opacity="0.39"/><ellipse cx="6.8" cy="81.0" rx="1.0" ry="1.9" transform="rotate(34 6.8 81.0)" fill="#f4f4f4" opacity="0.40"/><ellipse cx="54.1" cy="53.9" rx="1.6" ry="2.5" transform="rotate(-31 54.1 53.9)" fill="#f4f4f4" opacity="0.13"/><ellipse cx="30.5" cy="75.3" rx="1.5" ry="3.1" transform="rotate(34 30.5 75.3)" fill="#f4f4f4" opacity="0.15"/><ellipse cx="79.4" cy="22.9" rx="1.5" ry="2.6" transform="rotate(-8 79.4 22.9)" fill="#f4f4f4" opacity="0.22"/><ellipse cx="31.9" cy="31.3" rx="1.1" ry="2.6" transform="rotate(-31 31.9 31.3)" fill="#f4f4f4" opacity="0.29"/><ellipse cx="85.2" cy="32.8" rx="1.6" ry="3.0" transform="rotate(25 85.2 32.8)" fill="#f4f4f4" opacity="0.20"/><ellipse cx="13.8" cy="18.5" rx="1.5" ry="3.0" transform="rotate(12 13.8 18.5)" fill="#f4f4f4" opacity="0.18"/><ellipse cx="72.6" cy="46.4" rx="1.6" ry="3.0" transform="rotate(-4 72.6 46.4)" fill="#f4f4f4" opacity="0.42"/><ellipse cx="53.1" cy="59.7" rx="1.5" ry="3.1" transform="rotate(10 53.1 59.7)" fill="#f4f4f4" opacity="0.17"/><ellipse cx="6.4" cy="41.6" rx="1.2" ry="2.3" transform="rotate(-36 6.4 41.6)" fill="#f4f4f4" opacity="0.29"/><ellipse cx="29.2" cy="42.5" rx="1.0" ry="3.1" transform="rotate(-34 29.2 42.5)" fill="#f4f4f4" opacity="0.41"/><ellipse cx="80.4" cy="57.8" rx="1.4" ry="2.5" transform="rotate(4 80.4 57.8)" fill="#f4f4f4" opacity="0.38"/><ellipse cx="84.2" cy="42.3" rx="1.6" ry="2.8" transform="rotate(-14 84.2 42.3)" fill="#f4f4f4" opacity="0.28"/><ellipse cx="14.2" cy="5.8" rx="1.1" ry="3.2" transform="rotate(-13 14.2 5.8)" fill="#f4f4f4" opacity="0.36"/><ellipse cx="47.4" cy="16.2" rx="1.2" ry="2.5" transform="rotate(-5 47.4 16.2)" fill="#f4f4f4" opacity="0.29"/><ellipse cx="14.9" cy="35.0" rx="1.2" ry="2.5" transform="rotate(-13 14.9 35.0)" fill="#f4f4f4" opacity="0.32"/><ellipse cx="74.2" cy="60.8" rx="1.1" ry="2.0" transform="rotate(14 74.2 60.8)" fill="#f4f4f4" opacity="0.21"/><ellipse cx="68.0" cy="61.7" rx="1.7" ry="3.1" transform="rotate(-13 68.0 61.7)" fill="#f4f4f4" opacity="0.31"/><ellipse cx="13.3" cy="32.9" rx="1.8" ry="2.9" transform="rotate(-9 13.3 32.9)" fill="#f4f4f4" opacity="0.32"/><ellipse cx="88.2" cy="29.1" rx="1.3" ry="3.0" transform="rotate(25 88.2 29.1)" fill="#f4f4f4" opacity="0.34"/><ellipse cx="77.9" cy="69.4" rx="1.5" ry="2.6" transform="rotate(12 77.9 69.4)" fill="#f4f4f4" opacity="0.26"/><ellipse cx="34.0" cy="34.1" rx="1.1" ry="2.2" transform="rotate(36 34.0 34.1)" fill="#f4f4f4" opacity="0.28"/><ellipse cx="21.3" cy="12.9" rx="1.1" ry="3.1" transform="rotate(-32 21.3 12.9)" fill="#f4f4f4" opacity="0.37"/><ellipse cx="78.5" cy="83.1" rx="1.0" ry="2.4" transform="rotate(21 78.5 83.1)" fill="#f4f4f4" opacity="0.16"/><ellipse cx="35.4" cy="15.3" rx="1.7" ry="3.0" transform="rotate(25 35.4 15.3)" fill="#f4f4f4" opacity="0.17"/><ellipse cx="41.1" cy="38.6" rx="1.5" ry="2.2" transform="rotate(-4 41.1 38.6)" fill="#f4f4f4" opacity="0.21"/><ellipse cx="70.4" cy="42.2" rx="1.4" ry="2.3" transform="rotate(25 70.4 42.2)" fill="#f4f4f4" opacity="0.27"/><ellipse cx="78.5" cy="34.6" rx="1.8" ry="3.3" transform="rotate(-3 78.5 34.6)" fill="#f4f4f4" opacity="0.21"/><ellipse cx="35.9" cy="49.6" rx="1.8" ry="3.0" transform="rotate(24 35.9 49.6)" fill="#f4f4f4" opacity="0.17"/><ellipse cx="23.5" cy="60.3" rx="1.7" ry="2.7" transform="rotate(-32 23.5 60.3)" fill="#f4f4f4" opacity="0.40"/><ellipse cx="80.0" cy="26.8" rx="1.6" ry="2.3" transform="rotate(32 80.0 26.8)" fill="#f4f4f4" opacity="0.17"/><ellipse cx="41.1" cy="89.0" rx="1.2" ry="2.5" transform="rotate(-12 41.1 89.0)" fill="#f4f4f4" opacity="0.13"/><ellipse cx="5.0" cy="47.2" rx="1.2" ry="3.3" transform="rotate(-10 5.0 47.2)" fill="#f4f4f4" opacity="0.13"/><ellipse cx="87.5" cy="78.9" rx="1.5" ry="3.0" transform="rotate(-29 87.5 78.9)" fill="#f4f4f4" opacity="0.21"/><ellipse cx="78.0" cy="65.4" rx="1.1" ry="2.9" transform="rotate(-4 78.0 65.4)" fill="#f4f4f4" opacity="0.12"/><ellipse cx="7.4" cy="24.1" rx="1.7" ry="2.7" transform="rotate(18 7.4 24.1)" fill="#f4f4f4" opacity="0.29"/><ellipse cx="10.5" cy="27.1" rx="1.2" ry="2.0" transform="rotate(-6 10.5 27.1)" fill="#f4f4f4" opacity="0.38"/><ellipse cx="43.0" cy="10.4" rx="1.7" ry="2.7" transform="rotate(-39 43.0 10.4)" fill="#f4f4f4" opacity="0.29"/><ellipse cx="22.7" cy="13.5" rx="1.3" ry="2.8" transform="rotate(-21 22.7 13.5)" fill="#f4f4f4" opacity="0.26"/><ellipse cx="62.5" cy="8.0" rx="1.8" ry="2.0" transform="rotate(2 62.5 8.0)" fill="#f4f4f4" opacity="0.29"/><ellipse cx="92.9" cy="52.1" rx="1.3" ry="2.6" transform="rotate(11 92.9 52.1)" fill="#f4f4f4" opacity="0.44"/><ellipse cx="23.8" cy="1.5" rx="1.6" ry="2.4" transform="rotate(19 23.8 1.5)" fill="#f4f4f4" opacity="0.33"/><ellipse cx="72.5" cy="69.1" rx="1.3" ry="2.0" transform="rotate(4 72.5 69.1)" fill="#f4f4f4" opacity="0.39"/><ellipse cx="16.5" cy="73.2" rx="1.4" ry="2.9" transform="rotate(11 16.5 73.2)" fill="#f4f4f4" opacity="0.39"/><ellipse cx="5.9" cy="73.0" rx="1.4" ry="2.3" transform="rotate(-36 5.9 73.0)" fill="#f4f4f4" opacity="0.19"/><ellipse cx="3.9" cy="87.7" rx="1.4" ry="3.3" transform="rotate(3 3.9 87.7)" fill="#f4f4f4" opacity="0.20"/><ellipse cx="70.8" cy="18.0" rx="1.3" ry="3.0" transform="rotate(29 70.8 18.0)" fill="#f4f4f4" opacity="0.23"/><ellipse cx="11.7" cy="34.6" rx="1.7" ry="2.9" transform="rotate(32 11.7 34.6)" fill="#f4f4f4" opacity="0.25"/><ellipse cx="91.5" cy="46.6" rx="1.4" ry="3.2" transform="rotate(2 91.5 46.6)" fill="#f4f4f4" opacity="0.38"/><ellipse cx="68.3" cy="7.4" rx="1.5" ry="3.1" transform="rotate(4 68.3 7.4)" fill="#f4f4f4" opacity="0.23"/><ellipse cx="7.5" cy="62.1" rx="1.2" ry="2.7" transform="rotate(-6 7.5 62.1)" fill="#f4f4f4" opacity="0.35"/><ellipse cx="33.0" cy="4.0" rx="1.7" ry="2.4" transform="rotate(40 33.0 4.0)" fill="#f4f4f4" opacity="0.21"/><ellipse cx="92.1" cy="89.1" rx="1.1" ry="2.8" transform="rotate(-11 92.1 89.1)" fill="#f4f4f4" opacity="0.38"/><ellipse cx="63.9" cy="89.6" rx="1.1" ry="2.8" transform="rotate(23 63.9 89.6)" fill="#f4f4f4" opacity="0.13"/><ellipse cx="6.3" cy="73.2" rx="1.3" ry="2.4" transform="rotate(5 6.3 73.2)" fill="#f4f4f4" opacity="0.32"/><ellipse cx="63.8" cy="89.2" rx="1.3" ry="3.0" transform="rotate(6 63.8 89.2)" fill="#f4f4f4" opacity="0.29"/><ellipse cx="37.4" cy="61.1" rx="1.2" ry="2.1" transform="rotate(19 37.4 61.1)" fill="#f4f4f4" opacity="0.28"/><ellipse cx="36.4" cy="52.8" rx="1.2" ry="2.3" transform="rotate(-4 36.4 52.8)" fill="#f4f4f4" opacity="0.45"/><ellipse cx="26.8" cy="86.1" rx="1.4" ry="2.1" transform="rotate(28 26.8 86.1)" fill="#f4f4f4" opacity="0.27"/><ellipse cx="84.5" cy="41.8" rx="1.1" ry="2.9" transform="rotate(28 84.5 41.8)" fill="#f4f4f4" opacity="0.23"/><ellipse cx="32.7" cy="6.1" rx="1.4" ry="3.1" transform="rotate(28 32.7 6.1)" fill="#f4f4f4" opacity="0.35"/><ellipse cx="87.2" cy="59.9" rx="1.6" ry="2.6" transform="rotate(-30 87.2 59.9)" fill="#f4f4f4" opacity="0.19"/><ellipse cx="13.1" cy="74.3" rx="1.0" ry="2.7" transform="rotate(-10 13.1 74.3)" fill="#f4f4f4" opacity="0.39"/><ellipse cx="51.9" cy="57.5" rx="1.1" ry="2.3" transform="rotate(40 51.9 57.5)" fill="#f4f4f4" opacity="0.36"/><ellipse cx="49.4" cy="72.3" rx="1.7" ry="2.0" transform="rotate(38 49.4 72.3)" fill="#f4f4f4" opacity="0.33"/><ellipse cx="42.3" cy="63.9" rx="1.3" ry="3.1" transform="rotate(22 42.3 63.9)" fill="#f4f4f4" opacity="0.33"/><ellipse cx="17.1" cy="90.8" rx="1.3" ry="3.2" transform="rotate(-36 17.1 90.8)" fill="#f4f4f4" opacity="0.16"/><ellipse cx="14.4" cy="15.5" rx="1.3" ry="2.9" transform="rotate(-12 14.4 15.5)" fill="#f4f4f4" opacity="0.43"/><ellipse cx="84.1" cy="79.5" rx="1.2" ry="2.8" transform="rotate(4 84.1 79.5)" fill="#f4f4f4" opacity="0.16"/><ellipse cx="28.5" cy="50.1" rx="1.4" ry="2.1" transform="rotate(35 28.5 50.1)" fill="#f4f4f4" opacity="0.17"/><ellipse cx="61.9" cy="67.7" rx="1.5" ry="3.1" transform="rotate(5 61.9 67.7)" fill="#f4f4f4" opacity="0.39"/><ellipse cx="2.7" cy="4.3" rx="1.5" ry="2.7" transform="rotate(12 2.7 4.3)" fill="#f4f4f4" opacity="0.37"/><ellipse cx="39.2" cy="60.1" rx="1.4" ry="2.8" transform="rotate(-17 39.2 60.1)" fill="#f4f4f4" opacity="0.44"/><ellipse cx="45.4" cy="75.6" rx="1.5" ry="2.3" transform="rotate(-34 45.4 75.6)" fill="#f4f4f4" opacity="0.14"/><ellipse cx="41.3" cy="45.5" rx="1.2" ry="2.7" transform="rotate(-15 41.3 45.5)" fill="#f4f4f4" opacity="0.36"/><ellipse cx="69.0" cy="80.9" rx="1.8" ry="2.1" transform="rotate(-10 69.0 80.9)" fill="#f4f4f4" opacity="0.31"/><ellipse cx="30.0" cy="43.8" rx="1.2" ry="2.2" transform="rotate(-32 30.0 43.8)" fill="#f4f4f4" opacity="0.22"/><ellipse cx="36.1" cy="57.8" rx="1.2" ry="3.1" transform="rotate(-27 36.1 57.8)" fill="#f4f4f4" opacity="0.23"/><ellipse cx="54.3" cy="29.4" rx="1.6" ry="2.6" transform="rotate(1 54.3 29.4)" fill="#f4f4f4" opacity="0.28"/><ellipse cx="29.0" cy="2.2" rx="1.8" ry="2.6" transform="rotate(37 29.0 2.2)" fill="#f4f4f4" opacity="0.19"/><ellipse cx="33.2" cy="4.8" rx="1.4" ry="3.1" transform="rotate(12 33.2 4.8)" fill="#f4f4f4" opacity="0.28"/><ellipse cx="50.4" cy="79.6" rx="1.3" ry="3.1" transform="rotate(18 50.4 79.6)" fill="#f4f4f4" opacity="0.37"/><ellipse cx="34.4" cy="37.7" rx="1.5" ry="2.2" transform="rotate(4 34.4 37.7)" fill="#f4f4f4" opacity="0.14"/><ellipse cx="47.4" cy="71.9" rx="1.2" ry="3.3" transform="rotate(14 47.4 71.9)" fill="#f4f4f4" opacity="0.16"/><ellipse cx="91.7" cy="37.0" rx="1.6" ry="2.4" transform="rotate(35 91.7 37.0)" fill="#f4f4f4" opacity="0.37"/><ellipse cx="18.7" cy="47.9" rx="1.4" ry="2.0" transform="rotate(-29 18.7 47.9)" fill="#f4f4f4" opacity="0.23"/><ellipse cx="44.5" cy="43.0" rx="1.5" ry="2.6" transform="rotate(-14 44.5 43.0)" fill="#f4f4f4" opacity="0.32"/><ellipse cx="15.3" cy="93.1" rx="1.6" ry="2.3" transform="rotate(-13 15.3 93.1)" fill="#f4f4f4" opacity="0.39"/><ellipse cx="50.0" cy="66.6" rx="1.2" ry="3.0" transform="rotate(-11 50.0 66.6)" fill="#f4f4f4" opacity="0.34"/><ellipse cx="92.1" cy="54.9" rx="1.6" ry="2.9" transform="rotate(15 92.1 54.9)" fill="#f4f4f4" opacity="0.13"/><ellipse cx="44.6" cy="90.9" rx="1.6" ry="3.0" transform="rotate(6 44.6 90.9)" fill="#f4f4f4" opacity="0.36"/><ellipse cx="54.9" cy="16.0" rx="1.5" ry="2.8" transform="rotate(27 54.9 16.0)" fill="#f4f4f4" opacity="0.17"/><ellipse cx="64.0" cy="3.0" rx="1.8" ry="2.1" transform="rotate(-38 64.0 3.0)" fill="#f4f4f4" opacity="0.22"/><ellipse cx="14.2" cy="64.9" rx="1.3" ry="3.0" transform="rotate(34 14.2 64.9)" fill="#f4f4f4" opacity="0.41"/><ellipse cx="69.2" cy="5.9" rx="1.1" ry="2.2" transform="rotate(-14 69.2 5.9)" fill="#f4f4f4" opacity="0.34"/><ellipse cx="49.4" cy="29.5" rx="1.1" ry="3.2" transform="rotate(-13 49.4 29.5)" fill="#f4f4f4" opacity="0.24"/><ellipse cx="72.6" cy="67.8" rx="1.5" ry="2.9" transform="rotate(9 72.6 67.8)" fill="#f4f4f4" opacity="0.18"/><ellipse cx="23.2" cy="52.5" rx="1.2" ry="3.3" transform="rotate(-16 23.2 52.5)" fill="#f4f4f4" opacity="0.22"/><ellipse cx="19.5" cy="66.3" rx="1.3" ry="2.4" transform="rotate(35 19.5 66.3)" fill="#f4f4f4" opacity="0.38"/><ellipse cx="25.7" cy="11.5" rx="1.5" ry="2.4" transform="rotate(38 25.7 11.5)" fill="#f4f4f4" opacity="0.39"/><ellipse cx="89.7" cy="75.6" rx="1.2" ry="2.3" transform="rotate(17 89.7 75.6)" fill="#f4f4f4" opacity="0.23"/><ellipse cx="41.6" cy="24.1" rx="1.4" ry="2.2" transform="rotate(3 41.6 24.1)" fill="#f4f4f4" opacity="0.43"/><ellipse cx="65.4" cy="12.9" rx="1.5" ry="2.7" transform="rotate(-21 65.4 12.9)" fill="#f4f4f4" opacity="0.34"/></g>
<text x="2.20" y="12.19" font-size="10.6" text-anchor="start" fill="#2a35e0">DAPI</text>
</g>
<g transform="translate(26 717)" clip-path="url(#ep)"><rect width="94.1" height="93.9" fill="#000"/>
<g filter="url(#bl05)"><circle cx="42.5" cy="9" r="1.3" fill="#eee"/><circle cx="28.7" cy="39.2" r="1.9" fill="#fff"/><circle cx="44.5" cy="84.6" r="1.5" fill="#f4f4f4"/><circle cx="7.6" cy="77.2" r="0.7" fill="#bbb"/><circle cx="11" cy="28" r="0.5" fill="#777"/></g>
<text x="3.40" y="12.19" font-size="10.6" text-anchor="start" fill="#3fa535">OLIG2</text>
</g>
<g transform="translate(122.1 717)" clip-path="url(#ep)"><rect width="94.1" height="93.9" fill="#000"/>
<rect width="94.1" height="93.9" filter="url(#hz2)"/>
<g filter="url(#bl05)"><ellipse cx="40.8" cy="8.3" rx="3.2" ry="1.4" fill="#fff"/><circle cx="29" cy="38.9" r="2" fill="#fff"/><ellipse cx="8.9" cy="76.2" rx="1.5" ry="3.2" fill="#f0f0f0"/><path d="M44.1 88 L43 82 L45 76 L45.6 82 L46 88Z" fill="#fff"/><path d="M64 72 C66 78 68 82 69 88" stroke="#444" stroke-width="0.8" fill="none"/></g>
<text x="1.60" y="12.19" font-size="10.6" text-anchor="start" fill="#d8202a">S100β</text>
</g>
<g id="barf">
<rect x="268.10" y="615.8" width="3" height="3" fill="#85bb4a"/>
<text x="276.60" y="620.20" font-size="10.9" text-anchor="start" fill="#111">GW15</text>
<rect x="310.30" y="615.8" width="3" height="3" fill="#f4837d"/>
<text x="319.40" y="620.20" font-size="10.9" text-anchor="start" fill="#111">GW16</text>
<rect x="352.80" y="615.8" width="3" height="3" fill="#2fb55d"/>
<text x="361.70" y="620.20" font-size="10.9" text-anchor="start" fill="#111">GW17</text>
<rect x="394.80" y="615.8" width="3" height="3" fill="#6f96e0"/>
<text x="404.00" y="620.20" font-size="10.9" text-anchor="start" fill="#111">GW17</text>
<path d="M269.2 655.2 V804.4 H346" fill="none" stroke="#c4c4c4" stroke-width="1.2"/>
<text x="267.00" y="665.11" font-size="9.8" text-anchor="end" fill="#333">100</text>
<path d="M267.6 661.6 h1.3" stroke="#bdbdbd" stroke-width="0.7"/>
<text x="267.00" y="700.41" font-size="9.8" text-anchor="end" fill="#333">75</text>
<path d="M267.6 696.9 h1.3" stroke="#bdbdbd" stroke-width="0.7"/>
<text x="267.00" y="736.11" font-size="9.8" text-anchor="end" fill="#333">50</text>
<path d="M267.6 732.6 h1.3" stroke="#bdbdbd" stroke-width="0.7"/>
<text x="267.00" y="771.81" font-size="9.8" text-anchor="end" fill="#333">25</text>
<path d="M267.6 768.3 h1.3" stroke="#bdbdbd" stroke-width="0.7"/>
<text x="267.00" y="807.21" font-size="9.8" text-anchor="end" fill="#333">0</text>
<path d="M267.6 803.7 h1.3" stroke="#bdbdbd" stroke-width="0.7"/>
<rect x="276.2" y="698.3" width="29.3" height="105.6" fill="#fff" stroke="#8a8a8a" stroke-width="0.6"/>
<rect x="312.3" y="768.3" width="29.3" height="35.6" fill="#fff" stroke="#8a8a8a" stroke-width="0.6"/>
<path d="M290.8 698.3 V680 M286.6 680 H295 M326.9 768.3 V750.2 M322.6 750.2 H331.2" stroke="#666" stroke-width="0.6" fill="none"/>
<rect x="289.25" y="666.45" width="2.3" height="2.3" fill="#f4837d"/>
<rect x="289.95" y="667.85" width="2.3" height="2.3" fill="#6f96e0"/>
<rect x="288.95" y="678.55" width="2.3" height="2.3" fill="#f4837d"/>
<rect x="292.75" y="679.95" width="2.3" height="2.3" fill="#85bb4a"/>
<rect x="286.65" y="693.65" width="2.3" height="2.3" fill="#2fb55d"/>
<rect x="288.75" y="693.65" width="2.3" height="2.3" fill="#2fb55d"/>
<rect x="289.25" y="713.05" width="2.3" height="2.3" fill="#6f96e0"/>
<rect x="288.05" y="718.35" width="2.3" height="2.3" fill="#2fb55d"/>
<rect x="292.05" y="759.45" width="2.3" height="2.3" fill="#85bb4a"/>
<rect x="325.55" y="705.35" width="2.3" height="2.3" fill="#85bb4a"/>
<rect x="323.95" y="746.35" width="2.3" height="2.3" fill="#2fb55d"/>
<rect x="329.25" y="752.05" width="2.3" height="2.3" fill="#6f96e0"/>
<rect x="323.55" y="771.55" width="2.3" height="2.3" fill="#2fb55d"/>
<rect x="326.95" y="771.55" width="2.3" height="2.3" fill="#2fb55d"/>
<rect x="323.95" y="784.95" width="2.3" height="2.3" fill="#85bb4a"/>
<rect x="322.25" y="786.95" width="2.3" height="2.3" fill="#f4837d"/>
<rect x="322.95" y="798.35" width="2.3" height="2.3" fill="#f4837d"/>
<rect x="328.65" y="797.05" width="2.3" height="2.3" fill="#6f96e0"/>
<text x="277.00" y="816.01" font-size="9.8" text-anchor="start" fill="#111">S100β<tspan font-size="6" dy="-3.5">+</tspan></text>
<text x="313.90" y="816.01" font-size="9.8" text-anchor="start" fill="#111">S100β<tspan font-size="6" dy="-3.5">-</tspan></text>
<text x="249.20" y="733.15" font-size="9.65" text-anchor="middle" fill="#111" transform="rotate(-90 249.20 729.70)">% in OLIG2<tspan font-size="6" dy="-3.2">+</tspan><tspan dy="3.2"> cells</tspan></text>
<path d="M378.7 653 V804.4 H458" fill="none" stroke="#c4c4c4" stroke-width="1.2"/>
<text x="376.60" y="662.91" font-size="9.8" text-anchor="end" fill="#333">100</text>
<path d="M377.4 659.4 h1.3" stroke="#bdbdbd" stroke-width="0.7"/>
<text x="376.60" y="699.01" font-size="9.8" text-anchor="end" fill="#333">75</text>
<path d="M377.4 695.5 h1.3" stroke="#bdbdbd" stroke-width="0.7"/>
<text x="376.60" y="735.51" font-size="9.8" text-anchor="end" fill="#333">50</text>
<path d="M377.4 732 h1.3" stroke="#bdbdbd" stroke-width="0.7"/>
<text x="376.60" y="771.71" font-size="9.8" text-anchor="end" fill="#333">25</text>
<path d="M377.4 768.2 h1.3" stroke="#bdbdbd" stroke-width="0.7"/>
<text x="376.60" y="807.21" font-size="9.8" text-anchor="end" fill="#333">0</text>
<path d="M377.4 803.7 h1.3" stroke="#bdbdbd" stroke-width="0.7"/>
<rect x="386.2" y="718.6" width="29.3" height="85.5" fill="#fff" stroke="#8a8a8a" stroke-width="0.6"/>
<rect x="422.3" y="745.5" width="29.3" height="58.6" fill="#fff" stroke="#8a8a8a" stroke-width="0.6"/>
<path d="M400.8 718.6 V698.1 M397 698.1 H404.6 M436.8 745.5 V724.9 M433.1 724.9 H440.5" stroke="#666" stroke-width="0.6" fill="none"/>
<path d="M400.8 651.6 v1.8 M436.8 651.6 v1.8" stroke="#444" stroke-width="0.6"/>
<rect x="397.55" y="668.45" width="2.3" height="2.3" fill="#85bb4a"/>
<rect x="395.25" y="692.55" width="2.3" height="2.3" fill="#2fb55d"/>
<rect x="394.35" y="695.85" width="2.3" height="2.3" fill="#2fb55d"/>
<rect x="395.85" y="717.65" width="2.3" height="2.3" fill="#f4837d"/>
<rect x="400.65" y="721.95" width="2.3" height="2.3" fill="#f4837d"/>
<rect x="401.55" y="727.65" width="2.3" height="2.3" fill="#85bb4a"/>
<rect x="402.15" y="730.25" width="2.3" height="2.3" fill="#85bb4a"/>
<rect x="395.25" y="737.85" width="2.3" height="2.3" fill="#6f96e0"/>
<rect x="396.95" y="749.55" width="2.3" height="2.3" fill="#6f96e0"/>
<rect x="435.85" y="712.65" width="2.3" height="2.3" fill="#6f96e0"/>
<rect x="439.55" y="725.25" width="2.3" height="2.3" fill="#6f96e0"/>
<rect x="435.05" y="732.65" width="2.3" height="2.3" fill="#85bb4a"/>
<rect x="436.75" y="736.75" width="2.3" height="2.3" fill="#85bb4a"/>
<rect x="439.35" y="741.15" width="2.3" height="2.3" fill="#f4837d"/>
<rect x="437.65" y="746.55" width="2.3" height="2.3" fill="#f4837d"/>
<rect x="438.95" y="768.35" width="2.3" height="2.3" fill="#2fb55d"/>
<rect x="433.75" y="770.95" width="2.3" height="2.3" fill="#2fb55d"/>
<rect x="439.55" y="793.55" width="2.3" height="2.3" fill="#85bb4a"/>
<text x="386.40" y="816.52" font-size="10.1" text-anchor="start" fill="#111">OLIG2<tspan font-size="6" dy="-3.5">+</tspan></text>
<text x="423.60" y="816.52" font-size="10.1" text-anchor="start" fill="#111">OLIG2<tspan font-size="6" dy="-3.5">-</tspan></text>
<text x="359.60" y="733.70" font-size="9.5" text-anchor="middle" fill="#111" transform="rotate(-90 359.60 730.30)">% in S100β<tspan font-size="6" dy="-3.2">+</tspan><tspan dy="3.2"> cells</tspan></text>
</g>
<g id="boxg">
<path d="M518.5 660.5 V806 H680.7" fill="none" stroke="#333" stroke-width="0.8"/>
<text x="515.60" y="679.07" font-size="9.7" text-anchor="end" fill="#333">4</text>
<path d="M517.2 675.6 h1.3" stroke="#333" stroke-width="0.6"/>
<text x="515.60" y="709.67" font-size="9.7" text-anchor="end" fill="#333">3</text>
<path d="M517.2 706.2 h1.3" stroke="#333" stroke-width="0.6"/>
<text x="515.60" y="740.47" font-size="9.7" text-anchor="end" fill="#333">2</text>
<path d="M517.2 737 h1.3" stroke="#333" stroke-width="0.6"/>
<text x="515.60" y="771.57" font-size="9.7" text-anchor="end" fill="#333">1</text>
<path d="M517.2 768.1 h1.3" stroke="#333" stroke-width="0.6"/>
<text x="515.60" y="802.67" font-size="9.7" text-anchor="end" fill="#333">0</text>
<path d="M517.2 799.2 h1.3" stroke="#333" stroke-width="0.6"/>
<path d="M549.2 785.2 V775.2 M535.5 775.2 H562.6 M549.2 798.6 V799.2 M535.5 799.2 H562.6" stroke="#333" stroke-width="0.7" fill="none"/>
<rect x="529.9" y="785.2" width="38.40" height="13.40" fill="#a8c5a5" stroke="#333" stroke-width="0.6"/>
<path d="M529.9 792 H568.3" stroke="#1a1a1a" stroke-width="1.3"/>
<path d="M599.6 760.4 V750.2 M587.4 750.2 H612.4 M599.6 789.8 V799.2 M587.4 799.2 H612.4" stroke="#333" stroke-width="0.7" fill="none"/>
<rect x="580.5" y="760.4" width="38.20" height="29.40" fill="#85507f" stroke="#333" stroke-width="0.6"/>
<path d="M580.5 776.7 H618.7" stroke="#1a1a1a" stroke-width="1.3"/>
<path d="M650.3 722.3 V696.1 M638 696.1 H662.8 M650.3 782.9 V799.2 M638 799.2 H662.8" stroke="#333" stroke-width="0.7" fill="none"/>
<rect x="630.9" y="722.3" width="38.70" height="60.60" fill="#2f6090" stroke="#333" stroke-width="0.6"/>
<path d="M630.9 744.2 H669.6" stroke="#1a1a1a" stroke-width="1.3"/>
<circle cx="549.2" cy="730.8" r="0.55" fill="#555"/>
<circle cx="549.2" cy="759.6" r="0.55" fill="#555"/>
<circle cx="549.2" cy="764.4" r="0.55" fill="#555"/>
<circle cx="599.6" cy="712.3" r="0.55" fill="#555"/>
<path d="M549.2 682.4 H651.4 M601 692.4 H651.7 M549.2 702.4 H599.6" stroke="#444" stroke-width="0.7"/>
<text x="600.20" y="681.30" font-size="9.5" text-anchor="middle" fill="#111">***</text>
<text x="626.40" y="691.30" font-size="9.5" text-anchor="middle" fill="#111">***</text>
<text x="571.40" y="700.78" font-size="10" text-anchor="middle" fill="#111">ns</text>
<text x="549.20" y="816.68" font-size="10" text-anchor="middle" fill="#111">NSC</text>
<text x="602.40" y="816.68" font-size="10" text-anchor="middle" fill="#111">Astrocyte</text>
<text x="650.80" y="816.68" font-size="10" text-anchor="middle" fill="#111">OPC</text>
<text x="502.00" y="729.44" font-size="9.6" text-anchor="middle" fill="#111" transform="rotate(-90 502.00 726.00)">S100B Expression</text>
</g>
</svg></body></html>
